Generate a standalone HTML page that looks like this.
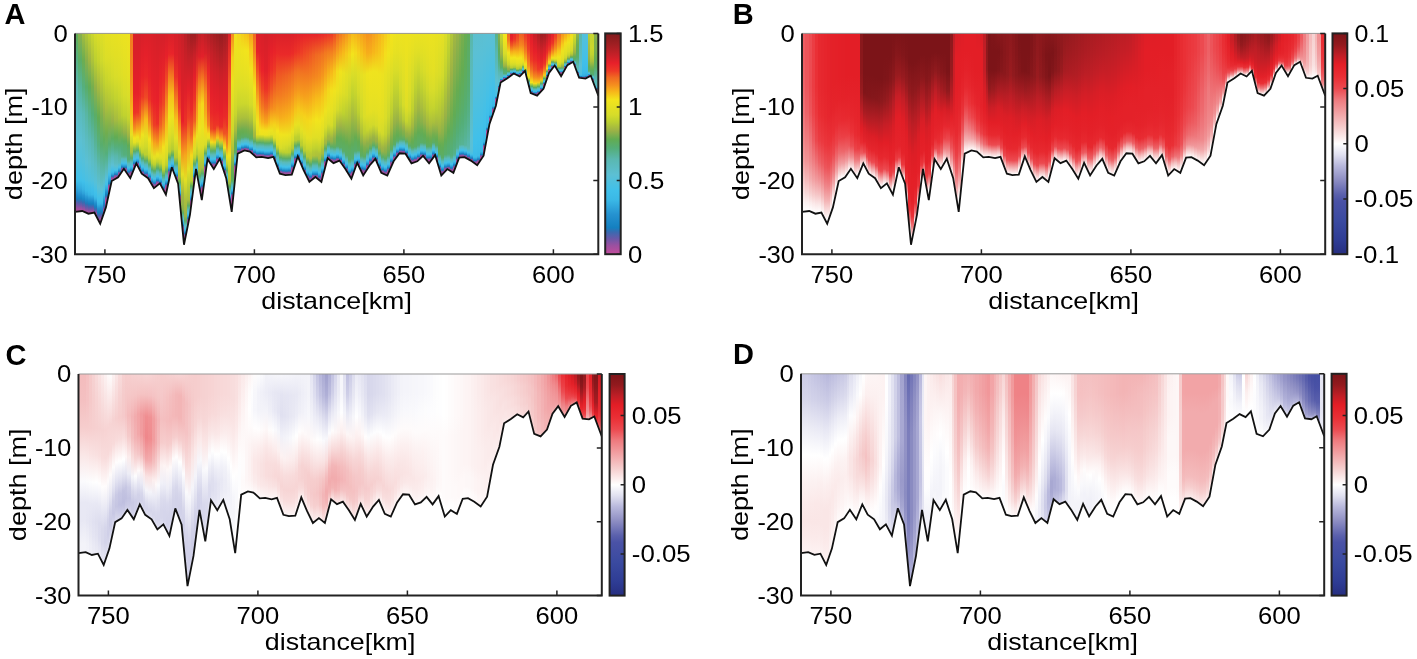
<!DOCTYPE html>
<html><head><meta charset="utf-8"><style>
html,body{margin:0;padding:0;background:#fff;width:1417px;height:659px;overflow:hidden;position:relative}
i{position:absolute;display:block;top:0}
svg{position:absolute;left:0;top:0;display:block;will-change:transform}
text{font-family:"Liberation Sans",sans-serif;fill:#000}
</style></head><body>
<div style="position:absolute;overflow:hidden;filter:blur(0.7px);left:75.0px;top:33.4px;width:523.3px;height:220.8px"><i style="left:0px;width:5px;height:180px;background:linear-gradient(#61ac56 0.0px,#55b084 26.7px,#5ab8b2 53.5px,#5bbdc6 80.2px,#5bc0d5 107.0px,#4fc0de 128.4px,#40c0ea 146.2px,#3ebde8 148.3px,#2ea2da 156.3px,#2491cf 160.4px,#1e8bca 162.3px,#1c7bbd 166.3px,#5361ac 169.4px,#5e5caa 170.3px,#7d55a5 172.8px,#9751a1 174.8px,#a44f9f 176.3px,#b64d9d 178.3px)"></i><i style="left:3px;width:6px;height:180px;background:linear-gradient(#8bb04a 0.0px,#5cad64 26.7px,#57b497 53.3px,#5bbbbd 80.0px,#5cc0d2 106.7px,#51c0dd 128.0px,#43c0e8 145.8px,#3fbfe9 147.8px,#33abde 155.8px,#2998d4 160.0px,#2390ce 161.8px,#1683c2 165.8px,#4267af 168.9px,#4f62ad 169.8px,#7157a7 172.3px,#8d52a2 174.3px,#9f50a0 175.8px,#b54d9d 177.8px)"></i><i style="left:7px;width:5px;height:182px;background:linear-gradient(#a6bc3f 0.0px,#6dad50 26.7px,#55af7e 53.5px,#5ab9b4 80.2px,#5cbecc 107.0px,#54c0da 128.4px,#46c0e5 146.2px,#40c0ea 148.3px,#37b2e3 156.3px,#2ea2d9 160.4px,#2795d2 162.3px,#1986c5 166.3px,#356db2 169.4px,#4367af 170.3px,#6759a8 172.8px,#8554a4 174.8px,#9b50a0 176.3px,#b64d9d 178.3px)"></i><i style="left:10px;width:5px;height:182px;background:linear-gradient(#b3c736 0.0px,#88b04a 26.9px,#59ad6a 53.9px,#59b6a3 80.8px,#5bbcc2 107.8px,#5ac0d6 129.3px,#4ac0e2 147.3px,#44c0e7 149.6px,#3ab9e6 157.6px,#32aade 161.7px,#2b9cd6 163.6px,#1c89c8 167.6px,#2477b9 170.6px,#376cb1 171.6px,#5e5daa 174.1px,#7d55a5 176.1px,#9451a1 177.6px,#b54d9d 179.6px)"></i><i style="left:13px;width:5px;height:182px;background:linear-gradient(#bfd12f 0.0px,#9fb544 27.0px,#60ac57 54.0px,#56b28d 81.0px,#5abab8 108.0px,#5cbfcf 129.6px,#4ec0df 147.6px,#48c0e3 150.0px,#3cbbe7 158.0px,#37b3e3 162.0px,#2fa4da 164.0px,#1f8bca 168.0px,#177ebf 171.0px,#2a73b7 172.0px,#5560ab 174.5px,#7656a6 176.5px,#8e52a2 178.0px,#b64d9d 180.0px)"></i><i style="left:16px;width:5px;height:182px;background:linear-gradient(#ccd72c 0.0px,#aec33a 26.9px,#76ae4e 53.8px,#54ae77 80.7px,#5ab7ac 107.6px,#5bbdc7 129.2px,#52c0db 147.1px,#4dc0e0 149.4px,#3ebde9 157.4px,#3bb9e7 161.5px,#33acdf 163.4px,#228fcd 167.4px,#1682c2 170.4px,#1d7bbc 171.4px,#4c63ad 173.9px,#6e57a7 175.9px,#8753a3 177.4px,#b64d9d 179.4px)"></i><i style="left:19px;width:5px;height:192px;background:linear-gradient(#d7dc29 0.0px,#bcd030 27.3px,#92b148 54.6px,#5bad66 81.9px,#57b396 109.1px,#5bbbc0 131.0px,#56c0d8 149.2px,#51c0dd 151.9px,#40c0ea 159.9px,#3dbce8 163.7px,#37b2e2 165.9px,#2491cf 169.9px,#1884c4 172.8px,#1480c0 173.9px,#4466ae 176.4px,#6759a8 178.4px,#8554a4 179.9px,#b64d9d 181.9px)"></i><i style="left:22px;width:5px;height:192px;background:linear-gradient(#dbdd28 0.0px,#c6d42e 28.1px,#a2b842 56.2px,#62ac53 84.4px,#55b081 112.5px,#5ab9b6 135.0px,#5cc0d3 153.7px,#54c0da 157.5px,#41c0e9 165.5px,#3ebde9 168.7px,#37b2e3 171.5px,#2592d0 175.5px,#1a86c6 178.1px,#1682c1 179.5px,#3f68af 182.0px,#645aa9 184.0px,#8554a4 185.5px,#b64d9d 187.5px)"></i><i style="left:25px;width:5px;height:192px;background:linear-gradient(#dede26 0.0px,#cfd92c 27.9px,#adc23a 55.9px,#7caf4d 83.8px,#58ad6d 111.7px,#59b6a7 134.1px,#5bbecb 152.7px,#5ac0d5 156.2px,#46c0e5 164.2px,#3fbfe9 167.6px,#3ab8e6 170.2px,#2897d3 174.2px,#1c89c8 176.9px,#1884c4 178.2px,#366cb2 180.7px,#5e5caa 182.7px,#8354a4 184.2px,#b54d9d 186.2px)"></i><i style="left:28px;width:4px;height:192px;background:linear-gradient(#e1df25 0.0px,#d7dc29 26.7px,#b9cd32 53.4px,#98b247 80.1px,#5fac5b 106.8px,#57b392 128.2px,#5bbcc2 146.0px,#5bbeca 148.1px,#4cc0e0 156.1px,#40c0ea 160.3px,#3cbbe8 162.1px,#2ca0d8 166.1px,#1e8bca 169.2px,#1b87c6 170.1px,#2874b8 172.6px,#575fab 174.6px,#8553a3 176.1px,#b64d9d 178.1px)"></i><i style="left:30px;width:5px;height:176px;background:linear-gradient(#e5e023 0.0px,#dcde27 25.1px,#c5d42e 50.2px,#a9be3d 75.3px,#70ad4f 100.4px,#54af7c 120.5px,#5bbaba 137.3px,#5bbabb 137.4px,#55c0da 145.4px,#43c0e8 150.7px,#40bfea 151.4px,#33abdf 155.4px,#218ecc 159.0px,#1f8cca 159.4px,#1480c0 161.9px,#4c63ad 163.9px,#8554a4 165.4px,#b64d9d 167.4px)"></i><i style="left:33px;width:5px;height:176px;background:linear-gradient(#e6e022 0.0px,#dede26 23.1px,#cdd82c 46.3px,#b2c737 69.4px,#85b04b 92.5px,#58ad6e 111.0px,#59b7ab 124.2px,#5ab9b3 126.4px,#5bbeca 132.2px,#50c0dd 138.2px,#4ec0df 138.8px,#3ebde9 142.2px,#30a7dc 146.2px,#2fa4da 146.5px,#2491cf 148.7px,#1480c0 150.7px,#8554a4 152.2px,#b64d9d 154.2px)"></i><i style="left:36px;width:5px;height:150px;background:linear-gradient(#e7e122 0.0px,#e0df25 22.0px,#d4db2a 44.0px,#bace32 66.0px,#98b247 88.0px,#5cad61 105.6px,#57b393 116.7px,#59b6a5 120.3px,#5bbaba 124.7px,#5cbfcf 130.7px,#5cc0d4 132.0px,#4fc0df 134.7px,#3ebee9 138.7px,#3dbce8 139.3px,#2fa5db 141.2px,#167fbf 143.2px,#8553a3 144.7px,#b64d9d 146.7px)"></i><i style="left:39px;width:6px;height:150px;background:linear-gradient(#e8e121 0.0px,#e2df24 21.7px,#d9dd29 43.4px,#c2d32f 65.2px,#a5bb40 86.9px,#61ac54 104.3px,#55af80 114.8px,#57b394 118.8px,#59b7ab 122.8px,#5bbbbd 128.8px,#5bbcc1 130.3px,#5cbfcd 132.8px,#47c0e5 136.8px,#3ebee9 137.6px,#30a6dc 139.3px,#1480c0 141.3px,#8354a4 142.8px,#b54d9d 144.8px)"></i><i style="left:43px;width:5px;height:146px;background:linear-gradient(#eae121 0.0px,#e3e024 21.3px,#dcde27 42.5px,#cad72d 63.8px,#b0c538 85.1px,#73ae4e 102.1px,#57ae6f 111.8px,#55b083 116.3px,#57b291 119.8px,#59b7a9 125.8px,#5ab8b0 127.6px,#5abab9 129.8px,#46c0e5 133.8px,#3ebde8 134.7px,#2fa5db 136.3px,#167fbf 138.3px,#8553a3 139.8px,#b64d9d 141.8px)"></i><i style="left:46px;width:4px;height:146px;background:linear-gradient(#ebe220 0.0px,#e5e023 20.6px,#dfdf26 41.3px,#d2da2b 61.9px,#bbcf31 82.5px,#86b04a 99.0px,#5dad60 108.1px,#56ae74 112.8px,#54ae7a 115.9px,#56b187 121.8px,#57b393 123.8px,#5abab8 125.7px,#46c0e5 129.7px,#3dbde8 130.6px,#30a6dc 132.1px,#157fc0 134.1px,#8653a3 135.6px,#b54d9d 137.5px)"></i><i style="left:48px;width:6px;height:147px;background:linear-gradient(#ece220 0.0px,#e7e122 20.7px,#e2df24 41.3px,#d7dc2a 62.0px,#c0d22f 82.6px,#93b148 99.2px,#60ac59 108.2px,#58ad6d 113.0px,#56ae73 116.1px,#55af7e 122.0px,#57b393 124.0px,#5abab8 125.9px,#46c0e5 129.9px,#3dbce8 130.9px,#30a6dc 132.3px,#1480c0 134.3px,#8553a3 135.8px,#b54d9d 137.7px)"></i><i style="left:52px;width:5px;height:147px;background:linear-gradient(#ede21f 0.0px,#eae121 21.4px,#e4e023 42.7px,#d9dd29 64.1px,#c5d42e 85.5px,#9eb445 102.6px,#61ac55 112.4px,#5aad68 116.8px,#58ad6e 120.4px,#54ae78 126.4px,#56b28c 128.2px,#5abab8 130.4px,#47c0e4 134.4px,#3ebde9 135.3px,#2fa4da 137.0px,#187ebe 139.0px,#8154a4 140.4px,#b54d9d 142.4px)"></i><i style="left:55px;width:5px;height:147px;background:linear-gradient(#f27c20 0.0px,#f38020 21.2px,#f48b1f 42.3px,#f6a01c 63.5px,#f6c31a 84.6px,#e5e023 101.6px,#c5d42e 111.1px,#aec339 115.7px,#aabf3d 119.1px,#5bad66 125.1px,#57b290 127.0px,#5abab9 129.1px,#46c0e5 133.1px,#3ebde8 134.0px,#2fa5db 135.6px,#167fbf 137.6px,#8553a3 139.1px,#b64d9d 141.1px)"></i><i style="left:58px;width:5px;height:147px;background:linear-gradient(#d92029 0.0px,#da2029 20.0px,#e0202a 40.1px,#e6202a 60.1px,#ed3427 80.2px,#f5941e 96.2px,#f2e41d 105.0px,#e4e023 109.6px,#bdd130 112.6px,#5bad66 118.4px,#57b393 120.3px,#5abab9 122.2px,#46c0e5 126.0px,#3dbde8 126.9px,#2fa5db 128.4px,#157fbf 130.3px,#8354a4 131.7px,#b54d9d 133.6px)"></i><i style="left:61px;width:5px;height:142px;background:linear-gradient(#d62029 0.0px,#da2029 19.9px,#e0202a 39.7px,#e6202a 59.6px,#ed3627 79.5px,#f6a11c 95.4px,#efe31e 104.1px,#e1df25 108.6px,#bcd030 111.7px,#5bad66 117.4px,#57b291 119.2px,#5abab8 121.1px,#47c0e5 124.9px,#3dbce8 125.9px,#30a5db 127.3px,#157fc0 129.2px,#8454a4 130.6px,#b64d9d 132.5px)"></i><i style="left:64px;width:4px;height:142px;background:linear-gradient(#d52029 0.0px,#dc2029 20.7px,#e3202a 41.3px,#e92629 62.0px,#ef5424 82.6px,#f7bd1a 99.1px,#e8e121 108.2px,#dcde27 112.9px,#bbd030 116.1px,#5bad66 122.0px,#57b391 123.9px,#5abab9 125.9px,#47c0e4 129.8px,#3dbce8 130.8px,#30a5db 132.3px,#187ebe 134.3px,#8254a4 135.7px,#b64d9d 137.7px)"></i><i style="left:66px;width:5px;height:147px;background:linear-gradient(#d82029 0.0px,#e2202a 21.2px,#e92329 42.4px,#ee3826 63.6px,#f5961d 84.9px,#eee31f 101.8px,#dbdd28 111.4px,#cdd82c 116.0px,#bdd030 119.4px,#5bad65 125.4px,#56b28f 127.3px,#5abab8 129.4px,#47c0e5 133.4px,#3dbce8 134.4px,#30a6dc 135.9px,#1480c0 137.9px,#8354a4 139.4px,#b54d9d 141.4px)"></i><i style="left:69px;width:6px;height:147px;background:linear-gradient(#da2029 0.0px,#e5202a 21.6px,#ea2729 43.1px,#ef4a25 64.7px,#f7ba1a 86.2px,#e4e023 103.4px,#cfd92c 113.7px,#c1d22f 117.8px,#bbcf31 121.7px,#5bad66 127.7px,#56b189 129.3px,#5abab9 131.7px,#46c0e5 135.7px,#3ebde9 136.5px,#2fa5db 138.2px,#167fbf 140.2px,#8553a3 141.7px,#b64d9d 143.7px)"></i><i style="left:73px;width:5px;height:157px;background:linear-gradient(#da2029 0.0px,#e2202a 22.1px,#e8222a 44.2px,#ec3227 66.3px,#f3841f 88.4px,#f3e41c 106.1px,#dbdd28 117.3px,#d0d92b 120.8px,#bcd030 125.3px,#5bad65 131.3px,#55b081 132.6px,#5abab9 135.3px,#47c0e5 139.3px,#3fbfe9 139.9px,#30a5db 141.8px,#1480c0 143.8px,#8554a4 145.3px,#b64d9d 147.3px)"></i><i style="left:76px;width:4px;height:157px;background:linear-gradient(#d92029 0.0px,#df2029 22.8px,#e5202a 45.7px,#ea2729 68.5px,#ef5d23 91.4px,#f6c11a 109.7px,#e0df25 122.3px,#dadd28 124.9px,#bcd030 130.3px,#5bad65 136.3px,#55ae75 137.1px,#5abab9 140.3px,#47c0e5 144.3px,#41c0e9 144.7px,#30a5db 146.8px,#1480c0 148.8px,#8554a4 150.3px,#b64d9d 152.3px)"></i><i style="left:78px;width:5px;height:157px;background:linear-gradient(#d72029 0.0px,#dd2029 23.0px,#e3202a 46.1px,#e9232a 69.1px,#ee3d26 92.1px,#f6a71c 110.6px,#e6e022 123.6px,#e0df25 125.9px,#bcd030 131.6px,#5bad66 137.6px,#56ae72 138.2px,#5abab9 141.6px,#46c0e5 145.6px,#42c0e9 145.9px,#2fa5db 148.1px,#167fbf 150.1px,#8553a3 151.6px,#b64d9d 153.6px)"></i><i style="left:81px;width:5px;height:157px;background:linear-gradient(#d42029 0.0px,#db2029 22.7px,#e1202a 45.3px,#e8202a 68.0px,#ec3027 90.7px,#f5921e 108.8px,#ece21f 121.1px,#e5e023 123.9px,#bdd130 129.1px,#5bad65 135.1px,#54ae77 136.0px,#5abab8 139.1px,#47c0e5 143.1px,#40c0ea 143.6px,#30a6dc 145.6px,#1480c0 147.6px,#8354a4 149.1px,#b54d9d 151.1px)"></i><i style="left:84px;width:5px;height:163px;background:linear-gradient(#d42029 0.0px,#dd2029 22.9px,#e8212a 45.8px,#ec3028 68.7px,#f05f23 91.6px,#f7ba1a 110.0px,#e4e023 122.7px,#dede26 125.2px,#bdd130 130.7px,#5bad65 136.7px,#55ae75 137.5px,#5abab8 140.7px,#47c0e5 144.7px,#41c0e9 145.1px,#30a6dc 147.2px,#1480c0 149.2px,#8354a4 150.7px,#b54d9d 152.7px)"></i><i style="left:87px;width:5px;height:163px;background:linear-gradient(#d42029 0.0px,#e0202a 23.8px,#ea2829 47.5px,#ef4725 71.3px,#f48a1f 95.0px,#f3e01c 114.0px,#dbdd28 128.4px,#d8dd29 129.9px,#bcd030 136.4px,#5bad66 142.4px,#5aad68 142.5px,#5abab9 146.4px,#46c0e5 150.4px,#45c0e6 150.5px,#2fa5db 152.9px,#167fbf 154.9px,#8553a3 156.4px,#b64d9d 158.4px)"></i><i style="left:90px;width:5px;height:163px;background:linear-gradient(#d62029 0.0px,#e7202a 23.2px,#ef4825 46.3px,#f4851f 69.5px,#f6bf1a 92.6px,#e9e121 111.1px,#d5db2a 124.4px,#ced82c 126.6px,#bcd030 132.4px,#5bad66 138.4px,#57ae70 138.9px,#5abab9 142.4px,#46c0e5 146.4px,#42c0e9 146.7px,#2fa5db 148.9px,#167fbf 150.9px,#8553a3 152.4px,#b64d9d 154.4px)"></i><i style="left:93px;width:5px;height:163px;background:linear-gradient(#d92029 0.0px,#e92529 21.1px,#f27a20 42.2px,#f6c31b 63.3px,#eee31e 84.4px,#ddde26 101.3px,#ced82c 110.7px,#c2d32f 115.4px,#bdd030 118.7px,#5bad65 124.7px,#57b392 126.7px,#5abab8 128.7px,#47c0e5 132.7px,#3dbce8 133.7px,#30a6dc 135.2px,#1480c0 137.2px,#8354a4 138.7px,#b54d9d 140.7px)"></i><i style="left:96px;width:5px;height:152px;background:linear-gradient(#d92029 0.0px,#e9232a 20.7px,#f17421 41.4px,#f6c11a 62.1px,#ede21f 82.8px,#dbdd27 99.4px,#c9d62d 108.4px,#bcd030 113.2px,#b7cc33 116.3px,#5bad65 122.2px,#57b392 124.2px,#5abab9 126.2px,#47c0e5 130.1px,#3dbce8 131.1px,#2fa5db 132.6px,#1581c1 134.5px,#8354a4 136.0px,#b64d9d 138.0px)"></i><i style="left:99px;width:6px;height:152px;background:linear-gradient(#d52029 0.0px,#de2029 21.9px,#ec3127 43.9px,#f27920 65.8px,#f6c51b 87.7px,#e3e024 105.3px,#cad62d 116.2px,#bcd030 119.9px,#b6ca34 124.2px,#5bad65 130.2px,#55b084 131.6px,#5abab9 134.2px,#47c0e5 138.2px,#3fbee9 138.9px,#30a5db 140.7px,#1480c0 142.7px,#8554a4 144.2px,#b64d9d 146.2px)"></i><i style="left:103px;width:5px;height:213px;background:linear-gradient(#cf2028 0.0px,#d82029 24.8px,#e8202a 49.7px,#ee3c26 74.5px,#f6a71c 99.3px,#e5e023 119.2px,#b1c637 135.5px,#b0c538 135.8px,#a7bc3e 143.5px,#5ead5c 149.0px,#5bad64 149.5px,#5abab8 153.5px,#49c0e3 157.3px,#47c0e4 157.5px,#30a7dc 160.0px,#1581c1 162.0px,#8154a4 163.5px,#b54d9d 165.5px)"></i><i style="left:106px;width:5px;height:213px;background:linear-gradient(#c82028 0.0px,#d42029 29.4px,#db2029 58.8px,#e8202a 88.2px,#f58f1e 117.6px,#e5e023 141.2px,#a2b742 160.8px,#9db246 166.0px,#8eb149 174.0px,#8ab04a 176.4px,#5bad64 180.0px,#5abab8 184.0px,#5ac0d5 186.2px,#47c0e4 188.0px,#30a7dc 190.5px,#1581c1 192.5px,#8154a4 194.0px,#b54d9d 196.0px)"></i><i style="left:109px;width:5px;height:213px;background:linear-gradient(#b92026 0.0px,#cd2028 30.6px,#e1202a 61.1px,#ec3227 91.7px,#f6a71c 122.3px,#e2df24 146.7px,#aabf3c 167.1px,#a4b941 173.8px,#9cb246 181.8px,#99b247 183.4px,#5bad66 187.8px,#5abab9 191.8px,#5cbfd2 193.6px,#46c0e5 195.8px,#2fa5db 198.3px,#167fbf 200.3px,#8553a3 201.8px,#b64d9d 203.8px)"></i><i style="left:112px;width:5px;height:213px;background:linear-gradient(#a91f23 0.0px,#c72028 28.3px,#e4202a 56.6px,#ee3f26 84.9px,#f6a71c 113.2px,#e4e023 135.9px,#b7cb34 154.8px,#b3c736 158.7px,#aabf3c 166.7px,#89b04a 169.9px,#5bad65 172.7px,#5abab8 176.7px,#56c0d9 179.3px,#47c0e5 180.7px,#30a6dc 183.2px,#1480c0 185.2px,#8354a4 186.7px,#b54d9d 188.7px)"></i><i style="left:115px;width:5px;height:183px;background:linear-gradient(#9c1e21 0.0px,#c42027 25.5px,#da2029 50.9px,#ea2929 76.4px,#f06423 101.8px,#f4d81b 122.2px,#cdd82c 139.2px,#ccd82c 139.7px,#bed130 147.7px,#61ac56 152.8px,#5bad64 153.7px,#5abab8 157.7px,#4bc0e1 161.3px,#47c0e4 161.7px,#30a7dc 164.2px,#1581c1 166.2px,#8154a4 167.7px,#b54d9d 169.7px)"></i><i style="left:118px;width:5px;height:183px;background:linear-gradient(#9c1e21 0.0px,#c82028 22.0px,#e5202a 44.1px,#ed3427 66.1px,#f06223 88.1px,#f5d01b 105.7px,#ddde27 116.8px,#d1da2b 120.4px,#bed130 124.8px,#5bad64 130.8px,#55b082 132.2px,#5abab8 134.8px,#47c0e4 138.8px,#3fbfe9 139.5px,#2fa4da 141.4px,#187ebe 143.4px,#8154a4 144.8px,#b54d9d 146.8px)"></i><i style="left:121px;width:4px;height:169px;background:linear-gradient(#ad1f24 0.0px,#d42029 21.5px,#ee3d26 43.0px,#f38120 64.5px,#f6a91b 85.9px,#eae220 103.1px,#d3da2b 113.2px,#c0d22f 117.4px,#bace31 121.2px,#5bad65 127.2px,#56b18a 128.9px,#5abab8 131.2px,#47c0e5 135.2px,#3ebde9 136.1px,#30a6dc 137.7px,#1480c0 139.7px,#8354a4 141.2px,#b54d9d 143.2px)"></i><i style="left:123px;width:5px;height:169px;background:linear-gradient(#be2026 0.0px,#df2029 23.8px,#f27521 47.7px,#f5ca1b 71.5px,#eee31e 95.3px,#dbdd28 114.4px,#b4c836 128.9px,#b0c538 130.3px,#a7bd3e 136.9px,#5bad66 142.9px,#5aad68 143.0px,#5abab9 146.9px,#46c0e5 150.9px,#2fa5db 153.4px,#167fbf 155.4px,#8553a3 156.9px,#b64d9d 158.9px)"></i><i style="left:126px;width:5px;height:169px;background:linear-gradient(#c52027 0.0px,#e3202a 23.5px,#f37e20 46.9px,#f4d71b 70.4px,#eae220 93.9px,#ddde27 112.6px,#b9cd32 126.4px,#b4c836 128.3px,#acc13b 134.4px,#5bad64 140.4px,#58ad6c 140.8px,#5abab8 144.4px,#47c0e4 148.4px,#44c0e7 148.6px,#30a7dc 150.9px,#1581c1 152.9px,#8154a4 154.4px,#b54d9d 156.4px)"></i><i style="left:129px;width:5px;height:169px;background:linear-gradient(#bc2026 0.0px,#d92029 20.4px,#ef4e24 40.8px,#f58e1e 61.2px,#f6ae1b 81.6px,#f4d81b 97.9px,#e1df25 106.8px,#d6dc2a 111.5px,#bcd030 114.6px,#5bad65 120.4px,#57b393 122.4px,#5abab9 124.3px,#46c0e5 128.2px,#3dbce8 129.2px,#30a6db 130.6px,#187ebe 132.6px,#8454a4 134.0px,#b54d9d 135.9px)"></i><i style="left:132px;width:5px;height:138px;background:linear-gradient(#b31f25 0.0px,#cf2028 19.2px,#ea2729 38.5px,#ee3e26 57.7px,#ef5a23 76.9px,#f3841f 92.3px,#f4da1c 100.7px,#e8e121 105.1px,#bbcf30 108.1px,#5bad64 113.5px,#57b393 115.4px,#5abab8 117.2px,#46c0e5 120.9px,#3dbce8 121.8px,#2fa4db 123.2px,#1480c0 125.0px,#8653a3 126.4px,#b64d9d 128.2px)"></i><i style="left:135px;width:5px;height:138px;background:linear-gradient(#aa1f24 0.0px,#c52028 20.0px,#d82029 40.0px,#e5202a 59.9px,#ea2829 79.9px,#ee4525 95.9px,#f6ac1b 104.7px,#f3df1c 109.2px,#bcd030 112.3px,#5bad65 118.0px,#57b393 119.9px,#5abab9 121.8px,#46c0e5 125.6px,#3dbde8 126.5px,#2fa5db 128.0px,#177ebf 129.9px,#8554a4 131.3px,#b64d9d 133.2px)"></i><i style="left:138px;width:5px;height:138px;background:linear-gradient(#a21f22 0.0px,#bd2026 20.0px,#d32029 39.9px,#e1202a 59.9px,#e92529 79.9px,#ee3926 95.8px,#f69f1d 104.6px,#f5d31b 109.2px,#bcd030 112.2px,#5bad65 117.9px,#57b392 119.8px,#5abab8 121.7px,#47c0e5 125.5px,#3dbce8 126.5px,#30a5db 127.9px,#1480c0 129.8px,#8354a4 131.2px,#b54d9d 133.1px)"></i><i style="left:141px;width:5px;height:138px;background:linear-gradient(#9c1e21 0.0px,#b52025 19.2px,#ce2028 38.4px,#de2029 57.6px,#e8222a 76.8px,#ed3427 92.1px,#f5941e 100.6px,#f6c61b 104.9px,#bbd030 107.9px,#5bad64 113.3px,#57b393 115.2px,#5abab9 117.0px,#46c0e5 120.7px,#3dbce8 121.6px,#30a7dc 122.9px,#167fbf 124.8px,#8154a4 126.1px,#b64d9d 128.0px)"></i><i style="left:144px;width:6px;height:147px;background:linear-gradient(#961d20 0.0px,#ae1f24 19.5px,#c82028 39.1px,#da2029 58.6px,#e7202a 78.1px,#eb2e28 93.8px,#f4881f 102.3px,#f7ba1a 106.8px,#bcd030 109.8px,#5bad66 115.4px,#57b391 117.2px,#5abab9 119.1px,#47c0e5 122.8px,#3dbde8 123.7px,#30a6dc 125.1px,#1580c0 127.0px,#8553a3 128.4px,#b54d9d 130.2px)"></i><i style="left:148px;width:5px;height:147px;background:linear-gradient(#9e1f22 0.0px,#b82026 21.0px,#d02028 42.0px,#df2029 63.0px,#ea2929 84.0px,#ef5524 100.8px,#f7ba1a 110.0px,#f0e31e 114.8px,#bbcf30 118.0px,#5bad66 124.0px,#57b393 126.0px,#5bbab9 128.0px,#46c0e5 132.0px,#3dbce8 133.0px,#2fa4db 134.5px,#187ebe 136.5px,#8653a3 138.0px,#b64d9d 140.0px)"></i><i style="left:151px;width:4px;height:180px;background:linear-gradient(#a81f23 0.0px,#c32027 23.0px,#d72029 46.0px,#e4202a 69.0px,#ec3327 91.9px,#f37e20 110.3px,#e8e121 123.2px,#dfdf26 125.6px,#bdd130 131.2px,#5bad65 137.2px,#56ae73 137.9px,#5abab8 141.2px,#47c0e5 145.2px,#41c0e9 145.6px,#30a6dc 147.7px,#1480c0 149.7px,#8354a4 151.2px,#b54d9d 153.2px)"></i><i style="left:153px;width:5px;height:180px;background:linear-gradient(#d82029 0.0px,#ed3527 25.5px,#f05f23 51.0px,#f27920 76.5px,#f6a01c 102.0px,#f1e41d 122.5px,#b8cd32 139.5px,#b8cc33 140.1px,#aec339 148.1px,#61ac56 153.1px,#5bad66 154.1px,#5abab9 158.1px,#4cc0e1 161.6px,#46c0e5 162.1px,#2fa5db 164.6px,#167fbf 166.6px,#8553a3 168.1px,#b64d9d 170.1px)"></i><i style="left:156px;width:5px;height:180px;background:linear-gradient(#f4871f 0.0px,#f5cc1b 24.6px,#ebe220 49.2px,#dede26 73.8px,#ccd72c 98.4px,#abc03c 118.0px,#72ae4f 134.0px,#70ad4f 134.4px,#61ac54 142.0px,#5dad5f 147.6px,#5bad66 148.0px,#5bbab9 152.0px,#48c0e4 155.8px,#46c0e5 156.0px,#30a7dc 158.4px,#1581c1 160.4px,#8653a3 162.0px,#b64d9d 164.0px)"></i><i style="left:159px;width:5px;height:180px;background:linear-gradient(#f3e01c 0.0px,#ebe220 20.2px,#e6e022 40.5px,#dbdd28 60.7px,#c8d62d 80.9px,#a7bc3e 97.1px,#7eaf4c 106.0px,#64ac52 110.6px,#60ac56 113.7px,#5bad64 119.4px,#57b393 121.4px,#5abab9 123.3px,#47c0e4 127.1px,#3dbce8 128.1px,#2fa4db 129.6px,#167fbf 131.5px,#8354a4 132.9px,#b54d9d 134.8px)"></i><i style="left:162px;width:6px;height:122px;background:linear-gradient(#f4d61b 0.0px,#ede21f 17.9px,#e7e122 35.8px,#dcde27 53.8px,#c9d62d 71.7px,#a8be3d 86.0px,#82af4b 93.9px,#68ad51 98.0px,#62ac53 100.7px,#5bad65 105.8px,#57b391 107.5px,#5abab8 109.2px,#47c0e4 112.6px,#3dbce8 113.5px,#2fa5db 114.8px,#157fc0 116.5px,#8653a3 117.8px,#b64d9d 119.5px)"></i><i style="left:166px;width:5px;height:122px;background:linear-gradient(#f5cc1b 0.0px,#efe31e 17.7px,#e8e121 35.3px,#ddde26 53.0px,#cbd72d 70.7px,#aabf3c 84.8px,#86b04b 92.6px,#6dad50 96.6px,#65ac51 99.3px,#5bad66 104.4px,#57b291 106.0px,#5abab8 107.7px,#47c0e5 111.1px,#3dbde8 111.9px,#30a5db 113.2px,#167fbf 114.9px,#8154a4 116.1px,#b54d9d 117.8px)"></i><i style="left:169px;width:5px;height:120px;background:linear-gradient(#f6c21a 0.0px,#f1e41d 17.6px,#eae121 35.2px,#dfde26 52.8px,#ccd72c 70.4px,#abc03c 84.4px,#8ab04a 92.1px,#71ae4f 96.2px,#69ad50 98.8px,#5bad66 103.9px,#57b291 105.5px,#5abab8 107.2px,#46c0e5 110.6px,#3dbce8 111.4px,#2fa4db 112.7px,#1581c1 114.3px,#8554a4 115.6px,#b64d9d 117.3px)"></i><i style="left:172px;width:4px;height:120px;background:linear-gradient(#f7b91a 0.0px,#f3e31c 17.7px,#ebe220 35.3px,#e0df25 53.0px,#ced82c 70.7px,#acc13b 84.8px,#8cb049 92.6px,#75ae4e 96.6px,#6dad50 99.3px,#5bad66 104.4px,#57b291 106.0px,#5abab8 107.7px,#47c0e5 111.1px,#3dbde8 111.9px,#30a5db 113.2px,#167fbf 114.9px,#8154a4 116.1px,#b54d9d 117.8px)"></i><i style="left:174px;width:6px;height:126px;background:linear-gradient(#f69f1c 0.0px,#f5ca1b 17.9px,#f0e31e 35.9px,#e3e024 53.8px,#d4db2a 71.7px,#afc439 86.1px,#8fb149 93.9px,#76ae4e 98.0px,#6dad50 100.8px,#5bad65 105.9px,#57b392 107.6px,#5abab9 109.3px,#47c0e5 112.7px,#3dbce8 113.6px,#2fa4da 114.9px,#187ebe 116.6px,#8154a4 117.8px,#b54d9d 119.5px)"></i><i style="left:178px;width:5px;height:126px;background:linear-gradient(#f06722 0.0px,#f4851f 18.4px,#f7b71a 36.7px,#f2e41c 55.1px,#e3df24 73.5px,#cbd72c 88.2px,#b2c637 96.2px,#a5ba40 100.4px,#a0b643 103.2px,#5bad66 108.5px,#57b392 110.2px,#5bbab9 112.0px,#46c0e5 115.5px,#3dbde8 116.3px,#30a6dc 117.6px,#157fc0 119.4px,#8554a4 120.7px,#b54d9d 122.4px)"></i><i style="left:181px;width:5px;height:126px;background:linear-gradient(#da2029 0.0px,#e6202a 18.6px,#ef5024 37.1px,#f48a1f 55.7px,#f6c61b 74.3px,#efe31e 89.1px,#e6e022 97.3px,#e1df25 101.5px,#bed12f 104.3px,#5bad66 109.7px,#57b392 111.4px,#5abab9 113.2px,#47c0e5 116.7px,#3dbce8 117.6px,#30a6dc 118.9px,#1480c0 120.7px,#8254a4 122.0px,#b64d9d 123.8px)"></i><i style="left:184px;width:4px;height:126px;background:linear-gradient(#da2029 0.0px,#e1202a 18.5px,#eb2e28 37.1px,#f06123 55.6px,#f5911e 74.2px,#f6c41b 89.0px,#f1e41d 97.1px,#ebe220 101.4px,#bcd030 104.2px,#5bad66 109.5px,#57b291 111.2px,#5abab8 113.0px,#47c0e4 116.5px,#3dbce8 117.4px,#30a7dc 118.7px,#1480c0 120.5px,#8254a4 121.8px,#b64d9d 123.6px)"></i><i style="left:186px;width:5px;height:127px;background:linear-gradient(#d82029 0.0px,#de2029 18.6px,#e9222a 37.1px,#ee4225 55.7px,#f27a20 74.3px,#f7b31b 89.2px,#f3e11c 97.3px,#ece21f 101.5px,#bbd030 104.4px,#5bad66 109.7px,#57b291 111.4px,#5abab8 113.2px,#47c0e4 116.7px,#3dbde8 117.6px,#2fa4db 119.0px,#1480c0 120.7px,#8653a3 122.1px,#b54d9d 123.8px)"></i><i style="left:189px;width:6px;height:127px;background:linear-gradient(#d42029 0.0px,#db2029 18.7px,#e1202a 37.3px,#ec3327 56.0px,#f06b22 74.7px,#f6a91b 89.6px,#f3e11c 97.8px,#eae220 102.1px,#bdd030 104.9px,#5bad64 110.2px,#57b391 112.0px,#5abab8 113.8px,#46c0e5 117.4px,#3dbce8 118.3px,#30a5db 119.6px,#187ebf 121.4px,#8554a4 122.7px,#b64d9d 124.5px)"></i><i style="left:193px;width:4px;height:127px;background:linear-gradient(#d62029 0.0px,#e1202a 18.7px,#e92529 37.3px,#ee4025 56.0px,#f27920 74.7px,#f7b81a 89.6px,#f0e31e 97.8px,#e6e122 102.1px,#bdd030 104.9px,#5bad64 110.2px,#57b391 112.0px,#5abab8 113.8px,#46c0e5 117.4px,#3dbce8 118.3px,#30a5db 119.6px,#187ebf 121.4px,#8554a4 122.7px,#b64d9d 124.5px)"></i><i style="left:195px;width:5px;height:127px;background:linear-gradient(#d72029 0.0px,#e6202a 18.6px,#ec2f28 37.1px,#ef5324 55.7px,#f4861f 74.3px,#f6c61b 89.2px,#ece220 97.3px,#e3e024 101.5px,#bbd030 104.4px,#5bad66 109.7px,#57b291 111.4px,#5abab8 113.2px,#47c0e4 116.7px,#3dbde8 117.6px,#2fa4db 119.0px,#1480c0 120.7px,#8653a3 122.1px,#b54d9d 123.8px)"></i><i style="left:198px;width:5px;height:142px;background:linear-gradient(#d92029 0.0px,#e92329 19.2px,#ee3b26 38.3px,#f06922 57.5px,#f5951d 76.6px,#f4d41b 91.9px,#e7e122 100.3px,#dfde26 104.7px,#bed130 107.6px,#5bad65 113.1px,#57b391 114.9px,#5bbab9 116.8px,#47c0e5 120.4px,#3dbce8 121.3px,#2fa5db 122.7px,#1480c0 124.5px,#8653a3 125.9px,#b64d9d 127.7px)"></i><i style="left:201px;width:5px;height:142px;background:linear-gradient(#da2029 0.0px,#ea2929 20.4px,#ef5524 40.8px,#f27820 61.2px,#f6a91c 81.7px,#f3e41c 98.0px,#e3e024 106.9px,#dadd28 111.6px,#bdd030 114.7px,#5bad64 120.5px,#57b392 122.5px,#5abab8 124.4px,#47c0e5 128.3px,#3dbce8 129.3px,#2fa4db 130.8px,#1480c0 132.7px,#8653a3 134.2px,#b64d9d 136.1px)"></i><i style="left:204px;width:5px;height:144px;background:linear-gradient(#da2029 0.0px,#ea2929 21.1px,#ef5923 42.2px,#f37d20 63.3px,#f6ac1b 84.4px,#f1e31d 101.3px,#e0df25 110.6px,#d7dc2a 115.3px,#bed130 118.6px,#5bad64 124.6px,#57b291 126.6px,#5abab8 128.6px,#47c0e4 132.6px,#3dbde8 133.6px,#30a7dc 135.1px,#1581c1 137.1px,#8154a4 138.6px,#b54d9d 140.6px)"></i><i style="left:207px;width:5px;height:144px;background:linear-gradient(#da2029 0.0px,#ea2929 21.2px,#ef5e23 42.4px,#f38220 63.6px,#f7b01b 84.8px,#efe31e 101.8px,#dcde27 111.4px,#d0d92b 115.9px,#bbcf30 119.4px,#5bad66 125.4px,#56b28e 127.2px,#5bbab9 129.4px,#46c0e5 133.4px,#3dbde8 134.3px,#30a7dc 135.8px,#1581c1 137.8px,#8653a3 139.4px,#b64d9d 141.4px)"></i><i style="left:210px;width:5px;height:144px;background:linear-gradient(#da2029 0.0px,#ea2929 21.2px,#f06223 42.5px,#f4861f 63.7px,#f7b41a 84.9px,#eee31f 101.9px,#d9dd28 111.6px,#c9d62d 116.1px,#bcd030 119.6px,#5bad66 125.6px,#56b28e 127.4px,#5abab9 129.6px,#46c0e5 133.6px,#3ebde8 134.5px,#2fa5db 136.1px,#167fbf 138.1px,#8553a3 139.6px,#b64d9d 141.6px)"></i><i style="left:213px;width:5px;height:144px;background:linear-gradient(#da2029 0.0px,#ea2929 21.2px,#f06722 42.4px,#f48b1e 63.6px,#f7b81a 84.8px,#ece220 101.8px,#d6dc2a 111.3px,#c1d22f 115.9px,#bbd030 119.3px,#5bad65 125.3px,#56b28f 127.2px,#5abab8 129.3px,#47c0e5 133.3px,#3dbce8 134.3px,#30a6dc 135.8px,#1480c0 137.8px,#8354a4 139.3px,#b54d9d 141.3px)"></i><i style="left:216px;width:5px;height:143px;background:linear-gradient(#db2029 0.0px,#eb2b28 20.5px,#f06b22 41.0px,#f5901e 61.5px,#f7bd1a 82.0px,#eae220 98.4px,#d3db2b 107.4px,#bcd030 112.1px,#b7cc33 115.2px,#5bad64 121.0px,#57b393 123.0px,#5abab8 124.9px,#47c0e4 128.8px,#3dbce8 129.8px,#2fa5db 131.3px,#1480c0 133.2px,#8554a4 134.7px,#b54d9d 136.6px)"></i><i style="left:219px;width:5px;height:143px;background:linear-gradient(#de2029 0.0px,#ec3127 19.1px,#f16f22 38.3px,#f5941e 57.4px,#f6c21a 76.5px,#e9e121 91.8px,#d3da2b 100.2px,#bcd030 104.6px,#b7cc33 107.5px,#5bad66 113.0px,#57b392 114.8px,#5abab8 116.6px,#46c0e5 120.3px,#3dbce8 121.2px,#30a6dc 122.5px,#187ebe 124.4px,#8254a4 125.7px,#b54d9d 127.5px)"></i><i style="left:222px;width:5px;height:139px;background:linear-gradient(#e1202a 0.0px,#ed3627 19.0px,#f17221 37.9px,#f5981d 56.9px,#f6c81b 75.9px,#e8e121 91.0px,#d2da2b 99.3px,#bcd030 103.7px,#b7cc33 106.6px,#5bad66 112.0px,#57b393 113.8px,#5abab9 115.6px,#47c0e5 119.2px,#3dbce8 120.1px,#2fa4db 121.5px,#177ebf 123.3px,#8354a4 124.6px,#b54d9d 126.4px)"></i><i style="left:225px;width:5px;height:139px;background:linear-gradient(#e4202a 0.0px,#ee3e26 20.0px,#f17521 40.0px,#f69b1d 60.0px,#f5ce1b 80.0px,#e6e122 96.0px,#d1da2b 104.7px,#bcd030 109.3px,#b7cc33 112.3px,#5bad64 118.0px,#57b291 119.9px,#5bbab9 121.9px,#46c0e5 125.7px,#3dbce8 126.6px,#30a6dc 128.0px,#1581c1 129.9px,#8653a3 131.4px,#b64d9d 133.3px)"></i><i style="left:228px;width:5px;height:150px;background:linear-gradient(#e6202a 0.0px,#ef4925 20.9px,#f27820 41.9px,#f69f1c 62.8px,#f5d31b 83.8px,#e5e023 100.5px,#d0d92b 109.7px,#bcd030 114.5px,#b7cc33 117.7px,#5bad65 123.7px,#57b392 125.7px,#5abab9 127.7px,#46c0e5 131.7px,#3dbce8 132.7px,#2fa4db 134.2px,#177ebf 136.2px,#8653a3 137.7px,#b54d9d 139.6px)"></i><i style="left:231px;width:5px;height:150px;background:linear-gradient(#e6202a 0.0px,#ef5124 21.8px,#f27c20 43.7px,#f6a61c 65.5px,#f4d71b 87.3px,#e4e023 104.8px,#c9d62d 115.5px,#b9ce32 119.4px,#b4c836 123.5px,#5bad64 129.5px,#55b085 131.0px,#5abab8 133.5px,#47c0e4 137.5px,#3ebee9 138.3px,#30a7dc 140.0px,#1581c1 142.0px,#8154a4 143.5px,#b54d9d 145.5px)"></i><i style="left:234px;width:5px;height:150px;background:linear-gradient(#e6202a 0.0px,#ef5923 22.1px,#f37f20 44.2px,#f6ac1b 66.3px,#f4db1c 88.4px,#e3df24 106.0px,#c4d42e 117.3px,#b7cb34 120.8px,#b1c538 125.3px,#5bad66 131.3px,#55af7f 132.5px,#5abab9 135.3px,#46c0e5 139.3px,#3fbfe9 139.9px,#2fa5db 141.8px,#167fbf 143.8px,#8553a3 145.3px,#b64d9d 147.3px)"></i><i style="left:237px;width:5px;height:150px;background:linear-gradient(#e6202a 0.0px,#f06123 21.7px,#f3831f 43.4px,#f7b31b 65.2px,#f3df1c 86.9px,#e1df25 104.3px,#c3d32e 114.8px,#b4c935 118.8px,#afc339 122.8px,#5bad65 128.8px,#55b085 130.3px,#5abab8 132.8px,#47c0e5 136.8px,#3ebee9 137.6px,#30a6dc 139.3px,#1480c0 141.3px,#8354a4 142.8px,#b54d9d 144.8px)"></i><i style="left:240px;width:5px;height:150px;background:linear-gradient(#e6202a 0.0px,#f06922 21.7px,#f4871f 43.4px,#f7ba1a 65.2px,#f3e41c 86.9px,#e0df25 104.3px,#c0d22f 114.8px,#b2c637 118.8px,#acc13b 122.8px,#5bad65 128.8px,#55b085 130.3px,#5abab8 132.8px,#47c0e5 136.8px,#3ebee9 137.6px,#30a6dc 139.3px,#1480c0 141.3px,#8354a4 142.8px,#b54d9d 144.8px)"></i><i style="left:243px;width:5px;height:150px;background:linear-gradient(#e8222a 0.0px,#f16e22 22.1px,#f58e1e 44.2px,#f6bf1a 66.3px,#f1e41d 88.4px,#dede26 106.0px,#bbcf31 117.3px,#aec33a 120.8px,#a8bd3e 125.3px,#5bad66 131.3px,#55af7f 132.5px,#5abab9 135.3px,#46c0e5 139.3px,#3fbfe9 139.9px,#2fa5db 141.8px,#167fbf 143.8px,#8553a3 145.3px,#b64d9d 147.3px)"></i><i style="left:246px;width:5px;height:150px;background:linear-gradient(#e92529 0.0px,#f17321 21.4px,#f5961d 42.8px,#f6c51b 64.2px,#efe31e 85.5px,#dcde27 102.7px,#bbcf31 112.6px,#aac03c 116.9px,#a5bb40 120.6px,#5bad66 126.6px,#56b18b 128.3px,#5abab9 130.6px,#46c0e5 134.6px,#3ebde9 135.4px,#2fa5db 137.1px,#167fbf 139.1px,#8553a3 140.6px,#b64d9d 142.6px)"></i><i style="left:249px;width:5px;height:150px;background:linear-gradient(#ea2929 0.0px,#f27820 19.6px,#f69f1c 39.2px,#f5cb1b 58.8px,#eee21f 78.4px,#dadd28 94.1px,#b9cd32 102.7px,#a7bc3f 107.2px,#a2b842 110.2px,#5bad65 115.8px,#57b393 117.7px,#5abab8 119.5px,#46c0e5 123.3px,#3dbce8 124.2px,#30a5db 125.6px,#187ebe 127.5px,#8653a3 128.9px,#b54d9d 130.7px)"></i><i style="left:252px;width:5px;height:132px;background:linear-gradient(#eb2f28 0.0px,#f27c20 18.9px,#f6ab1b 37.8px,#f4d61b 56.7px,#eae220 75.6px,#d8dd29 90.7px,#b4c935 99.0px,#a2b842 103.3px,#9eb345 106.2px,#5bad65 111.6px,#57b392 113.4px,#5abab8 115.2px,#47c0e5 118.8px,#3dbde8 119.7px,#2fa5db 121.1px,#167fbf 122.9px,#8354a4 124.2px,#b54d9d 126.0px)"></i><i style="left:255px;width:5px;height:132px;background:linear-gradient(#ed3527 0.0px,#f37f20 19.3px,#f7b61a 38.5px,#f3e01c 57.8px,#e6e122 77.1px,#d5db2a 92.5px,#b0c538 100.9px,#9eb445 105.3px,#96b147 108.3px,#5bad65 113.8px,#57b391 115.6px,#5bbab9 117.5px,#47c0e4 121.1px,#3dbce8 122.1px,#30a6dc 123.4px,#177ebf 125.3px,#8254a4 126.6px,#b64d9d 128.5px)"></i><i style="left:258px;width:5px;height:132px;background:linear-gradient(#ef4925 0.0px,#f48b1f 19.4px,#f6c71b 38.7px,#f0e31e 58.1px,#dfde26 77.4px,#bfd22f 92.9px,#a0b643 101.4px,#86b04b 105.8px,#7eaf4c 108.8px,#5bad65 114.3px,#57b393 116.2px,#5abab8 118.0px,#47c0e5 121.7px,#3dbce8 122.6px,#30a6db 124.0px,#1581c1 125.8px,#8254a4 127.2px,#b64d9d 129.1px)"></i><i style="left:261px;width:5px;height:132px;background:linear-gradient(#f06722 0.0px,#f69e1d 19.2px,#f4da1c 38.3px,#ebe220 57.5px,#d5db2a 76.7px,#a4b941 92.0px,#7daf4c 100.4px,#65ac51 104.8px,#61ac56 107.7px,#5bad65 113.2px,#57b291 115.0px,#5bbab9 116.9px,#47c0e5 120.5px,#3dbde8 121.4px,#30a6db 122.8px,#1480c0 124.6px,#8554a4 126.0px,#b54d9d 127.8px)"></i><i style="left:264px;width:5px;height:138px;background:linear-gradient(#f27721 0.0px,#f6ac1b 19.4px,#f0e31d 38.8px,#e5e023 58.2px,#cad62d 77.6px,#9db346 93.1px,#73ae4f 101.6px,#61ac55 106.0px,#5fac5b 109.0px,#5bad65 114.5px,#57b392 116.4px,#5abab8 118.2px,#47c0e4 121.9px,#3dbce8 122.9px,#30a7dc 124.2px,#1580c0 126.1px,#8553a3 127.5px,#b54d9d 129.3px)"></i><i style="left:267px;width:5px;height:138px;background:linear-gradient(#f4861f 0.0px,#f7ba1a 20.0px,#eae220 40.1px,#dede26 60.1px,#bfd22f 80.1px,#93b148 96.2px,#6bad50 105.0px,#5fac59 109.5px,#5dad5f 112.6px,#5aad69 118.3px,#57b392 120.2px,#5abab8 122.1px,#47c0e4 125.9px,#3dbce8 126.9px,#30a6dc 128.3px,#1481c0 130.2px,#8653a3 131.7px,#b64d9d 133.6px)"></i><i style="left:270px;width:5px;height:147px;background:linear-gradient(#f5951d 0.0px,#f6c81b 20.7px,#e4e023 41.4px,#d7dc29 62.2px,#b5ca35 82.9px,#8ab04a 99.4px,#65ac51 108.5px,#5ead5d 113.3px,#5cad62 116.4px,#58ad6d 122.3px,#57b392 124.3px,#5abab9 126.3px,#47c0e4 130.2px,#3dbce8 131.2px,#30a5db 132.7px,#167fbf 134.7px,#8653a3 136.2px,#b54d9d 138.1px)"></i><i style="left:273px;width:5px;height:147px;background:linear-gradient(#f6a71c 0.0px,#f4d51b 21.4px,#dede26 42.9px,#cbd72d 64.3px,#acc13b 85.8px,#80af4c 102.9px,#60ac57 113.0px,#5dad61 117.2px,#5aad67 121.0px,#57ae71 127.0px,#56b18b 128.7px,#5abab9 131.0px,#46c0e5 135.0px,#3ebde9 135.8px,#2fa5db 137.5px,#167fbf 139.5px,#8553a3 141.0px,#b64d9d 143.0px)"></i><i style="left:276px;width:5px;height:147px;background:linear-gradient(#f7b81a 0.0px,#f3e31c 21.2px,#d8dd29 42.4px,#bdd130 63.6px,#a2b842 84.8px,#76ae4e 101.8px,#5fac5a 111.4px,#5bad65 115.9px,#59ad6a 119.4px,#55ae75 125.4px,#57b290 127.3px,#5abab9 129.4px,#47c0e5 133.4px,#3ebde8 134.3px,#30a5db 135.9px,#1480c0 137.9px,#8554a4 139.4px,#b64d9d 141.4px)"></i><i style="left:279px;width:5px;height:147px;background:linear-gradient(#f7b31a 0.0px,#f4db1c 20.0px,#dbdd27 40.0px,#c7d52d 60.0px,#aec339 80.0px,#8ab04a 96.0px,#65ac51 104.8px,#5ead5d 109.4px,#5cad62 112.4px,#58ad6d 118.2px,#57b393 120.1px,#5bbab9 122.0px,#46c0e5 125.8px,#3dbde8 126.7px,#2fa4db 128.2px,#177ebf 130.1px,#8554a4 131.5px,#b64d9d 133.4px)"></i><i style="left:282px;width:5px;height:144px;background:linear-gradient(#f6ab1b 0.0px,#f5d01b 19.9px,#e0df25 39.8px,#d4db2b 59.7px,#bdd030 79.5px,#9eb444 95.5px,#76ae4e 104.2px,#61ac54 108.7px,#5fac59 111.7px,#5bad65 117.4px,#57b392 119.3px,#5abab8 121.2px,#47c0e5 125.0px,#3dbde8 125.9px,#2fa5db 127.4px,#187ebf 129.3px,#8553a3 130.7px,#b64d9d 132.6px)"></i><i style="left:285px;width:5px;height:144px;background:linear-gradient(#f6a31c 0.0px,#f6c51b 20.8px,#e5e023 41.7px,#dbdd28 62.5px,#cdd82c 83.4px,#abc03b 100.0px,#87b04a 109.2px,#6ead4f 113.9px,#66ac51 117.1px,#5bad64 123.0px,#57b391 125.0px,#5abab8 127.0px,#46c0e5 131.0px,#3dbce8 132.0px,#2fa5db 133.5px,#187ebe 135.5px,#8254a4 136.9px,#b54d9d 138.9px)"></i><i style="left:288px;width:5px;height:144px;background:linear-gradient(#f69a1d 0.0px,#f7ba1a 20.9px,#e9e121 41.9px,#e2df24 62.8px,#dadd28 83.8px,#b9cd32 100.5px,#99b247 109.7px,#7daf4c 114.5px,#74ae4e 117.7px,#5bad64 123.6px,#57b291 125.6px,#5abab8 127.6px,#47c0e5 131.6px,#3dbce8 132.6px,#30a6db 134.1px,#1480c0 136.1px,#8454a4 137.6px,#b64d9d 139.6px)"></i><i style="left:291px;width:5px;height:144px;background:linear-gradient(#f5911e 0.0px,#f6ad1b 20.2px,#eee31e 40.4px,#e8e121 60.6px,#e2df24 80.8px,#c7d52d 96.9px,#a5ba40 105.8px,#8cb049 110.4px,#84b04b 113.4px,#5bad65 119.2px,#57b291 121.1px,#5bbab9 123.1px,#47c0e5 126.9px,#3dbce8 127.9px,#30a6db 129.3px,#1481c0 131.2px,#8553a3 132.7px,#b64d9d 134.6px)"></i><i style="left:294px;width:5px;height:134px;background:linear-gradient(#f5941e 0.0px,#f6ae1b 19.6px,#f0e31e 39.1px,#ebe220 58.7px,#e5e023 78.3px,#cfd92c 93.9px,#aabf3c 102.5px,#95b147 106.9px,#8db049 109.9px,#5bad65 115.5px,#57b393 117.4px,#5abab8 119.2px,#46c0e5 123.0px,#3dbce8 123.9px,#30a6db 125.3px,#177ebf 127.2px,#8653a3 128.6px,#b54d9d 130.4px)"></i><i style="left:297px;width:5px;height:134px;background:linear-gradient(#f69f1d 0.0px,#f7b61a 19.1px,#efe31e 38.1px,#ebe220 57.2px,#e5e023 76.2px,#d2da2b 91.5px,#adc23a 99.8px,#9ab246 104.2px,#91b148 107.1px,#5bad66 112.6px,#57b393 114.4px,#5abab9 116.2px,#47c0e5 119.8px,#3dbce8 120.7px,#2fa5db 122.1px,#1480c0 123.9px,#8653a3 125.3px,#b64d9d 127.1px)"></i><i style="left:300px;width:5px;height:141px;background:linear-gradient(#f6a91b 0.0px,#f6be1a 19.3px,#efe31e 38.7px,#ebe220 58.0px,#e5e023 77.3px,#d5db2a 92.8px,#afc439 101.3px,#9db345 105.7px,#96b147 108.6px,#5bad66 114.2px,#57b392 116.0px,#5bbab9 117.9px,#47c0e4 121.5px,#3dbce8 122.5px,#30a6dc 123.8px,#167fbf 125.7px,#8653a3 127.1px,#b64d9d 128.9px)"></i><i style="left:303px;width:5px;height:141px;background:linear-gradient(#f7b41a 0.0px,#f6c61b 20.4px,#eee31e 40.8px,#ebe220 61.2px,#e5e023 81.5px,#d7dc2a 97.8px,#b2c737 106.8px,#a0b643 111.4px,#9bb246 114.5px,#5bad66 120.4px,#57b392 122.3px,#5bbab9 124.3px,#47c0e4 128.1px,#3dbce8 129.1px,#2fa4db 130.6px,#1480c0 132.5px,#8653a3 134.0px,#b64d9d 135.9px)"></i><i style="left:306px;width:5px;height:144px;background:linear-gradient(#f6bf1a 0.0px,#f5d01b 21.0px,#ece220 42.0px,#e8e121 63.0px,#e2df24 84.0px,#d2da2b 100.9px,#afc439 110.1px,#9eb445 114.9px,#98b247 118.1px,#5bad66 124.1px,#57b393 126.1px,#5abab9 128.1px,#46c0e5 132.1px,#3dbce8 133.1px,#2fa5db 134.6px,#167fbf 136.6px,#8553a3 138.1px,#b64d9d 140.1px)"></i><i style="left:309px;width:5px;height:144px;background:linear-gradient(#f5cb1b 0.0px,#f4de1c 21.2px,#e7e122 42.4px,#e1df25 63.6px,#dadd28 84.9px,#c4d32e 101.8px,#a5ba40 111.4px,#92b148 116.0px,#8ab04a 119.4px,#5bad65 125.4px,#56b28f 127.3px,#5abab8 129.4px,#47c0e5 133.4px,#3dbce8 134.4px,#30a6dc 135.9px,#1480c0 137.9px,#8354a4 139.4px,#b54d9d 141.4px)"></i><i style="left:312px;width:5px;height:144px;background:linear-gradient(#f4d71b 0.0px,#f0e31d 20.8px,#e3df24 41.6px,#dadd28 62.3px,#ced82c 83.1px,#b5c935 99.8px,#9cb246 108.9px,#85b04b 113.6px,#7caf4d 116.8px,#5bad65 122.7px,#57b392 124.7px,#5abab9 126.7px,#47c0e4 130.6px,#3dbce8 131.6px,#30a6db 133.1px,#157fc0 135.1px,#8653a3 136.6px,#b54d9d 138.5px)"></i><i style="left:315px;width:5px;height:144px;background:linear-gradient(#f3e31c 0.0px,#ece21f 19.7px,#dede26 39.4px,#d1da2b 59.2px,#bdd030 78.9px,#a6bb3f 94.6px,#89b04a 103.3px,#76ae4e 107.8px,#6ead50 110.8px,#5bad65 116.4px,#57b392 118.3px,#5abab9 120.2px,#47c0e4 123.9px,#3dbce8 124.9px,#30a5db 126.3px,#177ebf 128.2px,#8653a3 129.6px,#b54d9d 131.4px)"></i><i style="left:318px;width:5px;height:130px;background:linear-gradient(#efe31e 0.0px,#e7e122 18.9px,#d9dd28 37.8px,#c3d32e 56.7px,#aec33a 75.5px,#95b148 90.6px,#78ae4e 98.9px,#69ad51 103.2px,#62ac53 106.1px,#5bad65 111.5px,#57b392 113.3px,#5abab8 115.1px,#47c0e5 118.7px,#3dbce8 119.6px,#2fa4da 121.0px,#187dbe 122.8px,#8554a4 124.1px,#b64d9d 125.9px)"></i><i style="left:321px;width:5px;height:130px;background:linear-gradient(#ede21f 0.0px,#e6e022 18.3px,#dadd28 36.6px,#c4d42e 54.9px,#b0c538 73.1px,#96b147 87.8px,#78ae4d 95.8px,#69ad51 100.0px,#62ac53 102.7px,#5bad66 108.0px,#57b392 109.7px,#5bbab9 111.5px,#47c0e4 114.9px,#3dbce8 115.8px,#30a6db 117.1px,#197dbe 118.9px,#8653a3 120.2px,#b64d9d 121.9px)"></i><i style="left:324px;width:5px;height:122px;background:linear-gradient(#ede21f 0.0px,#e8e122 18.0px,#dede26 36.0px,#d4db2a 54.0px,#c2d32f 72.0px,#a8bd3e 86.4px,#8ab04a 94.3px,#76ae4e 98.4px,#6ead50 101.1px,#5bad65 106.3px,#57b392 108.0px,#5abab8 109.7px,#47c0e4 113.1px,#3dbce8 114.0px,#30a5db 115.3px,#1480c0 117.0px,#8553a3 118.3px,#b64d9d 120.0px)"></i><i style="left:327px;width:5px;height:122px;background:linear-gradient(#ede21f 0.0px,#e9e121 18.0px,#e3e024 36.1px,#ddde27 54.1px,#d5dc2a 72.1px,#b7cb34 86.5px,#9cb246 94.4px,#84af4b 98.6px,#7baf4d 101.3px,#5bad66 106.5px,#57b393 108.2px,#5abab9 109.9px,#47c0e4 113.3px,#3dbce8 114.2px,#2fa5db 115.5px,#1480c0 117.2px,#8553a3 118.5px,#b64d9d 120.2px)"></i><i style="left:330px;width:5px;height:132px;background:linear-gradient(#ede21f 0.0px,#ebe220 18.4px,#e8e122 36.8px,#e5e023 55.2px,#dfde26 73.6px,#c6d52e 88.3px,#a6bc3f 96.4px,#91b148 100.6px,#89b04a 103.4px,#5bad66 108.7px,#57b391 110.4px,#5abab9 112.2px,#46c0e5 115.7px,#3dbce8 116.6px,#2fa5db 117.9px,#1481c0 119.6px,#8154a4 120.9px,#b64d9d 122.7px)"></i><i style="left:333px;width:5px;height:132px;background:linear-gradient(#ede21f 0.0px,#e8e121 19.1px,#e1df25 38.2px,#dcde27 57.4px,#d4db2a 76.5px,#b5ca35 91.8px,#99b247 100.2px,#80af4c 104.5px,#78ae4e 107.5px,#5bad65 112.9px,#57b291 114.7px,#5bbab9 116.6px,#47c0e5 120.2px,#3dbde8 121.1px,#30a5db 122.5px,#1480c0 124.3px,#8553a3 125.7px,#b64d9d 127.5px)"></i><i style="left:336px;width:5px;height:132px;background:linear-gradient(#ece21f 0.0px,#e5e023 19.4px,#dadd28 38.8px,#cfd92c 58.2px,#bdd030 77.6px,#a3b841 93.2px,#81af4c 101.7px,#6cad50 106.1px,#64ac52 109.1px,#5bad65 114.6px,#57b393 116.5px,#5abab8 118.3px,#47c0e5 122.0px,#3dbde8 122.9px,#30a6dc 124.3px,#177ebf 126.2px,#8653a3 127.6px,#b64d9d 129.4px)"></i><i style="left:339px;width:5px;height:132px;background:linear-gradient(#ebe220 0.0px,#e1df25 19.3px,#d0d92b 38.5px,#bbcf31 57.8px,#a8bd3e 77.0px,#87b04a 92.4px,#69ad51 100.9px,#60ac58 105.3px,#5ead5d 108.2px,#5aad67 113.7px,#57b393 115.6px,#5abab9 117.4px,#46c0e5 121.1px,#3dbce8 122.0px,#2fa4db 123.4px,#157fc0 125.2px,#8653a3 126.6px,#b64d9d 128.4px)"></i><i style="left:342px;width:5px;height:130px;background:linear-gradient(#ebe220 0.0px,#e0df25 19.0px,#cbd72c 38.0px,#b5c935 56.9px,#a0b543 75.9px,#7baf4d 91.1px,#62ac53 99.4px,#5ead5d 103.8px,#5cad62 106.7px,#58ad6c 112.1px,#57b392 113.9px,#5abab9 115.7px,#47c0e5 119.3px,#3dbce8 120.2px,#2fa5db 121.6px,#157fbf 123.4px,#8154a4 124.7px,#b54d9d 126.5px)"></i><i style="left:345px;width:5px;height:130px;background:linear-gradient(#ebe220 0.0px,#e2df24 18.6px,#d4db2a 37.2px,#bdd030 55.7px,#a8bd3e 74.3px,#88b04a 89.2px,#69ad51 97.3px,#60ac58 101.6px,#5ead5d 104.4px,#5aad67 109.7px,#57b393 111.5px,#5abab8 113.2px,#46c0e5 116.8px,#3dbce8 117.7px,#30a5db 119.0px,#187dbe 120.8px,#8553a3 122.1px,#b54d9d 123.8px)"></i><i style="left:348px;width:5px;height:132px;background:linear-gradient(#ebe220 0.0px,#e3e023 18.7px,#d9dd28 37.3px,#c6d42e 56.0px,#b0c438 74.6px,#95b148 89.5px,#72ae4f 97.7px,#62ac53 102.0px,#60ac58 104.8px,#5bad64 110.1px,#57b392 111.9px,#5abab9 113.7px,#47c0e4 117.2px,#3dbde8 118.1px,#2fa4db 119.5px,#1581c1 121.2px,#8653a3 122.6px,#b54d9d 124.3px)"></i><i style="left:351px;width:5px;height:132px;background:linear-gradient(#ebe220 0.0px,#e5e023 19.2px,#dede26 38.4px,#cfd92c 57.6px,#b8cc33 76.8px,#9fb544 92.2px,#7caf4d 100.6px,#68ad51 105.0px,#61ac53 107.9px,#5bad65 113.4px,#57b291 115.2px,#5abab9 117.1px,#47c0e4 120.7px,#3ebde8 121.6px,#30a6dc 123.0px,#1581c1 124.8px,#8354a4 126.2px,#b54d9d 128.0px)"></i><i style="left:354px;width:5px;height:132px;background:linear-gradient(#ebe220 0.0px,#e7e122 19.2px,#e2df24 38.4px,#d7dc2a 57.5px,#c1d22f 76.7px,#a6bc3f 92.1px,#85b04b 100.5px,#70ad4f 104.8px,#67ad51 107.8px,#5bad64 113.2px,#57b393 115.1px,#5abab9 116.9px,#47c0e4 120.5px,#3dbce8 121.5px,#30a6dc 122.8px,#187ebe 124.7px,#8354a4 126.0px,#b54d9d 127.8px)"></i><i style="left:357px;width:5px;height:132px;background:linear-gradient(#eae220 0.0px,#e7e122 18.6px,#e4e023 37.1px,#d9dd29 55.7px,#c5d42e 74.2px,#aabf3c 89.1px,#8ab04a 97.2px,#73ae4e 101.5px,#6bad50 104.3px,#5bad65 109.6px,#57b393 111.4px,#5abab8 113.1px,#46c0e5 116.7px,#3dbce8 117.6px,#30a5db 118.9px,#187ebe 120.7px,#8553a3 122.0px,#b54d9d 123.7px)"></i><i style="left:360px;width:5px;height:144px;background:linear-gradient(#e9e121 0.0px,#e4e023 19.0px,#dfde26 38.0px,#d2da2b 57.1px,#bbcf31 76.1px,#a2b842 91.3px,#7faf4c 99.6px,#6aad50 104.0px,#62ac52 106.9px,#5bad65 112.3px,#57b392 114.1px,#5abab8 115.9px,#46c0e5 119.6px,#3dbce8 120.5px,#30a6dc 121.8px,#1480c0 123.6px,#8553a3 125.0px,#b64d9d 126.8px)"></i><i style="left:363px;width:5px;height:144px;background:linear-gradient(#e7e122 0.0px,#e0df25 20.5px,#dadd28 41.1px,#c7d52d 61.6px,#b1c538 82.2px,#98b247 98.6px,#74ae4e 107.6px,#62ac52 112.3px,#60ac58 115.5px,#5bad64 121.3px,#57b392 123.3px,#5bbab9 125.3px,#46c0e5 129.2px,#3dbde8 130.1px,#30a6dc 131.6px,#167fbf 133.6px,#8254a4 135.0px,#b64d9d 137.0px)"></i><i style="left:366px;width:5px;height:144px;background:linear-gradient(#e5e023 0.0px,#ddde27 21.1px,#d3db2b 42.1px,#bcd030 63.2px,#a7bc3f 84.3px,#89b04a 101.2px,#69ad51 110.5px,#60ac58 115.2px,#5ead5e 118.5px,#5aad68 124.5px,#57b290 126.4px,#5abab9 128.5px,#47c0e5 132.5px,#3dbce8 133.5px,#30a5db 135.0px,#1480c0 137.0px,#8554a4 138.5px,#b64d9d 140.5px)"></i><i style="left:369px;width:5px;height:144px;background:linear-gradient(#dbdd28 0.0px,#d0d92b 20.6px,#c0d22f 41.2px,#adc23a 61.8px,#9ab246 82.4px,#76ae4e 98.9px,#60ac57 107.9px,#5cad61 112.6px,#5bad66 115.7px,#57ae6f 121.6px,#57b393 123.6px,#5abab8 125.5px,#46c0e5 129.5px,#3dbde8 130.4px,#30a6db 131.9px,#177ebf 133.9px,#8254a4 135.3px,#b64d9d 137.3px)"></i><i style="left:372px;width:5px;height:141px;background:linear-gradient(#c9d62d 0.0px,#bbcf31 20.5px,#aec33a 41.0px,#9eb444 61.5px,#84b04b 82.0px,#63ac52 98.4px,#5cad61 107.3px,#59ad6a 112.0px,#58ad6e 115.2px,#54ae77 121.0px,#57b393 123.0px,#5abab8 124.9px,#47c0e5 128.8px,#3dbce8 129.8px,#2fa4db 131.3px,#1480c0 133.2px,#8653a3 134.7px,#b54d9d 136.6px)"></i><i style="left:375px;width:5px;height:141px;background:linear-gradient(#b3c736 0.0px,#a7bc3e 20.8px,#9bb246 41.5px,#85b04b 62.3px,#6ead4f 83.1px,#5ead5e 99.7px,#59ad6c 108.8px,#56ae73 113.5px,#54ae77 116.7px,#55af7f 122.6px,#57b391 124.6px,#5abab9 126.6px,#46c0e5 130.6px,#3dbce8 131.6px,#30a6dc 133.0px,#1480c0 135.0px,#8554a4 136.5px,#b64d9d 138.5px)"></i><i style="left:378px;width:5px;height:141px;background:linear-gradient(#a3b841 0.0px,#96b147 20.3px,#84b04b 40.7px,#71ae4f 61.0px,#61ac55 81.4px,#5aad67 97.6px,#56ae73 106.6px,#54ae7a 111.2px,#55af7e 114.3px,#56b186 120.1px,#57b393 122.1px,#5abab9 124.0px,#46c0e5 127.9px,#3dbde8 128.8px,#30a5db 130.3px,#1480c0 132.2px,#8553a3 133.7px,#b54d9d 135.6px)"></i><i style="left:381px;width:5px;height:141px;background:linear-gradient(#98b247 0.0px,#88b04a 19.2px,#79ae4d 38.4px,#66ac51 57.6px,#5ead5c 76.8px,#58ad6d 92.2px,#54ae78 100.6px,#55af7e 105.0px,#55b082 107.9px,#56b18a 113.4px,#57b393 115.3px,#5abab9 117.1px,#46c0e5 120.8px,#3dbce8 121.7px,#30a7dc 123.0px,#167fbf 124.9px,#8154a4 126.2px,#b64d9d 128.1px)"></i><i style="left:384px;width:4px;height:126px;background:linear-gradient(#88b04a 0.0px,#7baf4d 18.6px,#6ead4f 37.3px,#60ac57 55.9px,#5cad63 74.5px,#56ae72 89.4px,#54af7c 97.6px,#55b082 101.8px,#56b187 104.7px,#56b28e 110.0px,#57b393 111.8px,#5abab8 113.5px,#46c0e5 117.1px,#3dbce8 118.0px,#30a5db 119.3px,#177ebf 121.1px,#8554a4 122.4px,#b64d9d 124.2px)"></i><i style="left:386px;width:5px;height:126px;background:linear-gradient(#79ae4d 0.0px,#6ead4f 18.6px,#64ac52 37.2px,#5ead5d 55.8px,#59ad6a 74.4px,#54ae77 89.2px,#55b081 97.4px,#56b186 101.6px,#56b18a 104.5px,#57b392 109.8px,#57b395 111.5px,#5abab9 113.3px,#47c0e4 116.8px,#3dbde8 117.7px,#2fa4db 119.1px,#1480c0 120.8px,#8653a3 122.2px,#b54d9d 123.9px)"></i><i style="left:389px;width:5px;height:129px;background:linear-gradient(#68ad51 0.0px,#60ac57 18.7px,#5ead5d 37.4px,#5aad68 56.1px,#55ae74 74.8px,#55b082 89.7px,#56b28c 97.9px,#57b391 102.2px,#57b396 105.1px,#58b59e 110.4px,#58b5a0 112.2px,#5bbab9 114.0px,#47c0e5 117.5px,#3dbce8 118.4px,#2fa4da 119.8px,#1581c0 121.5px,#8653a3 122.9px,#b54d9d 124.6px)"></i><i style="left:392px;width:5px;height:129px;background:linear-gradient(#5fac5a 0.0px,#5bad66 19.0px,#58ad6c 37.9px,#56ae74 56.9px,#55b082 75.8px,#57b291 91.0px,#58b49b 99.3px,#58b5a0 103.6px,#59b6a4 106.5px,#5ab7ac 111.9px,#5ab8af 113.7px,#5abab8 115.5px,#47c0e4 119.1px,#3dbde8 120.0px,#30a5db 121.4px,#1580c0 123.2px,#8154a4 124.5px,#b54d9d 126.3px)"></i><i style="left:395px;width:5px;height:134px;background:linear-gradient(#59b7a9 0.0px,#5ab9b4 19.3px,#5bbab9 38.5px,#5bbbbe 57.8px,#5bbdc5 77.0px,#5cbecc 92.4px,#5cbfd0 100.9px,#5cc0d3 105.3px,#5bc0d4 108.2px,#59c0d7 113.7px,#58c0d7 115.5px,#56c0d9 117.4px,#47c0e4 121.0px,#3dbce8 122.0px,#30a6dc 123.3px,#177ebf 125.2px,#8154a4 126.5px,#b64d9d 128.4px)"></i><i style="left:398px;width:6px;height:134px;background:linear-gradient(#5cbfce 0.0px,#5bc0d4 19.6px,#56c0d9 39.2px,#51c0dd 58.8px,#4bc0e1 78.4px,#46c0e5 94.1px,#43c0e8 102.7px,#41c0e9 107.2px,#40c0ea 110.2px,#3fbee9 115.8px,#3ebee9 117.7px,#3ebde9 119.5px,#3dbce8 123.3px,#3dbbe8 124.2px,#30a5db 125.6px,#187ebe 127.5px,#8653a3 128.9px,#b54d9d 130.7px)"></i><i style="left:402px;width:5px;height:134px;background:linear-gradient(#5cbfcf 0.0px,#5ac0d5 19.4px,#55c0da 38.8px,#50c0de 58.3px,#4ac0e2 77.7px,#45c0e6 93.2px,#41c0e9 101.8px,#40c0ea 106.2px,#3fbfe9 109.2px,#3ebee9 114.7px,#3ebde8 116.6px,#3dbce8 118.4px,#3cbbe7 122.1px,#3cbae7 123.0px,#30a6db 124.4px,#177ebf 126.3px,#8154a4 127.6px,#b64d9d 129.5px)"></i><i style="left:405px;width:5px;height:134px;background:linear-gradient(#5cbfd1 0.0px,#59c0d6 18.7px,#54c0db 37.4px,#4ec0df 56.1px,#49c0e3 74.8px,#44c0e7 89.8px,#40c0ea 98.0px,#3fbfea 102.3px,#3fbee9 105.1px,#3ebde8 110.4px,#3dbce8 112.2px,#3cbbe8 114.0px,#3bbae7 117.6px,#3bb9e7 118.5px,#30a6db 119.8px,#167fbf 121.6px,#8354a4 122.9px,#b64d9d 124.7px)"></i><i style="left:408px;width:5px;height:124px;background:linear-gradient(#5cc0d3 0.0px,#58c0d7 17.2px,#52c0dc 34.3px,#4dc0e0 51.5px,#48c0e4 68.6px,#42c0e8 82.3px,#40c0ea 89.8px,#3fbfe9 93.8px,#3ebee9 96.4px,#3dbce8 101.3px,#3dbbe8 102.9px,#3cbae7 104.5px,#3ab9e6 107.8px,#3ab8e6 108.6px,#2fa4da 109.9px,#157fc0 111.5px,#8354a4 112.7px,#b64d9d 114.4px)"></i><i style="left:411px;width:5px;height:124px;background:linear-gradient(#5cc0d4 0.0px,#57c0d8 14.8px,#51c0dc 29.5px,#4cc0e1 44.3px,#47c0e5 59.1px,#41c0e9 70.9px,#3fbfea 77.4px,#3fbee9 80.7px,#3ebde9 83.0px,#3cbbe8 87.2px,#3cbbe7 88.6px,#3bbae7 90.0px,#39b7e5 92.8px,#38b5e4 93.5px,#2fa5db 94.6px,#157fbf 96.0px,#8054a4 97.0px,#b54d9d 98.4px)"></i><i style="left:414px;width:5px;height:92px;background:linear-gradient(#5cc0d4 0.0px,#57c0d8 12.9px,#51c0dc 25.8px,#4cc0e1 38.7px,#47c0e5 51.6px,#41c0e9 61.9px,#3fbfea 67.6px,#3fbee9 70.5px,#3ebde9 72.5px,#3cbbe8 76.1px,#3cbbe7 77.4px,#3bbae7 78.6px,#39b7e5 81.1px,#38b5e4 81.7px,#30a5db 82.6px,#1581c1 83.8px,#7f54a4 84.7px,#b64d9d 86.0px)"></i><i style="left:417px;width:5px;height:92px;background:linear-gradient(#5cc0d4 0.0px,#57c0d8 11.5px,#51c0dc 23.1px,#4cc0e1 34.6px,#47c0e5 46.2px,#41c0e9 55.4px,#3fbfea 60.4px,#3fbee9 63.1px,#3ebde9 64.8px,#3cbbe8 68.1px,#3cbbe7 69.2px,#3bbae7 70.3px,#39b7e5 72.5px,#38b5e4 73.1px,#30a6db 73.9px,#1480c0 75.0px,#8154a4 75.8px,#b54d9d 76.9px)"></i><i style="left:420px;width:5px;height:74px;background:linear-gradient(#56b18b 0.0px,#58b49a 10.0px,#5ab8ae 20.0px,#5abab8 30.0px,#5bbdc6 39.9px,#5cc0d3 47.9px,#56c0d9 52.3px,#52c0dc 54.6px,#50c0dd 56.1px,#4cc0e1 59.0px,#4ac0e2 59.9px,#48c0e4 60.9px,#43c0e7 62.8px,#3ebde8 63.2px,#2ea3da 64.0px,#1480c0 64.9px,#8154a4 65.6px,#b64d9d 66.6px)"></i><i style="left:423px;width:4px;height:74px;background:linear-gradient(#8bb049 0.0px,#78ae4d 8.2px,#60ac57 16.5px,#59ad6a 24.7px,#56b28d 33.0px,#5ab8b1 39.5px,#5bbbbf 43.2px,#5bbdc5 45.0px,#5bbdc9 46.3px,#5cbfce 48.6px,#5cbfd0 49.4px,#5cc0d3 50.2px,#46c0e5 51.8px,#3dbce8 52.2px,#2fa3da 52.8px,#1e7abc 53.6px,#7d55a5 54.1px,#b54d9d 54.9px)"></i><i style="left:425px;width:5px;height:51px;background:linear-gradient(#c7d52d 0.0px,#bbd030 7.2px,#abc13b 14.4px,#9bb246 21.6px,#6bad50 28.8px,#58ad6c 34.6px,#57b393 37.7px,#59b7a9 39.4px,#5ab8b0 40.5px,#5ab9b5 42.5px,#5abab7 43.2px,#5bbaba 43.9px,#46c0e5 45.3px,#3ebde8 45.6px,#31a8dd 46.1px,#1581c1 46.8px,#7d55a5 47.3px,#b44d9d 48.0px)"></i><i style="left:428px;width:6px;height:51px;background:linear-gradient(#f3e31c 0.0px,#eee31e 6.9px,#e3df24 13.8px,#d6dc2a 20.6px,#b8cc33 27.5px,#9ab246 33.0px,#61ac55 36.0px,#59ad6a 37.6px,#57ae70 38.7px,#54ae7a 40.6px,#57b393 41.3px,#5abab7 41.9px,#45c0e6 43.3px,#3dbce8 43.6px,#2fa3da 44.1px,#1581c1 44.7px,#8054a4 45.2px,#b64d9d 45.9px)"></i><i style="left:432px;width:5px;height:47px;background:linear-gradient(#f06922 0.0px,#f27821 6.5px,#f6aa1b 13.1px,#f1e31d 19.6px,#e0df25 26.2px,#c6d52e 31.4px,#a6bc3f 34.3px,#92b148 35.8px,#8ab04a 36.8px,#5cad63 38.6px,#57b395 39.3px,#5bbab9 39.9px,#48c0e4 41.1px,#3ebde9 41.4px,#30a6dc 41.9px,#1582c1 42.5px,#8454a4 43.0px,#b44d9d 43.6px)"></i><i style="left:435px;width:5px;height:47px;background:linear-gradient(#de2029 0.0px,#e8222a 6.2px,#ef5923 12.4px,#f6aa1b 18.6px,#f3e41c 24.8px,#e0df25 29.7px,#ced82c 32.3px,#bdd030 33.8px,#b8cc33 34.7px,#5aad67 36.5px,#57b394 37.1px,#5bbaba 37.7px,#45c0e6 38.9px,#3dbce8 39.2px,#31a7dc 39.6px,#1581c1 40.2px,#8753a3 40.7px,#b64d9d 41.3px)"></i><i style="left:438px;width:5px;height:45px;background:linear-gradient(#ea2929 0.0px,#ec3327 6.1px,#f06d22 12.3px,#f7af1b 18.4px,#f3e41c 24.5px,#e2df24 29.4px,#d1da2b 31.8px,#bcd030 33.5px,#b9cd32 34.2px,#5aad68 36.1px,#58b59e 36.8px,#5ab9b7 37.2px,#48c0e3 38.4px,#3cbbe8 38.8px,#30a5db 39.2px,#1480c0 39.8px,#7956a6 40.2px,#b24e9e 40.8px)"></i><i style="left:441px;width:5px;height:45px;background:linear-gradient(#ee3b26 0.0px,#ef5024 6.4px,#f27b20 12.7px,#f7b41a 19.1px,#f3e41c 25.4px,#e3e024 30.5px,#ced82c 33.3px,#bcd030 34.7px,#b7cc33 35.7px,#5bad64 37.5px,#57b291 38.1px,#5abab8 38.7px,#48c0e4 39.9px,#3ebde9 40.2px,#2fa4db 40.7px,#167fbf 41.3px,#7a55a5 41.7px,#b64d9d 42.4px)"></i><i style="left:444px;width:5px;height:45px;background:linear-gradient(#ef5d23 0.0px,#f17021 6.3px,#f4891f 12.5px,#f7b91a 18.8px,#f3e41c 25.0px,#e5e023 30.0px,#d0d92b 32.7px,#bcd030 34.2px,#b8cc33 35.1px,#5aad67 36.9px,#57b394 37.5px,#5bbaba 38.1px,#45c0e6 39.3px,#3dbce8 39.6px,#31a7dc 40.0px,#1581c1 40.6px,#8753a3 41.1px,#b64d9d 41.7px)"></i><i style="left:447px;width:4px;height:45px;background:linear-gradient(#ef5624 0.0px,#f06b22 5.8px,#f38020 11.6px,#f6a61c 17.5px,#f5d11b 23.3px,#eae220 28.0px,#dede26 29.8px,#cad62d 31.8px,#c0d22f 32.2px,#5bad64 34.0px,#59b7a8 34.9px,#5abab8 35.2px,#48c0e4 36.4px,#3ab8e6 36.9px,#2fa3da 37.2px,#1b7cbd 37.8px,#7f55a5 38.2px,#b44e9e 38.8px)"></i><i style="left:449px;width:5px;height:62px;background:linear-gradient(#ed3826 0.0px,#ef4a25 6.4px,#f06622 12.9px,#f4851f 19.3px,#f7af1b 25.8px,#f3e01c 30.9px,#e3e024 33.8px,#dbdd28 35.2px,#bfd12f 36.2px,#5aad67 38.1px,#57b394 38.7px,#5abab9 39.3px,#47c0e4 40.5px,#3ebde8 40.8px,#2fa4db 41.3px,#1480c0 41.9px,#8953a3 42.4px,#b64d9d 43.0px)"></i><i style="left:452px;width:5px;height:62px;background:linear-gradient(#ea2729 0.0px,#ec3127 8.1px,#ee4026 16.2px,#f06722 24.4px,#f48c1e 32.5px,#f6c31b 39.0px,#eee31e 42.5px,#e6e022 44.4px,#bed12f 45.6px,#5cad63 47.9px,#57b391 48.7px,#5bbab9 49.5px,#48c0e4 51.0px,#3dbde8 51.4px,#30a5db 52.0px,#1a7cbd 52.8px,#8953a3 53.4px,#b54d9d 54.1px)"></i><i style="left:455px;width:5px;height:64px;background:linear-gradient(#dc2029 0.0px,#e8202a 9.0px,#ea2a28 18.1px,#ee3926 27.1px,#f06c22 36.2px,#f6a21c 43.4px,#f5d01b 47.4px,#f2e41c 49.5px,#c1d22f 50.8px,#5bad64 53.4px,#57b393 54.3px,#5bbaba 55.2px,#46c0e5 56.9px,#3dbce8 57.3px,#2ea3da 58.0px,#1581c0 58.8px,#8753a3 59.5px,#b54d9d 60.3px)"></i><i style="left:458px;width:6px;height:64px;background:linear-gradient(#c42027 0.0px,#d52029 9.2px,#e7202a 18.5px,#eb2e28 27.7px,#ef5224 36.9px,#f58e1e 44.3px,#f6c01a 48.4px,#f4d81b 50.5px,#bcd030 51.9px,#5cad64 54.5px,#57b291 55.4px,#5abab9 56.3px,#45c0e6 58.1px,#3dbce8 58.5px,#2ea3da 59.2px,#1581c1 60.0px,#8553a3 60.7px,#b64d9d 61.6px)"></i><i style="left:462px;width:5px;height:64px;background:linear-gradient(#af1f24 0.0px,#c32027 9.1px,#da2029 18.2px,#e9232a 27.2px,#ee3926 36.3px,#f37f20 43.6px,#f7b01b 47.5px,#f5cb1b 49.6px,#bcd030 51.0px,#5bad66 53.6px,#56b28f 54.4px,#5abab8 55.3px,#48c0e4 57.0px,#3dbce8 57.5px,#30a7dc 58.1px,#167fbf 59.0px,#7f55a5 59.6px,#b64d9d 60.5px)"></i><i style="left:465px;width:5px;height:64px;background:linear-gradient(#9b1e21 0.0px,#b31f25 8.6px,#cc2028 17.1px,#df2029 25.7px,#eb2d28 34.3px,#f16f21 41.1px,#f6a21c 44.9px,#f6be1a 46.8px,#bfd12f 48.1px,#5bad66 50.6px,#57b393 51.4px,#5abab8 52.2px,#48c0e4 53.8px,#3ebde9 54.2px,#2ea3da 54.9px,#1a7dbe 55.7px,#8653a3 56.3px,#b64d9d 57.1px)"></i><i style="left:468px;width:5px;height:57px;background:linear-gradient(#a01f22 0.0px,#b72026 7.7px,#d12029 15.4px,#e6202a 23.1px,#ed3627 30.9px,#f27c20 37.0px,#f7b01b 40.4px,#f5cc1b 42.2px,#c1d22f 43.3px,#5cad63 45.5px,#57b393 46.3px,#5abab8 47.0px,#46c0e5 48.5px,#3dbbe8 48.9px,#30a6db 49.4px,#1582c1 50.1px,#8653a3 50.7px,#b54d9d 51.4px)"></i><i style="left:471px;width:4px;height:57px;background:linear-gradient(#b41f25 0.0px,#c62028 6.5px,#de2029 13.0px,#eb2c28 19.6px,#ef5d23 26.1px,#f5981d 31.3px,#f5cc1b 34.2px,#f3e41c 35.6px,#c2d32f 36.6px,#5bad65 38.5px,#57b290 39.1px,#5abab7 39.7px,#46c0e5 41.0px,#3dbce8 41.3px,#2ea3da 41.8px,#177ebf 42.4px,#8953a3 42.9px,#b64d9d 43.5px)"></i><i style="left:473px;width:5px;height:42px;background:linear-gradient(#c82028 0.0px,#d72029 5.6px,#e9232a 11.3px,#ee3a26 16.9px,#f37e20 22.6px,#f7ba1a 27.1px,#f4d71b 28.7px,#d2da2b 30.9px,#bace32 31.1px,#5aad68 32.9px,#5ab9b3 33.9px,#5bbabb 34.1px,#44c0e7 35.3px,#38b4e4 35.8px,#30a5db 36.0px,#1480c0 36.6px,#8a53a3 37.1px,#b64d9d 37.7px)"></i><i style="left:476px;width:5px;height:42px;background:linear-gradient(#e2202a 0.0px,#e92629 5.1px,#ed3527 10.2px,#f06522 15.3px,#f69f1d 20.4px,#f4d81b 24.4px,#f3e21c 24.9px,#c3d32e 27.3px,#a8bd3e 27.8px,#5cad62 29.1px,#5ab9b7 30.3px,#5bbcc4 30.6px,#44c0e7 31.6px,#30a5db 32.3px,#1480c0 32.9px,#7956a6 33.3px,#b34e9e 33.9px)"></i><i style="left:479px;width:5px;height:45px;background:linear-gradient(#ed3527 0.0px,#ef4925 5.2px,#f06c22 10.4px,#f5901e 15.6px,#f6c51b 20.9px,#ece21f 25.0px,#e7e122 25.8px,#bace32 28.2px,#acc13b 28.5px,#5aad68 30.0px,#5bbabb 31.2px,#5bbbbf 31.3px,#44c0e7 32.4px,#34addf 33.0px,#30a5db 33.1px,#1480c0 33.7px,#8a53a3 34.2px,#b64d9d 34.8px)"></i><i style="left:482px;width:6px;height:45px;background:linear-gradient(#f06a22 0.0px,#f37d20 6.0px,#f69a1d 12.0px,#f6c61b 18.0px,#f1e31d 24.0px,#e2df24 28.8px,#d0d92b 31.0px,#b8cc33 32.8px,#b5c935 33.4px,#5cad62 35.2px,#58b59e 36.0px,#5ab9b7 36.4px,#48c0e3 37.6px,#3cbbe8 38.0px,#30a5db 38.4px,#1480c0 39.0px,#7956a6 39.4px,#b34e9e 40.0px)"></i><i style="left:486px;width:5px;height:45px;background:linear-gradient(#f5901e 0.0px,#f6aa1b 6.0px,#f5cc1b 12.0px,#ede21f 18.0px,#e5e023 24.0px,#d7dc2a 28.8px,#bace32 30.9px,#a1b643 32.8px,#9eb445 33.3px,#5aad68 35.2px,#59b6a6 36.0px,#5ab9b7 36.3px,#44c0e7 37.6px,#3bb9e7 38.0px,#30a5db 38.3px,#1480c0 38.9px,#7956a6 39.3px,#b34e9e 39.9px)"></i><i style="left:489px;width:5px;height:45px;background:linear-gradient(#f6a51c 0.0px,#f6c01a 5.2px,#f4de1c 10.3px,#e8e121 15.5px,#e0df25 20.7px,#ced82c 24.8px,#c5d42e 25.4px,#a2b742 27.8px,#9cb246 28.2px,#5cad62 29.6px,#5ab9b7 30.8px,#5bbbbf 31.0px,#48c0e3 32.0px,#34addf 32.7px,#30a5db 32.8px,#1480c0 33.4px,#7956a6 33.8px,#b34e9e 34.4px)"></i><i style="left:492px;width:5px;height:34px;background:linear-gradient(#f7ba1a 0.0px,#f5d31b 4.6px,#efe31e 9.3px,#e4e023 13.9px,#dbdd27 18.5px,#c7d52d 21.8px,#c4d42e 22.2px,#a6bb3f 24.2px,#81af4b 25.3px,#5cad62 26.0px,#5ab9b7 27.2px,#5cbfd2 27.8px,#48c0e3 28.4px,#30a5db 29.2px,#2b9cd6 29.3px,#1480c0 29.8px,#7956a6 30.2px,#b24e9e 30.8px)"></i><i style="left:495px;width:5px;height:34px;background:linear-gradient(#f4d61b 0.0px,#efe31e 4.4px,#e7e122 8.7px,#dcde27 13.1px,#d2da2b 17.5px,#bcd030 20.2px,#b5ca35 21.0px,#a0b643 22.5px,#69ad51 23.9px,#5cad62 24.3px,#5ab9b7 25.5px,#5ac0d5 26.2px,#44c0e7 26.8px,#30a5db 27.5px,#2693d1 27.7px,#1480c0 28.1px,#8a53a3 28.6px,#b64d9d 29.2px)"></i><i style="left:498px;width:5px;height:46px;background:linear-gradient(#d8dd29 0.0px,#cad62d 4.8px,#bcd030 9.7px,#acc13b 14.5px,#9cb246 19.4px,#6bad50 23.3px,#59ad6a 25.7px,#56ae74 26.5px,#54af7c 27.5px,#5abab8 28.7px,#5bbeca 29.1px,#48c0e4 29.9px,#2fa3da 30.7px,#1b7cbd 31.3px,#7f55a5 31.7px,#b44e9e 32.3px)"></i><i style="left:501px;width:5px;height:46px;background:linear-gradient(#97b247 0.0px,#7baf4d 6.1px,#68ad51 12.1px,#5fac5b 18.2px,#58ad6d 24.2px,#57b290 29.1px,#59b6a5 31.4px,#5ab8b2 33.1px,#5ab9b4 33.8px,#5bbaba 35.6px,#5bbbbc 36.3px,#5bbbbf 36.8px,#45c0e6 38.0px,#3bbae7 38.4px,#31a7dc 38.7px,#1581c1 39.3px,#8753a3 39.8px,#b64d9d 40.4px)"></i><i style="left:504px;width:5px;height:47px;background:linear-gradient(#59b7a8 0.0px,#5ab8b1 6.7px,#5abab8 13.4px,#5bbbbf 20.1px,#5bbdc7 26.8px,#5cc0d3 32.1px,#57c0d8 35.0px,#54c0da 36.6px,#52c0dc 37.6px,#4ec0df 39.5px,#4cc0e0 40.1px,#4ac0e2 40.8px,#44c0e7 42.1px,#3dbce8 42.4px,#32a9dd 42.8px,#187ebe 43.5px,#8853a3 44.0px,#b64d9d 44.6px)"></i><i style="left:507px;width:5px;height:47px;background:linear-gradient(#51c0dc 0.0px,#51c0dc 6.7px,#4cc0e1 13.5px,#47c0e5 20.2px,#41c0e9 27.0px,#3fbee9 32.4px,#3dbde8 35.4px,#3dbce8 36.9px,#3cbbe7 37.9px,#3bb9e6 39.9px,#3ab8e6 40.5px,#39b6e5 41.1px,#35afe1 42.4px,#34aee0 42.7px,#31a8dd 43.2px,#1b7cbd 43.9px,#8953a3 44.4px,#b64d9d 45.0px)"></i><i style="left:510px;width:5px;height:47px;background:linear-gradient(#51c0dc 0.0px,#51c0dc 6.7px,#4cc0e1 13.3px,#47c0e5 20.0px,#41c0e9 26.7px,#3fbee9 32.0px,#3ebde8 34.9px,#3dbce8 36.5px,#3cbbe7 37.5px,#3bb9e6 39.4px,#3ab8e6 40.0px,#39b5e5 40.7px,#35afe1 41.9px,#34ade0 42.3px,#31a7dc 42.7px,#1e7abc 43.4px,#7c55a5 43.8px,#b64d9d 44.5px)"></i><i style="left:513px;width:4px;height:47px;background:linear-gradient(#bdd030 0.0px,#b2c737 6.5px,#a8bd3e 12.9px,#a3b841 19.4px,#94b148 25.8px,#75ae4e 31.0px,#5fac5a 33.8px,#5bad65 35.3px,#59ad6b 36.3px,#55ae75 38.1px,#57b290 38.7px,#5abab7 39.3px,#45c0e6 40.6px,#3dbce8 40.9px,#31a8dd 41.3px,#1682c2 41.9px,#8254a4 42.4px,#b44d9d 43.0px)"></i><i style="left:515px;width:6px;height:64px;background:linear-gradient(#c9d62d 0.0px,#c6d52e 7.1px,#ccd72c 14.2px,#c1d32f 21.3px,#aabf3c 28.4px,#76ae4e 34.0px,#5fac5a 37.1px,#5bad65 38.8px,#59ad6a 39.8px,#55ae75 41.9px,#56b28f 42.5px,#5abab8 43.2px,#45c0e6 44.6px,#3dbde8 44.9px,#30a7dc 45.4px,#167fbf 46.1px,#8554a4 46.6px,#b64d9d 47.3px)"></i><i style="left:519px;width:6px;height:64px;background:linear-gradient(#8eb149 0.0px,#7daf4c 8.6px,#7aae4d 17.2px,#66ac51 25.8px,#5aad67 34.3px,#57b393 41.2px,#5ab7ac 45.0px,#5ab9b4 46.9px,#5abab7 48.2px,#5bbbbc 50.7px,#5bbbbe 51.5px,#5bbcc1 52.3px,#45c0e6 54.0px,#3dbce8 54.4px,#2fa4da 55.0px,#157fc0 55.8px,#8354a4 56.4px,#b54d9d 57.2px)"></i></div>
<div style="position:absolute;overflow:hidden;filter:blur(0.7px);left:802.0px;top:33.4px;width:523.2px;height:220.8px"><i style="left:0px;width:5px;height:180px;background:linear-gradient(#ed5d62 0.0px,#ed5d62 26.7px,#ed656a 53.5px,#ee7277 80.2px,#ef8689 107.0px,#f19d9f 128.4px,#f5c3c4 146.2px,#f9e0e0 160.4px,#fdf3f3 169.4px,#ffffff 178.3px)"></i><i style="left:3px;width:6px;height:180px;background:linear-gradient(#ec5459 0.0px,#ec5459 26.7px,#ed575d 53.3px,#ed6368 80.0px,#ee7d80 106.7px,#f09496 128.0px,#f4b7b8 145.8px,#f8d8d8 160.0px,#fcefef 168.9px,#ffffff 177.8px)"></i><i style="left:7px;width:5px;height:182px;background:linear-gradient(#ec4b51 0.0px,#ec4b51 53.5px,#ec555a 80.2px,#ee7176 107.0px,#ef8b8e 128.4px,#f2acae 146.2px,#f6d0d0 160.4px,#fbebeb 169.4px,#ffffff 178.3px)"></i><i style="left:10px;width:5px;height:182px;background:linear-gradient(#eb3d43 0.0px,#eb3d43 53.9px,#ec444a 80.8px,#ed5c62 107.8px,#ef8084 129.3px,#f2a4a6 147.3px,#f6cccc 161.7px,#fbe9e9 170.6px,#ffffff 179.6px)"></i><i style="left:13px;width:5px;height:182px;background:linear-gradient(#ea3036 0.0px,#ea3036 54.0px,#eb373d 81.0px,#ec484e 108.0px,#ee7277 129.6px,#f19c9f 147.6px,#f5c7c8 162.0px,#fae6e6 171.0px,#ffffff 180.0px)"></i><i style="left:16px;width:5px;height:182px;background:linear-gradient(#e7292f 0.0px,#e7292f 53.8px,#e92d33 80.7px,#eb3d43 107.6px,#ed6267 129.2px,#f09497 147.1px,#f5c3c4 161.5px,#fae4e4 170.4px,#ffffff 179.4px)"></i><i style="left:19px;width:5px;height:192px;background:linear-gradient(#e6272e 0.0px,#e6272e 54.6px,#e82b31 81.9px,#eb3a40 109.1px,#ed5c61 131.0px,#f08e91 149.2px,#f4bdbe 163.7px,#f9e1e1 172.8px,#ffffff 181.9px)"></i><i style="left:22px;width:5px;height:192px;background:linear-gradient(#e6252c 0.0px,#e6252c 56.2px,#e7292f 84.4px,#eb373d 112.5px,#ed565c 135.0px,#ef878b 153.7px,#f4b7b8 168.7px,#f9dede 178.1px,#ffffff 187.5px)"></i><i style="left:25px;width:5px;height:192px;background:linear-gradient(#e5232a 0.0px,#e5232a 55.9px,#e6262e 83.8px,#ea343a 111.7px,#ec5156 134.1px,#ef8185 152.7px,#f3b2b3 167.6px,#f8dada 176.9px,#ffffff 186.2px)"></i><i style="left:28px;width:4px;height:192px;background:linear-gradient(#e42129 0.0px,#e42129 53.4px,#e5242c 80.1px,#ea3036 106.8px,#ec4b51 128.2px,#ee7b7f 146.0px,#f2acae 160.3px,#f7d7d7 169.2px,#ffffff 178.1px)"></i><i style="left:30px;width:5px;height:176px;background:linear-gradient(#e42128 0.0px,#e42128 50.2px,#e5242b 75.3px,#ea2f35 100.4px,#ec484e 120.5px,#ee767a 137.3px,#f2a9ab 150.7px,#f7d5d5 159.0px,#ffffff 167.4px)"></i><i style="left:33px;width:5px;height:176px;background:linear-gradient(#e42028 0.0px,#e42028 46.3px,#e5232a 69.4px,#e92d34 92.5px,#ec454b 111.0px,#ee7176 126.4px,#f2a6a8 138.8px,#f7d3d3 146.5px,#ffffff 154.2px)"></i><i style="left:36px;width:5px;height:150px;background:linear-gradient(#e41f27 0.0px,#e41f27 44.0px,#e5222a 66.0px,#e82c32 88.0px,#eb4349 105.6px,#ed6d71 120.3px,#f1a2a4 132.0px,#f6d1d1 139.3px,#ffffff 146.7px)"></i><i style="left:39px;width:6px;height:150px;background:linear-gradient(#e31f27 0.0px,#e31f27 43.4px,#e42229 65.2px,#e82a31 86.9px,#eb4046 104.3px,#ed686c 118.8px,#f19ea1 130.3px,#f6cfcf 137.6px,#ffffff 144.8px)"></i><i style="left:43px;width:4px;height:146px;background:linear-gradient(#e31e26 0.0px,#e31e26 42.5px,#e42129 63.8px,#e7292f 85.1px,#eb3d43 102.1px,#ed6368 116.3px,#f19b9e 127.6px,#f6cdcd 134.7px,#ffffff 141.8px)"></i><i style="left:46px;width:4px;height:146px;background:linear-gradient(#e31e26 0.0px,#e31e26 41.3px,#e42129 61.9px,#e7282e 82.5px,#eb373d 99.0px,#ed585d 112.8px,#f09497 123.8px,#f5c9c9 130.6px,#ffffff 137.5px)"></i><i style="left:48px;width:6px;height:147px;background:linear-gradient(#e31e26 0.0px,#e31e26 41.3px,#e42129 62.0px,#e6262d 82.6px,#ea3137 99.2px,#ec4c52 113.0px,#f08c8f 124.0px,#f5c5c6 130.9px,#ffffff 137.7px)"></i><i style="left:52px;width:5px;height:147px;background:linear-gradient(#e31e26 0.0px,#e31e26 42.7px,#e42129 64.1px,#e6252c 85.5px,#e92c33 102.6px,#ec444a 116.8px,#ef8386 128.2px,#f4c0c1 135.3px,#ffffff 142.4px)"></i><i style="left:55px;width:5px;height:147px;background:linear-gradient(#e31e26 0.0px,#e31e26 42.3px,#e42129 63.5px,#e5242b 84.6px,#e7292f 101.6px,#eb3d43 115.7px,#ee7a7e 127.0px,#f4bcbd 134.0px,#ffffff 141.1px)"></i><i style="left:58px;width:5px;height:147px;background:linear-gradient(#89181c 0.0px,#89181c 20.0px,#8c181c 40.1px,#981b1f 60.1px,#c31e26 80.2px,#e31e26 96.2px,#e82b31 109.6px,#ed5b60 120.3px,#f3b0b2 126.9px,#ffffff 133.6px)"></i><i style="left:61px;width:4px;height:142px;background:linear-gradient(#7c1418 0.0px,#7c1418 39.7px,#811519 59.6px,#aa1c22 79.5px,#d71e26 95.4px,#e5242c 108.6px,#ec4a50 119.2px,#f2acad 125.9px,#ffffff 132.5px)"></i><i style="left:64px;width:4px;height:142px;background:linear-gradient(#7c1418 0.0px,#7c1418 41.3px,#82161a 62.0px,#ad1c23 82.6px,#d81e26 99.1px,#e6252c 112.9px,#ec4a50 123.9px,#f2abad 130.8px,#ffffff 137.7px)"></i><i style="left:66px;width:5px;height:147px;background:linear-gradient(#7c1418 0.0px,#7c1418 42.4px,#84161a 63.6px,#b01d23 84.9px,#da1e26 101.8px,#e6262d 116.0px,#ec4a50 127.3px,#f2acae 134.4px,#ffffff 141.4px)"></i><i style="left:69px;width:6px;height:147px;background:linear-gradient(#7c1418 0.0px,#7c1418 43.1px,#85171b 64.7px,#b31d24 86.2px,#dc1e26 103.4px,#e6262d 117.8px,#ec4a50 129.3px,#f2abad 136.5px,#ffffff 143.7px)"></i><i style="left:73px;width:4px;height:157px;background:linear-gradient(#7c1418 0.0px,#7c1418 44.2px,#87171b 66.3px,#b71d24 88.4px,#df1e26 106.1px,#e6272e 120.8px,#ec4a50 132.6px,#f2abad 139.9px,#ffffff 147.3px)"></i><i style="left:76px;width:4px;height:157px;background:linear-gradient(#7c1418 0.0px,#7c1418 45.7px,#8a181c 68.5px,#bb1e25 91.4px,#e01e26 109.7px,#e7272e 124.9px,#ec4a50 137.1px,#f2abad 144.7px,#ffffff 152.3px)"></i><i style="left:78px;width:5px;height:157px;background:linear-gradient(#7c1418 0.0px,#7c1418 46.1px,#8e191d 69.1px,#bf1e26 92.1px,#e11e26 110.6px,#e7282f 125.9px,#ec4a50 138.2px,#f2abad 145.9px,#ffffff 153.6px)"></i><i style="left:81px;width:5px;height:157px;background:linear-gradient(#7c1418 0.0px,#7c1418 22.7px,#7e1519 45.3px,#921a1e 68.0px,#c41e26 90.7px,#e21e26 108.8px,#e7282f 123.9px,#ec4a50 136.0px,#f2acad 143.6px,#ffffff 151.1px)"></i><i style="left:84px;width:5px;height:163px;background:linear-gradient(#7c1418 0.0px,#7c1418 22.9px,#801519 45.8px,#9a1b1f 68.7px,#c81e26 91.6px,#e31e26 110.0px,#e7282f 125.2px,#ec4b51 137.5px,#f2abad 145.1px,#ffffff 152.7px)"></i><i style="left:87px;width:5px;height:163px;background:linear-gradient(#7c1418 0.0px,#7c1418 23.8px,#87171b 47.5px,#a91c22 71.3px,#d11e26 95.0px,#e31f27 114.0px,#e7272e 129.9px,#ec464c 142.5px,#f2a7a9 150.5px,#ffffff 158.4px)"></i><i style="left:90px;width:5px;height:163px;background:linear-gradient(#7c1418 0.0px,#811519 23.2px,#8e191d 46.3px,#b81d25 69.5px,#d91e26 92.6px,#e42028 111.1px,#e6262d 126.6px,#eb4248 138.9px,#f1a1a4 146.7px,#ffffff 154.4px)"></i><i style="left:93px;width:5px;height:163px;background:linear-gradient(#7c1418 0.0px,#86171b 21.1px,#991b1f 42.2px,#c71e26 63.3px,#e21e26 84.4px,#e42129 101.3px,#e5242b 115.4px,#eb3e44 126.7px,#f19c9e 133.7px,#ffffff 140.7px)"></i><i style="left:96px;width:5px;height:152px;background:linear-gradient(#7c1418 0.0px,#85161a 20.7px,#991b1f 41.4px,#c71e26 62.1px,#e21e26 82.8px,#e42129 99.4px,#e5232b 113.2px,#eb3a40 124.2px,#f09396 131.1px,#ffffff 138.0px)"></i><i style="left:99px;width:6px;height:152px;background:linear-gradient(#7c1418 0.0px,#82161a 21.9px,#971a1f 43.9px,#c41e26 65.8px,#e11e26 87.7px,#e42129 105.3px,#e5232a 119.9px,#eb373d 131.6px,#ef8b8e 138.9px,#ffffff 146.2px)"></i><i style="left:103px;width:5px;height:213px;background:linear-gradient(#7c1418 0.0px,#7f1519 24.8px,#941a1e 49.7px,#c21e26 74.5px,#e01e26 99.3px,#e42129 119.2px,#e42229 135.8px,#ea3339 149.0px,#ef8386 157.3px,#fffefe 165.5px)"></i><i style="left:106px;width:4px;height:213px;background:linear-gradient(#7c1418 0.0px,#7c1418 29.4px,#921a1e 58.8px,#c01e26 88.2px,#df1e26 117.6px,#e42129 141.2px,#e42129 160.8px,#ea3036 176.4px,#ee7a7e 186.2px,#fffefe 196.0px)"></i><i style="left:109px;width:4px;height:213px;background:linear-gradient(#7c1418 0.0px,#7c1418 30.6px,#90191d 61.1px,#bc1e25 91.7px,#dd1e26 122.3px,#e42027 146.7px,#e42129 167.1px,#ea3036 183.4px,#ee7a7e 193.6px,#ffffff 203.8px)"></i><i style="left:112px;width:4px;height:213px;background:linear-gradient(#7c1418 0.0px,#7c1418 28.3px,#8e191d 56.6px,#b71d24 84.9px,#da1e26 113.2px,#e31e26 135.9px,#e42129 154.8px,#ea3036 169.9px,#ee7a7e 179.3px,#ffffff 188.7px)"></i><i style="left:115px;width:4px;height:183px;background:linear-gradient(#7c1418 0.0px,#7c1418 25.5px,#8c181c 50.9px,#b31d24 76.4px,#d91e26 101.8px,#e31e26 122.2px,#e42129 139.2px,#ea3339 152.8px,#ee7f82 161.3px,#fffefe 169.7px)"></i><i style="left:118px;width:4px;height:183px;background:linear-gradient(#7c1418 0.0px,#7c1418 22.0px,#8a181c 44.1px,#b01d23 66.1px,#d81e26 88.1px,#e31e26 105.7px,#e42129 120.4px,#eb373d 132.2px,#ef8286 139.5px,#fffefe 146.8px)"></i><i style="left:121px;width:4px;height:169px;background:linear-gradient(#7c1418 0.0px,#7c1418 21.5px,#89171b 43.0px,#ad1c23 64.5px,#d71e26 85.9px,#e31e26 103.1px,#e42129 117.4px,#eb3a40 128.9px,#ef878a 136.1px,#ffffff 143.2px)"></i><i style="left:123px;width:5px;height:169px;background:linear-gradient(#7c1418 0.0px,#7c1418 23.8px,#87171b 47.7px,#a91c22 71.5px,#d61e26 95.3px,#e31e26 114.4px,#e42129 130.3px,#eb3d43 143.0px,#ef8a8d 150.9px,#ffffff 158.9px)"></i><i style="left:126px;width:5px;height:169px;background:linear-gradient(#7c1418 0.0px,#7c1418 23.5px,#8a181c 46.9px,#b01d23 70.4px,#da1e26 93.9px,#e31f27 112.6px,#e5232b 128.3px,#eb4147 140.8px,#f09497 148.6px,#fffefe 156.4px)"></i><i style="left:129px;width:5px;height:169px;background:linear-gradient(#7c1418 0.0px,#7c1418 20.4px,#8e191d 40.8px,#b71d24 61.2px,#de1e26 81.6px,#e42028 97.9px,#e6262d 111.5px,#ec454b 122.4px,#f19fa2 129.2px,#fffefe 135.9px)"></i><i style="left:132px;width:5px;height:138px;background:linear-gradient(#7c1418 0.0px,#7c1418 19.2px,#911a1e 38.5px,#bf1e26 57.7px,#e21e26 76.9px,#e42129 92.3px,#e7282f 105.1px,#ec4a50 115.4px,#f2aaac 121.8px,#ffffff 128.2px)"></i><i style="left:135px;width:5px;height:138px;background:linear-gradient(#7c1418 0.0px,#7c1418 20.0px,#8d191d 40.0px,#b61d24 59.9px,#e01e26 79.9px,#e5232a 95.9px,#e92e34 109.2px,#ed5b60 119.9px,#f3afb0 126.5px,#ffffff 133.2px)"></i><i style="left:138px;width:5px;height:138px;background:linear-gradient(#7c1418 0.0px,#7c1418 20.0px,#87171b 39.9px,#aa1c22 59.9px,#dd1e26 79.9px,#e6252c 95.8px,#ea363c 109.2px,#ed6d71 119.8px,#f3b4b5 126.5px,#ffffff 133.1px)"></i><i style="left:141px;width:5px;height:138px;background:linear-gradient(#7c1418 0.0px,#7c1418 19.2px,#82161a 38.4px,#9e1b20 57.6px,#d91e26 76.8px,#e6262e 92.1px,#eb3f45 104.9px,#ee7d81 115.2px,#f4b8b9 121.6px,#ffffff 128.0px)"></i><i style="left:144px;width:5px;height:147px;background:linear-gradient(#7c1418 0.0px,#7c1418 39.1px,#921a1e 58.6px,#d61e26 78.1px,#e7282f 93.8px,#ec4a50 106.8px,#ef8a8d 117.2px,#f4bcbd 123.7px,#fffefe 130.2px)"></i><i style="left:148px;width:5px;height:147px;background:linear-gradient(#8c181c 0.0px,#921a1e 21.0px,#9a1b1f 42.0px,#b81d25 63.0px,#e42028 84.0px,#ea2f35 100.8px,#ec545a 114.8px,#f09295 126.0px,#f5c3c4 133.0px,#ffffff 140.0px)"></i><i style="left:151px;width:4px;height:180px;background:linear-gradient(#bd1e26 0.0px,#ca1e26 23.0px,#cc1e26 46.0px,#db1e26 69.0px,#e6262d 91.9px,#eb383e 110.3px,#ed5d63 125.6px,#f1989a 137.9px,#f5caca 145.6px,#ffffff 153.2px)"></i><i style="left:153px;width:5px;height:180px;background:linear-gradient(#d81e26 0.0px,#e31e26 25.5px,#e31e26 51.0px,#e5222a 76.5px,#e82a31 102.0px,#eb4046 122.5px,#ed686d 139.5px,#f19ea1 153.1px,#f6cfcf 161.6px,#ffffff 170.1px)"></i><i style="left:156px;width:5px;height:180px;background:linear-gradient(#db1e26 0.0px,#e31e26 24.6px,#e31f27 49.2px,#e5242b 73.8px,#e92f35 98.4px,#ec474d 118.0px,#ee7579 134.4px,#f2a6a8 147.6px,#f7d4d4 155.8px,#ffffff 164.0px)"></i><i style="left:159px;width:5px;height:180px;background:linear-gradient(#df1e26 0.0px,#e31e26 20.2px,#e42028 40.5px,#e6262d 60.7px,#ea353b 80.9px,#ec5359 97.1px,#ef8084 110.6px,#f3adaf 121.4px,#f8d8d8 128.1px,#ffffff 134.8px)"></i><i style="left:162px;width:6px;height:122px;background:linear-gradient(#e31e26 0.0px,#e31e26 17.9px,#e42129 35.8px,#e7282f 53.8px,#eb3d43 71.7px,#ed6267 86.0px,#ef8a8e 98.0px,#f3b5b6 107.5px,#f9dddd 113.5px,#ffffff 119.5px)"></i><i style="left:166px;width:5px;height:122px;background:linear-gradient(#e31e26 0.0px,#e31e26 17.7px,#e42028 35.3px,#e6262d 53.0px,#ea3339 70.7px,#ec5056 84.8px,#ee7e82 96.6px,#f2abad 106.0px,#f7d7d7 111.9px,#ffffff 117.8px)"></i><i style="left:169px;width:5px;height:120px;background:linear-gradient(#e31e26 0.0px,#e31e26 17.6px,#e31f27 35.2px,#e5232b 52.8px,#e92d33 70.4px,#ec454b 84.4px,#ee7075 96.2px,#f2a2a5 105.5px,#f6d1d1 111.4px,#ffffff 117.3px)"></i><i style="left:172px;width:4px;height:120px;background:linear-gradient(#e31e26 0.0px,#e31e26 35.3px,#e42129 53.0px,#e7282f 70.7px,#eb3d43 84.8px,#ed6166 96.6px,#f19a9d 106.0px,#f6cccc 111.9px,#ffffff 117.8px)"></i><i style="left:174px;width:6px;height:126px;background:linear-gradient(#de1e26 0.0px,#e31e26 17.9px,#e31e26 35.9px,#e42129 53.8px,#e6252d 71.7px,#ea3238 86.1px,#ec4e54 98.0px,#f08d90 107.6px,#f5c6c7 113.6px,#ffffff 119.5px)"></i><i style="left:178px;width:5px;height:126px;background:linear-gradient(#d81e26 0.0px,#e31e26 18.4px,#e31e26 36.7px,#e42129 55.1px,#e5222a 73.5px,#e82b31 88.2px,#eb4147 100.4px,#ee7f83 110.2px,#f4bebf 116.3px,#fffefe 122.4px)"></i><i style="left:181px;width:4px;height:126px;background:linear-gradient(#bc1e25 0.0px,#c11e26 18.6px,#c31e26 37.1px,#d71e26 55.7px,#e31e26 74.3px,#e6262d 89.1px,#eb373d 101.5px,#ee6e73 111.4px,#f4b8b9 117.6px,#ffffff 123.8px)"></i><i style="left:184px;width:4px;height:126px;background:linear-gradient(#921a1e 0.0px,#8e191d 18.5px,#911a1e 37.1px,#b71d24 55.6px,#d71e26 74.2px,#e5222a 89.0px,#e92f35 101.4px,#ed5d62 111.2px,#f3b2b3 117.4px,#ffffff 123.6px)"></i><i style="left:186px;width:5px;height:127px;background:linear-gradient(#7c1418 0.0px,#7c1418 37.1px,#931a1e 55.7px,#c91e26 74.3px,#e31e26 89.2px,#e7292f 101.5px,#ec4a50 111.4px,#f2abad 117.6px,#ffffff 123.8px)"></i><i style="left:189px;width:6px;height:127px;background:linear-gradient(#801519 0.0px,#7c1418 18.7px,#7c1418 37.3px,#9a1b1f 56.0px,#cd1e26 74.7px,#e31e26 89.6px,#e7292f 102.1px,#ec4a50 112.0px,#f2acae 118.3px,#ffffff 124.5px)"></i><i style="left:193px;width:4px;height:127px;background:linear-gradient(#83161a 0.0px,#7c1418 18.7px,#7d1418 37.3px,#a21b21 56.0px,#d21e26 74.7px,#e31e26 89.6px,#e7292f 102.1px,#ec4a50 112.0px,#f2acae 118.3px,#ffffff 124.5px)"></i><i style="left:195px;width:5px;height:127px;background:linear-gradient(#87171b 0.0px,#7c1418 18.6px,#801519 37.1px,#a81c22 55.7px,#d61e26 74.3px,#e31e26 89.2px,#e7282f 101.5px,#ec4a50 111.4px,#f2abad 117.6px,#ffffff 123.8px)"></i><i style="left:198px;width:5px;height:142px;background:linear-gradient(#89171b 0.0px,#811519 19.2px,#86171b 38.3px,#ae1c23 57.5px,#d81e26 76.6px,#e31f27 91.9px,#e7282f 104.7px,#ec4a50 114.9px,#f2abad 121.3px,#ffffff 127.7px)"></i><i style="left:201px;width:5px;height:142px;background:linear-gradient(#8a181c 0.0px,#87171b 20.4px,#8b181c 40.8px,#b41d24 61.2px,#da1e26 81.7px,#e42027 98.0px,#e7282f 111.6px,#ec4a50 122.5px,#f2abad 129.3px,#ffffff 136.1px)"></i><i style="left:204px;width:5px;height:144px;background:linear-gradient(#8c181c 0.0px,#8c181c 21.1px,#911a1e 42.2px,#ba1d25 63.3px,#dc1e26 84.4px,#e42028 101.3px,#e7282f 115.3px,#ec4a50 126.6px,#f2abad 133.6px,#fffefe 140.6px)"></i><i style="left:207px;width:5px;height:144px;background:linear-gradient(#8d191d 0.0px,#921a1e 21.2px,#9a1b1f 42.4px,#bf1e26 63.6px,#de1e26 84.8px,#e42129 101.8px,#e7282f 115.9px,#ec4a50 127.2px,#f2acad 134.3px,#ffffff 141.4px)"></i><i style="left:210px;width:5px;height:144px;background:linear-gradient(#88171b 0.0px,#8c181c 21.2px,#911a1e 42.5px,#b91d25 63.7px,#db1e26 84.9px,#e42028 101.9px,#e7292f 116.1px,#ec4a50 127.4px,#f2abad 134.5px,#ffffff 141.6px)"></i><i style="left:213px;width:5px;height:144px;background:linear-gradient(#82161a 0.0px,#85161a 21.2px,#8a181c 42.4px,#b11d23 63.6px,#d61e26 84.8px,#e42028 101.8px,#e7292f 115.9px,#ec4a50 127.2px,#f2acae 134.3px,#ffffff 141.3px)"></i><i style="left:216px;width:5px;height:143px;background:linear-gradient(#7c1418 0.0px,#7e1519 20.5px,#84161a 41.0px,#aa1c22 61.5px,#d11e26 82.0px,#e31f27 98.4px,#e7292f 112.1px,#ec4a50 123.0px,#f2abad 129.8px,#fffefe 136.6px)"></i><i style="left:219px;width:5px;height:143px;background:linear-gradient(#7c1418 0.0px,#7c1418 19.1px,#7e1418 38.3px,#a21b21 57.4px,#cd1e26 76.5px,#e31f27 91.8px,#e7292f 104.6px,#ec4a50 114.8px,#f2acae 121.2px,#fffefe 127.5px)"></i><i style="left:222px;width:5px;height:139px;background:linear-gradient(#7c1418 0.0px,#7c1418 37.9px,#9b1b20 56.9px,#c91e26 75.9px,#e31e26 91.0px,#e7292f 103.7px,#ec4a50 113.8px,#f2abad 120.1px,#ffffff 126.4px)"></i><i style="left:225px;width:5px;height:139px;background:linear-gradient(#7c1418 0.0px,#7c1418 20.0px,#7f1519 40.0px,#a41c21 60.0px,#ce1e26 80.0px,#e31f27 96.0px,#e7292f 109.3px,#ec4a50 119.9px,#f2abad 126.6px,#ffffff 133.3px)"></i><i style="left:228px;width:5px;height:150px;background:linear-gradient(#7f1519 0.0px,#811519 20.9px,#87171b 41.9px,#ad1c23 62.8px,#d31e26 83.8px,#e41f27 100.5px,#e7282f 114.5px,#ec4a50 125.7px,#f2acae 132.7px,#fffefe 139.6px)"></i><i style="left:231px;width:5px;height:150px;background:linear-gradient(#86171b 0.0px,#89181c 21.8px,#8e191d 43.7px,#b61d24 65.5px,#d91e26 87.3px,#e42028 104.8px,#e7292f 119.4px,#ec4a50 131.0px,#f2acad 138.3px,#fffefe 145.5px)"></i><i style="left:234px;width:5px;height:150px;background:linear-gradient(#8d191d 0.0px,#911a1e 22.1px,#9a1b1f 44.2px,#bf1e26 66.3px,#de1e26 88.4px,#e42129 106.0px,#e7292f 120.8px,#ec4a50 132.5px,#f2abad 139.9px,#ffffff 147.3px)"></i><i style="left:237px;width:5px;height:150px;background:linear-gradient(#8c181c 0.0px,#8c181c 21.7px,#901a1e 43.4px,#bb1e25 65.2px,#dd1e26 86.9px,#e42028 104.3px,#e7292f 118.8px,#ec4a50 130.3px,#f2acad 137.6px,#ffffff 144.8px)"></i><i style="left:240px;width:5px;height:150px;background:linear-gradient(#8a181c 0.0px,#84161a 21.7px,#8a181c 43.4px,#b51d24 65.2px,#da1e26 86.9px,#e42027 104.3px,#e7292f 118.8px,#ec4a50 130.3px,#f2acad 137.6px,#ffffff 144.8px)"></i><i style="left:243px;width:5px;height:150px;background:linear-gradient(#89171b 0.0px,#7d1418 22.1px,#83161a 44.2px,#af1d23 66.3px,#d81e26 88.4px,#e31f27 106.0px,#e7292f 120.8px,#ec4a50 132.5px,#f2abad 139.9px,#ffffff 147.3px)"></i><i style="left:246px;width:5px;height:150px;background:linear-gradient(#87171b 0.0px,#7c1418 21.4px,#7c1418 42.8px,#a91c22 64.2px,#d61e26 85.5px,#e31e26 102.7px,#e7282f 116.9px,#ec4a50 128.3px,#f2abad 135.4px,#ffffff 142.6px)"></i><i style="left:249px;width:5px;height:150px;background:linear-gradient(#89181c 0.0px,#7c1418 19.6px,#82161a 39.2px,#af1d23 58.8px,#d81e26 78.4px,#e31f27 94.1px,#e7292f 107.2px,#ec4b51 117.7px,#f2abad 124.2px,#ffffff 130.7px)"></i><i style="left:252px;width:5px;height:132px;background:linear-gradient(#8b181c 0.0px,#82161a 18.9px,#89181c 37.8px,#b61d24 56.7px,#db1e26 75.6px,#e31f27 90.7px,#e7282f 103.3px,#ec4a50 113.4px,#f2abad 119.7px,#ffffff 126.0px)"></i><i style="left:255px;width:5px;height:132px;background:linear-gradient(#8e191d 0.0px,#89181c 19.3px,#90191d 38.5px,#bc1e25 57.8px,#de1e26 77.1px,#e42028 92.5px,#e7282f 105.3px,#ec4a50 115.6px,#f2acae 122.1px,#ffffff 128.5px)"></i><i style="left:258px;width:5px;height:132px;background:linear-gradient(#90191d 0.0px,#8f191d 19.4px,#9a1b1f 38.7px,#c21e26 58.1px,#e01e26 77.4px,#e42028 92.9px,#e7282f 105.8px,#ec4b51 116.2px,#f2abad 122.6px,#ffffff 129.1px)"></i><i style="left:261px;width:5px;height:132px;background:linear-gradient(#921a1e 0.0px,#9a1b1f 19.2px,#a81c22 38.3px,#c81e26 57.5px,#e31e26 76.7px,#e42129 92.0px,#e7282f 104.8px,#ec4a50 115.0px,#f2abad 121.4px,#ffffff 127.8px)"></i><i style="left:264px;width:5px;height:138px;background:linear-gradient(#941a1e 0.0px,#9e1b20 19.4px,#ab1c22 38.8px,#ca1e26 58.2px,#e31e26 77.6px,#e42129 93.1px,#e7282f 106.0px,#ec4d52 116.4px,#f3aeaf 122.9px,#ffffff 129.3px)"></i><i style="left:267px;width:5px;height:138px;background:linear-gradient(#971a1f 0.0px,#a01b20 20.0px,#ae1c23 40.1px,#cc1e26 60.1px,#e31e26 80.1px,#e42129 96.2px,#e7282f 109.5px,#ec4f55 120.2px,#f3afb1 126.9px,#ffffff 133.6px)"></i><i style="left:270px;width:5px;height:147px;background:linear-gradient(#991b1f 0.0px,#a31b21 20.7px,#b01d23 41.4px,#cd1e26 62.2px,#e31e26 82.9px,#e42129 99.4px,#e7292f 113.3px,#ec5257 124.3px,#f3b0b2 131.2px,#ffffff 138.1px)"></i><i style="left:273px;width:5px;height:147px;background:linear-gradient(#9c1b20 0.0px,#a51c21 21.4px,#b31d24 42.9px,#ce1e26 64.3px,#e31e26 85.8px,#e42129 102.9px,#e7282f 117.2px,#ec555a 128.7px,#f3b2b4 135.8px,#ffffff 143.0px)"></i><i style="left:276px;width:5px;height:147px;background:linear-gradient(#9f1b20 0.0px,#a81c22 21.2px,#b61d24 42.4px,#d01e26 63.6px,#e31e26 84.8px,#e42129 101.8px,#e7282f 115.9px,#ed585d 127.3px,#f3b4b5 134.3px,#ffffff 141.4px)"></i><i style="left:279px;width:5px;height:147px;background:linear-gradient(#a11b21 0.0px,#aa1c22 20.0px,#b81d25 40.0px,#d11e26 60.0px,#e31e26 80.0px,#e42129 96.0px,#e7292f 109.4px,#ed5a60 120.1px,#f3b6b7 126.7px,#ffffff 133.4px)"></i><i style="left:282px;width:5px;height:144px;background:linear-gradient(#a41c21 0.0px,#ad1c23 19.9px,#bb1e25 39.8px,#d31e26 59.7px,#e31e26 79.5px,#e42129 95.5px,#e7282f 108.7px,#ed5c61 119.3px,#f4b7b9 125.9px,#ffffff 132.6px)"></i><i style="left:285px;width:5px;height:144px;background:linear-gradient(#a61c21 0.0px,#af1d23 20.8px,#bd1e25 41.7px,#d41e26 62.5px,#e31e26 83.4px,#e42129 100.0px,#e7282f 113.9px,#ed5f64 125.0px,#f4babb 132.0px,#ffffff 138.9px)"></i><i style="left:288px;width:5px;height:144px;background:linear-gradient(#a91c22 0.0px,#b21d24 20.9px,#c01e26 41.9px,#d61e26 62.8px,#e31e26 83.8px,#e42129 100.5px,#e7292f 114.5px,#ed6166 125.6px,#f4bcbd 132.6px,#ffffff 139.6px)"></i><i style="left:291px;width:5px;height:144px;background:linear-gradient(#ab1c22 0.0px,#b41d24 20.2px,#c21e26 40.4px,#d71e26 60.6px,#e31e26 80.8px,#e42129 96.9px,#e7292f 110.4px,#ed6267 121.1px,#f4bcbd 127.9px,#ffffff 134.6px)"></i><i style="left:294px;width:5px;height:134px;background:linear-gradient(#ad1c23 0.0px,#b61d24 19.6px,#c31e26 39.1px,#d81e26 58.7px,#e31e26 78.3px,#e42129 93.9px,#e7282f 106.9px,#ed6267 117.4px,#f4bcbd 123.9px,#ffffff 130.4px)"></i><i style="left:297px;width:5px;height:134px;background:linear-gradient(#ae1c23 0.0px,#b71d25 19.1px,#c51e26 38.1px,#d91e26 57.2px,#e31f27 76.2px,#e42129 91.5px,#e7282f 104.2px,#ed6368 114.4px,#f4bcbd 120.7px,#ffffff 127.1px)"></i><i style="left:300px;width:5px;height:141px;background:linear-gradient(#b01d23 0.0px,#b91d25 19.3px,#c71e26 38.7px,#da1e26 58.0px,#e31f27 77.3px,#e42129 92.8px,#e7292f 105.7px,#ed6267 116.0px,#f4bcbd 122.5px,#ffffff 128.9px)"></i><i style="left:303px;width:5px;height:141px;background:linear-gradient(#b21d24 0.0px,#bb1e25 20.4px,#c81e26 40.8px,#db1e26 61.2px,#e31f27 81.5px,#e42129 97.8px,#e7282f 111.4px,#ed6267 122.3px,#f4bcbd 129.1px,#ffffff 135.9px)"></i><i style="left:306px;width:5px;height:144px;background:linear-gradient(#b31d24 0.0px,#bd1e25 21.0px,#ca1e26 42.0px,#dc1e26 63.0px,#e41f27 84.0px,#e42129 100.9px,#e7292f 114.9px,#ed6368 126.1px,#f4bcbd 133.1px,#ffffff 140.1px)"></i><i style="left:309px;width:5px;height:144px;background:linear-gradient(#b51d24 0.0px,#be1e26 21.2px,#cc1e26 42.4px,#dd1e26 63.6px,#e42027 84.9px,#e42129 101.8px,#e7292f 116.0px,#ed6267 127.3px,#f4bcbd 134.4px,#ffffff 141.4px)"></i><i style="left:312px;width:5px;height:144px;background:linear-gradient(#b71d24 0.0px,#c01e26 20.8px,#cd1e26 41.6px,#de1e26 62.3px,#e42028 83.1px,#e42129 99.8px,#e7282f 113.6px,#ed6267 124.7px,#f4bcbd 131.6px,#ffffff 138.5px)"></i><i style="left:315px;width:5px;height:144px;background:linear-gradient(#b91d25 0.0px,#c21e26 19.7px,#cf1e26 39.4px,#df1e26 59.2px,#e42028 78.9px,#e42129 94.6px,#e7292f 107.8px,#ed6267 118.3px,#f4bcbd 124.9px,#fffefe 131.4px)"></i><i style="left:318px;width:5px;height:130px;background:linear-gradient(#bb1e25 0.0px,#c41e26 18.9px,#d11e26 37.8px,#e01e26 56.7px,#e42028 75.5px,#e42129 90.6px,#e7282f 103.2px,#ed6267 113.3px,#f4bcbd 119.6px,#ffffff 125.9px)"></i><i style="left:321px;width:5px;height:130px;background:linear-gradient(#bc1e25 0.0px,#c51e26 18.3px,#d31e26 36.6px,#e11e26 54.9px,#e42128 73.1px,#e42129 87.8px,#e7292f 100.0px,#ed6267 109.7px,#f4bcbd 115.8px,#ffffff 121.9px)"></i><i style="left:324px;width:5px;height:122px;background:linear-gradient(#be1e26 0.0px,#c71e26 18.0px,#d41e26 36.0px,#e21e26 54.0px,#e42128 72.0px,#e42129 86.4px,#e7292f 98.4px,#ed6267 108.0px,#f4bcbd 114.0px,#ffffff 120.0px)"></i><i style="left:327px;width:5px;height:122px;background:linear-gradient(#c01e26 0.0px,#c91e26 18.0px,#d61e26 36.1px,#e31e26 54.1px,#e42129 72.1px,#e42129 86.5px,#e7292f 98.6px,#ed6267 108.2px,#f4bcbd 114.2px,#ffffff 120.2px)"></i><i style="left:330px;width:5px;height:132px;background:linear-gradient(#c61e26 0.0px,#ce1e26 18.4px,#d91e26 36.8px,#e31f27 55.2px,#e42129 73.6px,#e42229 88.3px,#e72930 100.6px,#ed6267 110.4px,#f4bcbd 116.6px,#ffffff 122.7px)"></i><i style="left:333px;width:5px;height:132px;background:linear-gradient(#cc1e26 0.0px,#d31e26 19.1px,#db1e26 38.2px,#e31f27 57.4px,#e42129 76.5px,#e5222a 91.8px,#e82a31 104.5px,#ed6267 114.7px,#f4bcbd 121.1px,#ffffff 127.5px)"></i><i style="left:336px;width:5px;height:132px;background:linear-gradient(#d21e26 0.0px,#d91e26 19.4px,#de1e26 38.8px,#e42028 58.2px,#e42129 77.6px,#e5232a 93.2px,#e82b32 106.1px,#ed6368 116.5px,#f4bcbd 122.9px,#ffffff 129.4px)"></i><i style="left:339px;width:5px;height:132px;background:linear-gradient(#d81e26 0.0px,#de1e26 19.3px,#e01e26 38.5px,#e42028 57.8px,#e42129 77.0px,#e5232b 92.4px,#e82c33 105.3px,#ed6368 115.6px,#f4bcbd 122.0px,#ffffff 128.4px)"></i><i style="left:342px;width:5px;height:130px;background:linear-gradient(#de1e26 0.0px,#e31e26 19.0px,#e31e26 38.0px,#e42129 56.9px,#e42129 75.9px,#e5242b 91.1px,#e92d33 103.8px,#ed6267 113.9px,#f4bcbd 120.2px,#fffefe 126.5px)"></i><i style="left:345px;width:4px;height:130px;background:linear-gradient(#df1e26 0.0px,#e31e26 18.6px,#e31e26 37.2px,#e42129 55.7px,#e42129 74.3px,#e6242c 89.2px,#e92d34 101.6px,#ed6368 111.5px,#f4bcbd 117.7px,#fffefe 123.8px)"></i><i style="left:348px;width:4px;height:132px;background:linear-gradient(#e01e26 0.0px,#e31e26 18.7px,#e31f27 37.3px,#e42129 56.0px,#e42229 74.6px,#e6252c 89.5px,#e92e34 102.0px,#ed6267 111.9px,#f4bcbd 118.1px,#fffefe 124.3px)"></i><i style="left:351px;width:4px;height:132px;background:linear-gradient(#e01e26 0.0px,#e31e26 19.2px,#e31f27 38.4px,#e42129 57.6px,#e5222a 76.8px,#e6252d 92.2px,#e92e34 105.0px,#ed6267 115.2px,#f4bbbc 121.6px,#fffefe 128.0px)"></i><i style="left:354px;width:4px;height:132px;background:linear-gradient(#e11e26 0.0px,#e31e26 19.2px,#e41f27 38.4px,#e42129 57.5px,#e5222a 76.7px,#e6262d 92.1px,#e92e34 104.8px,#ed6368 115.1px,#f4bcbd 121.5px,#fffefe 127.8px)"></i><i style="left:357px;width:4px;height:132px;background:linear-gradient(#e11e26 0.0px,#e31e26 18.6px,#e42027 37.1px,#e42129 55.7px,#e5232a 74.2px,#e6262e 89.1px,#e92f35 101.5px,#ed6267 111.4px,#f4bcbd 117.6px,#fffefe 123.7px)"></i><i style="left:360px;width:5px;height:144px;background:linear-gradient(#e21e26 0.0px,#e31e26 19.0px,#e42028 38.0px,#e42129 57.1px,#e5232a 76.1px,#e6272e 91.3px,#ea2f35 104.0px,#ed6267 114.1px,#f4bcbd 120.5px,#ffffff 126.8px)"></i><i style="left:363px;width:5px;height:144px;background:linear-gradient(#e21e26 0.0px,#e31e26 20.5px,#e42028 41.1px,#e42129 61.6px,#e5232b 82.2px,#e7272e 98.6px,#ea2f35 112.3px,#ed6267 123.3px,#f4bbbc 130.1px,#ffffff 137.0px)"></i><i style="left:366px;width:5px;height:144px;background:linear-gradient(#e31e26 0.0px,#e31e26 21.1px,#e42128 42.1px,#e42129 63.2px,#e5242b 84.3px,#e7282f 101.2px,#ea3036 115.2px,#ed6267 126.4px,#f4bcbd 133.5px,#ffffff 140.5px)"></i><i style="left:369px;width:5px;height:144px;background:linear-gradient(#e31e26 0.0px,#e31e26 20.6px,#e42129 41.2px,#e42129 61.8px,#e5242b 82.4px,#e7292f 98.9px,#ea3036 112.6px,#ed6368 123.6px,#f4bcbd 130.4px,#ffffff 137.3px)"></i><i style="left:372px;width:5px;height:141px;background:linear-gradient(#e5232a 0.0px,#e5232a 20.5px,#e6252c 41.0px,#e6262d 61.5px,#e72930 82.0px,#e92e34 98.4px,#eb3a40 112.0px,#ee6f73 123.0px,#f4c0c1 129.8px,#ffffff 136.6px)"></i><i style="left:375px;width:5px;height:141px;background:linear-gradient(#e7272e 0.0px,#e7272e 20.8px,#e7292f 41.5px,#e82a31 62.3px,#e92e34 83.1px,#eb373d 99.7px,#ec444a 113.5px,#ee7a7e 124.6px,#f5c5c5 131.6px,#ffffff 138.5px)"></i><i style="left:378px;width:5px;height:141px;background:linear-gradient(#e82c32 0.0px,#e82c32 20.3px,#e92c33 40.7px,#e92f35 61.0px,#ea353b 81.4px,#eb4046 97.6px,#ec5056 111.2px,#ef8386 122.1px,#f5c8c9 128.8px,#ffffff 135.6px)"></i><i style="left:381px;width:5px;height:141px;background:linear-gradient(#ea3036 0.0px,#ea3036 38.4px,#ea353b 57.6px,#eb3d43 76.8px,#ec4a50 92.2px,#ed6267 105.0px,#ef8b8e 115.3px,#f6cdcd 121.7px,#ffffff 128.1px)"></i><i style="left:384px;width:4px;height:126px;background:linear-gradient(#ea3339 0.0px,#ea3339 18.6px,#ea353b 37.3px,#eb3a40 55.9px,#eb4147 74.5px,#ec4f55 89.4px,#ed676c 101.8px,#f08f92 111.8px,#f6cdcd 118.0px,#ffffff 124.2px)"></i><i style="left:386px;width:5px;height:126px;background:linear-gradient(#ea363c 0.0px,#ea363c 18.6px,#eb393f 37.2px,#eb3f45 55.8px,#ec454b 74.4px,#ec555a 89.2px,#ed6d71 101.6px,#f09295 111.5px,#f6cccd 117.7px,#ffffff 123.9px)"></i><i style="left:389px;width:5px;height:129px;background:linear-gradient(#eb393f 0.0px,#eb393f 18.7px,#eb3e44 37.4px,#ec444a 56.1px,#ec4a50 74.8px,#ed5b60 89.7px,#ee7377 102.2px,#f09699 112.2px,#f6cdcd 118.4px,#ffffff 124.6px)"></i><i style="left:392px;width:5px;height:129px;background:linear-gradient(#eb3c42 0.0px,#eb3c42 19.0px,#ec444a 37.9px,#ec494f 56.9px,#ec5258 75.8px,#ed6166 91.0px,#ee797d 103.6px,#f19a9d 113.7px,#f6cccd 120.0px,#ffffff 126.3px)"></i><i style="left:395px;width:5px;height:134px;background:linear-gradient(#eb4349 0.0px,#eb4349 19.3px,#ec4a50 38.5px,#ec555a 57.8px,#ed5e63 77.0px,#ed6d71 92.4px,#ef8185 105.3px,#f1a2a4 115.5px,#f6d1d1 122.0px,#ffffff 128.4px)"></i><i style="left:398px;width:6px;height:134px;background:linear-gradient(#ec4a50 0.0px,#ec4a50 19.6px,#ec565b 39.2px,#ed6167 58.8px,#ed6b70 78.4px,#ee797e 94.1px,#ef8a8d 107.2px,#f2abad 117.7px,#f7d5d5 124.2px,#ffffff 130.7px)"></i><i style="left:402px;width:5px;height:134px;background:linear-gradient(#ed565c 0.0px,#ed565c 19.4px,#ed6166 38.8px,#ee6e73 58.3px,#ee787c 77.7px,#ef8286 93.2px,#f09396 106.2px,#f3b4b6 116.6px,#f8d9d9 123.0px,#ffffff 129.5px)"></i><i style="left:405px;width:5px;height:134px;background:linear-gradient(#ed6166 0.0px,#ed6166 18.7px,#ed6a6f 37.4px,#ee797d 56.1px,#ef8084 74.8px,#ef8a8d 89.8px,#f19b9d 102.3px,#f4bbbd 112.2px,#f9dddd 118.5px,#ffffff 124.7px)"></i><i style="left:408px;width:5px;height:124px;background:linear-gradient(#ec545a 0.0px,#ec545a 17.2px,#ed5e63 34.3px,#ed6c71 51.5px,#ee7a7e 68.6px,#ef8689 82.3px,#f09699 93.8px,#f4b7b8 102.9px,#f8dbdb 108.6px,#ffffff 114.4px)"></i><i style="left:411px;width:5px;height:124px;background:linear-gradient(#ec494f 0.0px,#ec494f 14.8px,#ec5258 29.5px,#ed6166 44.3px,#ee7276 59.1px,#ef8285 70.9px,#f09295 80.7px,#f3b3b5 88.6px,#f8dada 93.5px,#ffffff 98.4px)"></i><i style="left:414px;width:5px;height:92px;background:linear-gradient(#eb4349 0.0px,#eb4349 12.9px,#ec484e 25.8px,#ec545a 38.7px,#ed696e 51.6px,#ee7e81 61.9px,#f08e91 70.5px,#f3afb1 77.4px,#f8d8d8 81.7px,#ffffff 86.0px)"></i><i style="left:417px;width:5px;height:92px;background:linear-gradient(#eb3a40 0.0px,#eb3a40 11.5px,#eb3f45 23.1px,#ec474d 34.6px,#ed5b61 46.2px,#ee7377 55.4px,#ef878a 63.1px,#f2a9ab 69.2px,#f7d6d6 73.1px,#ffffff 76.9px)"></i><i style="left:420px;width:5px;height:74px;background:linear-gradient(#e92e34 0.0px,#e92e34 10.0px,#ea3137 20.0px,#eb383e 30.0px,#eb4349 39.9px,#ec555b 47.9px,#ee777b 54.6px,#f19fa1 59.9px,#f6d2d2 63.2px,#ffffff 66.6px)"></i><i style="left:423px;width:4px;height:74px;background:linear-gradient(#e7272e 0.0px,#e7272e 8.2px,#e82a31 16.5px,#e92e34 24.7px,#ea363c 33.0px,#eb4248 39.5px,#ed6368 45.0px,#f09699 49.4px,#f6d1d1 52.2px,#ffffff 54.9px)"></i><i style="left:425px;width:5px;height:51px;background:linear-gradient(#e31f27 0.0px,#e31f27 7.2px,#e52229 14.4px,#e6252c 21.6px,#e82a30 28.8px,#ea3238 34.6px,#ec4d53 39.4px,#f08b8f 43.2px,#f6cccd 45.6px,#fffefe 48.0px)"></i><i style="left:428px;width:6px;height:51px;background:linear-gradient(#c91e26 0.0px,#cb1e26 6.9px,#d51e26 13.8px,#e11e26 20.6px,#e5232a 27.5px,#e82b32 33.0px,#eb4349 37.6px,#ef878a 41.3px,#f5c9c9 43.6px,#ffffff 45.9px)"></i><i style="left:432px;width:5px;height:47px;background:linear-gradient(#ad1c23 0.0px,#b21d23 6.5px,#bd1e26 13.1px,#cd1e26 19.6px,#df1e26 26.2px,#e6262d 31.4px,#eb3d43 35.8px,#ef8386 39.3px,#f5c2c3 41.4px,#fffefe 43.6px)"></i><i style="left:435px;width:5px;height:47px;background:linear-gradient(#911a1e 0.0px,#981b1f 6.2px,#a51c21 12.4px,#b91d25 18.6px,#ce1e26 24.8px,#e42229 29.7px,#ea353b 33.8px,#ee7c80 37.1px,#f4bfc0 39.2px,#ffffff 41.3px)"></i><i style="left:438px;width:5px;height:45px;background:linear-gradient(#88171b 0.0px,#8c181c 6.1px,#941a1e 12.3px,#aa1c22 18.4px,#c11e26 24.5px,#e31e26 29.4px,#ea3036 33.5px,#ee7b7f 36.8px,#f4bcbd 38.8px,#fffdfd 40.8px)"></i><i style="left:441px;width:5px;height:45px;background:linear-gradient(#8c181c 0.0px,#911a1e 6.4px,#9d1b20 12.7px,#b11d23 19.1px,#c51e26 25.4px,#e31f27 30.5px,#ea3036 34.7px,#ee7a7e 38.1px,#f4bbbc 40.2px,#ffffff 42.4px)"></i><i style="left:444px;width:5px;height:45px;background:linear-gradient(#901a1e 0.0px,#981b1f 6.3px,#a61c21 12.5px,#b71d24 18.8px,#c91e26 25.0px,#e31f27 30.0px,#ea3036 34.2px,#ee7a7e 37.5px,#f4bcbd 39.6px,#ffffff 41.7px)"></i><i style="left:447px;width:4px;height:45px;background:linear-gradient(#971a1f 0.0px,#a01b20 5.8px,#ae1c23 11.6px,#bd1e25 17.5px,#cd1e26 23.3px,#e42028 28.0px,#ea3036 31.8px,#ee797d 34.9px,#f4bdbe 36.9px,#fffefe 38.8px)"></i><i style="left:449px;width:5px;height:62px;background:linear-gradient(#9f1b20 0.0px,#a91c22 6.4px,#b61d24 12.9px,#c21e26 19.3px,#d11e26 25.8px,#e42028 30.9px,#ea3036 35.2px,#ee7b7f 38.7px,#f4bbbc 40.8px,#ffffff 43.0px)"></i><i style="left:452px;width:5px;height:62px;background:linear-gradient(#a81c22 0.0px,#b11d23 8.1px,#bf1e26 16.2px,#c81e26 24.4px,#d61e26 32.5px,#e42129 39.0px,#ea3036 44.4px,#ee7a7e 48.7px,#f4bcbd 51.4px,#fffefe 54.1px)"></i><i style="left:455px;width:5px;height:64px;background:linear-gradient(#a01b21 0.0px,#ab1c22 9.0px,#bb1e25 18.1px,#c71e26 27.1px,#d61e26 36.2px,#e42129 43.4px,#ea3036 49.5px,#ee7a7e 54.3px,#f4bcbd 57.3px,#fffefe 60.3px)"></i><i style="left:458px;width:5px;height:64px;background:linear-gradient(#971a1f 0.0px,#a21b21 9.2px,#b51d24 18.5px,#c41e26 27.7px,#d61e26 36.9px,#e42129 44.3px,#ea3036 50.5px,#ee7a7e 55.4px,#f4bcbd 58.5px,#ffffff 61.6px)"></i><i style="left:462px;width:5px;height:64px;background:linear-gradient(#90191d 0.0px,#9a1b1f 9.1px,#ae1c23 18.2px,#c21e26 27.2px,#d61e26 36.3px,#e42129 43.6px,#ea3036 49.6px,#ee797d 54.4px,#f4bdbe 57.5px,#ffffff 60.5px)"></i><i style="left:465px;width:5px;height:64px;background:linear-gradient(#8d191d 0.0px,#941a1e 8.6px,#ab1c22 17.1px,#c11e26 25.7px,#d71e26 34.3px,#e42129 41.1px,#ea3036 46.8px,#ee7a7e 51.4px,#f4bbbc 54.2px,#ffffff 57.1px)"></i><i style="left:468px;width:5px;height:57px;background:linear-gradient(#9a1b1f 0.0px,#a51c21 7.7px,#b91d25 15.4px,#ca1e26 23.1px,#dd1e26 30.9px,#e5242b 37.0px,#ea3339 42.2px,#ee7a7e 46.3px,#f4bdbe 48.9px,#fffefe 51.4px)"></i><i style="left:471px;width:4px;height:57px;background:linear-gradient(#ac1c22 0.0px,#b41d24 6.5px,#c51e26 13.0px,#d21e26 19.6px,#e31e26 26.1px,#e6262d 31.3px,#ea353b 35.6px,#ee797d 39.1px,#f4bcbd 41.3px,#ffffff 43.5px)"></i><i style="left:473px;width:5px;height:42px;background:linear-gradient(#be1e26 0.0px,#c31e26 5.6px,#d11e26 11.3px,#da1e26 16.9px,#e42028 22.6px,#e7282f 27.1px,#eb383e 30.9px,#ee7b7f 33.9px,#f4bdbe 35.8px,#ffffff 37.7px)"></i><i style="left:476px;width:5px;height:42px;background:linear-gradient(#d01e26 0.0px,#d21e26 5.1px,#de1e26 10.2px,#e31e26 15.3px,#e42229 20.4px,#e82a31 24.4px,#eb3a40 27.8px,#ee7c80 30.6px,#f4bebf 32.3px,#fffdfd 33.9px)"></i><i style="left:479px;width:5px;height:45px;background:linear-gradient(#e21e26 0.0px,#e21e26 5.2px,#e42128 10.4px,#e42129 15.6px,#e5242b 20.9px,#e92d33 25.0px,#eb3d43 28.5px,#ee7b7f 31.3px,#f4bcbd 33.0px,#ffffff 34.8px)"></i><i style="left:482px;width:5px;height:45px;background:linear-gradient(#e42129 0.0px,#e42129 6.0px,#e5242b 12.0px,#e6252d 18.0px,#e82a30 24.0px,#ea343a 28.8px,#ec444a 32.8px,#ef8185 36.0px,#f4bfc0 38.0px,#fffdfd 40.0px)"></i><i style="left:486px;width:5px;height:45px;background:linear-gradient(#e5242c 0.0px,#e5242c 6.0px,#e7272e 12.0px,#e82a31 18.0px,#ea3036 24.0px,#eb3e44 28.8px,#ec4f55 32.8px,#ef8b8e 36.0px,#f5c7c8 38.0px,#fffefe 39.9px)"></i><i style="left:489px;width:5px;height:45px;background:linear-gradient(#e7272e 0.0px,#e7272e 5.2px,#e82a31 10.3px,#e92e35 15.5px,#eb3a40 20.7px,#ec474d 24.8px,#ed5d62 28.2px,#f09194 31.0px,#f5caca 32.7px,#fffdfd 34.4px)"></i><i style="left:492px;width:5px;height:34px;background:linear-gradient(#ea2f36 0.0px,#ea2f36 4.6px,#ea343a 9.3px,#eb3c42 13.9px,#ec484e 18.5px,#ed5c61 22.2px,#ee7478 25.3px,#f19ea0 27.8px,#f6d0d0 29.3px,#fffdfd 30.8px)"></i><i style="left:495px;width:5px;height:34px;background:linear-gradient(#eb4147 0.0px,#eb4147 4.4px,#ec464c 8.7px,#ec4f55 13.1px,#ed6368 17.5px,#ee777b 21.0px,#ef888b 23.9px,#f2a9ab 26.2px,#f7d5d5 27.7px,#ffffff 29.2px)"></i><i style="left:498px;width:5px;height:46px;background:linear-gradient(#ed5b60 0.0px,#ed5b60 4.8px,#ed656a 9.7px,#ee6f74 14.5px,#ee7e82 19.4px,#ef8a8d 23.3px,#f19a9d 26.5px,#f3b7b8 29.1px,#f8d9d9 30.7px,#fffefe 32.3px)"></i><i style="left:501px;width:4px;height:46px;background:linear-gradient(#ee7d80 0.0px,#ee7d81 6.1px,#ef8387 12.1px,#ef8a8d 18.2px,#f09396 24.2px,#f19d9f 29.1px,#f3adaf 33.1px,#f5c4c4 36.3px,#f9dfdf 38.4px,#ffffff 40.4px)"></i><i style="left:504px;width:5px;height:47px;background:linear-gradient(#f19c9f 0.0px,#f19c9f 6.7px,#f1a2a4 13.4px,#f2a7a9 20.1px,#f3aeb0 26.8px,#f3b6b7 32.1px,#f5c3c4 36.6px,#f7d4d4 40.1px,#fbe8e8 42.4px,#ffffff 44.6px)"></i><i style="left:507px;width:5px;height:47px;background:linear-gradient(#f4bdbe 0.0px,#f4bdbe 6.7px,#f5c2c2 13.5px,#f5c6c6 20.2px,#f5cbcb 27.0px,#f6d0d0 32.4px,#f8d9d9 36.9px,#fae5e5 40.5px,#fcf1f1 42.7px,#ffffff 45.0px)"></i><i style="left:510px;width:5px;height:47px;background:linear-gradient(#f6d2d2 0.0px,#f6d2d2 6.7px,#f7d5d5 13.3px,#f8d9d9 20.0px,#f8dddd 26.7px,#f9e1e1 32.0px,#fbe8e8 36.5px,#fcefef 40.0px,#fef8f8 42.3px,#ffffff 44.5px)"></i><i style="left:513px;width:4px;height:47px;background:linear-gradient(#f4b7b8 0.0px,#f4b7b8 6.5px,#f4bcbd 12.9px,#f5c1c2 19.4px,#f5c8c9 25.8px,#f6cfcf 31.0px,#f8d9d9 35.3px,#fae3e3 38.7px,#fdf3f3 40.9px,#ffffff 43.0px)"></i><i style="left:515px;width:6px;height:64px;background:linear-gradient(#f09295 0.0px,#f09295 7.1px,#f1999b 14.2px,#f19fa2 21.3px,#f2aaac 28.4px,#f3b4b5 34.0px,#f5c2c3 38.8px,#f6d0d0 42.5px,#fbebeb 44.9px,#ffffff 47.3px)"></i><i style="left:519px;width:6px;height:64px;background:linear-gradient(#e92d33 0.0px,#e92d33 8.6px,#ea3238 17.2px,#eb383e 25.8px,#ec444a 34.3px,#ed565c 41.2px,#ed6e72 46.9px,#f09194 51.5px,#f6d0d0 54.4px,#ffffff 57.2px)"></i></div>
<div style="position:absolute;overflow:hidden;filter:blur(0.7px);left:78.5px;top:374.0px;width:523.3px;height:221.6px"><i style="left:0px;width:5px;height:181px;background:linear-gradient(#f4bcbd 0.0px,#f4c0c1 26.8px,#f6cdcd 53.7px,#fae6e6 80.5px,#fbfbfd 107.4px,#e8e8f4 128.8px,#e8e8f4 146.7px,#efeff7 161.0px,#f3f3f9 170.0px,#f3f3f9 178.9px)"></i><i style="left:3px;width:6px;height:181px;background:linear-gradient(#f4bcbd 0.0px,#f4c0c1 26.8px,#f6cdcd 53.5px,#fae6e6 80.3px,#fbfbfd 107.1px,#e8e8f4 128.5px,#e8e8f4 146.3px,#efeff7 160.6px,#f3f3f9 169.5px,#f3f3f9 178.5px)"></i><i style="left:7px;width:5px;height:183px;background:linear-gradient(#f5c1c2 0.0px,#f5c3c4 26.8px,#f6cdcd 53.7px,#fae5e5 80.5px,#fcfcfd 107.4px,#e8e8f4 128.8px,#e6e6f3 146.7px,#ededf6 161.0px,#f1f1f8 170.0px,#f2f2f9 178.9px)"></i><i style="left:10px;width:5px;height:183px;background:linear-gradient(#f5caca 0.0px,#f5c9c9 27.0px,#f6cece 54.1px,#fae3e3 81.1px,#fdfdfe 108.2px,#e8e8f4 129.8px,#e4e4f2 147.8px,#e9e9f4 162.2px,#eeeef7 171.3px,#efeff7 180.3px)"></i><i style="left:13px;width:5px;height:183px;background:linear-gradient(#f6d2d2 0.0px,#f6cece 27.1px,#f6cfcf 54.2px,#f9e2e2 81.3px,#fefefe 108.4px,#e8e8f4 130.1px,#e1e1f1 148.1px,#e5e5f3 162.6px,#eaeaf5 171.6px,#ededf6 180.7px)"></i><i style="left:16px;width:5px;height:183px;background:linear-gradient(#f8dada 0.0px,#f7d3d3 27.0px,#f6d0d0 54.0px,#f9e0e0 81.0px,#ffffff 108.0px,#e8e8f4 129.6px,#dfdfef 147.6px,#e2e2f1 162.0px,#e7e7f3 171.0px,#ebebf5 180.0px)"></i><i style="left:19px;width:5px;height:193px;background:linear-gradient(#f9e2e2 0.0px,#f8d8d8 27.4px,#f6d1d1 54.8px,#f9dfdf 82.2px,#fffefe 109.5px,#e8e8f4 131.4px,#dcdcee 149.7px,#ddddef 164.3px,#e4e4f2 173.4px,#e8e8f4 182.6px)"></i><i style="left:22px;width:5px;height:193px;background:linear-gradient(#fbeaea 0.0px,#f8dddd 28.2px,#f6d2d2 56.5px,#f9dddd 84.7px,#fffdfd 112.9px,#e8e8f4 135.5px,#d9d9ec 154.3px,#d9d9ec 169.4px,#e1e1f0 178.8px,#e6e6f3 188.2px)"></i><i style="left:25px;width:5px;height:193px;background:linear-gradient(#fcf2f2 0.0px,#f9e2e2 28.0px,#f7d3d3 56.1px,#f8dcdc 84.1px,#fffcfc 112.1px,#e8e8f4 134.6px,#d6d6eb 153.3px,#d4d4ea 168.2px,#ddddee 177.6px,#e4e4f2 186.9px)"></i><i style="left:28px;width:4px;height:193px;background:linear-gradient(#fefafa 0.0px,#fae7e7 26.8px,#f7d4d4 53.6px,#f8dada 80.4px,#fefbfb 107.2px,#e8e8f4 128.7px,#d3d3e9 146.6px,#cfcfe8 160.8px,#d9d9ec 169.8px,#e1e1f1 178.7px)"></i><i style="left:30px;width:5px;height:177px;background:linear-gradient(#fefcfc 0.0px,#fbe8e8 25.2px,#f7d4d4 50.4px,#f8dada 75.6px,#fefbfb 100.8px,#e7e7f3 121.0px,#d0d0e8 137.8px,#cbcbe5 151.2px,#d5d5ea 159.6px,#dfdff0 168.0px)"></i><i style="left:33px;width:5px;height:177px;background:linear-gradient(#fcf1f1 0.0px,#f9e1e1 23.2px,#f6d2d2 46.4px,#f8dada 69.6px,#fefcfc 92.9px,#e6e6f3 111.4px,#cdcde6 126.9px,#c8c8e4 139.3px,#d2d2e9 147.0px,#ddddef 154.8px)"></i><i style="left:36px;width:5px;height:150px;background:linear-gradient(#fae6e6 0.0px,#f8dada 22.1px,#f6cfcf 44.2px,#f8dbdb 66.2px,#fffdfd 88.3px,#e4e4f2 106.0px,#cacae5 120.7px,#c5c5e2 132.5px,#cfcfe7 139.8px,#dbdbee 147.2px)"></i><i style="left:39px;width:6px;height:150px;background:linear-gradient(#f8dbdb 0.0px,#f6d2d2 21.8px,#f6cccc 43.6px,#f8dcdc 65.4px,#fffefe 87.2px,#e2e2f1 104.7px,#c6c6e3 119.2px,#c1c1e1 130.8px,#cbcbe6 138.1px,#d9d9ec 145.3px)"></i><i style="left:43px;width:5px;height:146px;background:linear-gradient(#f6d0d0 0.0px,#f5cbcb 21.3px,#f5c9ca 42.7px,#f9dddd 64.0px,#ffffff 85.4px,#e1e1f0 102.4px,#c3c3e1 116.7px,#bebedf 128.1px,#c8c8e4 135.2px,#d7d7eb 142.3px)"></i><i style="left:46px;width:4px;height:146px;background:linear-gradient(#f6cdcd 0.0px,#f5c8c8 20.7px,#f5c3c4 41.4px,#f7d6d6 62.1px,#fef7f7 82.8px,#e5e5f2 99.4px,#c7c7e3 113.2px,#c0c0e0 124.2px,#c8c8e4 131.1px,#d7d7eb 138.0px)"></i><i style="left:48px;width:6px;height:147px;background:linear-gradient(#f6cece 0.0px,#f5c7c7 20.7px,#f4bbbc 41.5px,#f5caca 62.2px,#fbecec 82.9px,#ededf6 99.5px,#cecee7 113.4px,#c4c4e2 124.4px,#cacae5 131.3px,#d8d8ec 138.2px)"></i><i style="left:52px;width:5px;height:147px;background:linear-gradient(#f6d0d0 0.0px,#f5c6c6 21.4px,#f3b3b5 42.9px,#f4bebf 64.3px,#f9e0e0 85.8px,#f5f5fa 102.9px,#d7d7eb 117.2px,#c9c9e4 128.7px,#cccce6 135.8px,#d9d9ed 143.0px)"></i><i style="left:55px;width:5px;height:147px;background:linear-gradient(#f6d1d1 0.0px,#f5c5c5 21.2px,#f2abad 42.5px,#f3b2b4 63.7px,#f7d4d4 85.0px,#fdfdfe 101.9px,#dedeef 116.1px,#cdcde7 127.4px,#cecee7 134.5px,#dbdbed 141.6px)"></i><i style="left:58px;width:5px;height:147px;background:linear-gradient(#f6d2d2 0.0px,#f5c4c4 20.1px,#f2a4a6 40.2px,#f2a7a9 60.3px,#f5c8c9 80.5px,#fef9f9 96.6px,#e4e4f2 110.0px,#d2d2e9 120.7px,#d0d0e8 127.4px,#dcdcee 134.1px)"></i><i style="left:61px;width:5px;height:143px;background:linear-gradient(#f6d3d3 0.0px,#f5c3c3 19.9px,#f19c9f 39.9px,#f19c9f 59.8px,#f4bebe 79.8px,#fcf1f1 95.7px,#eaeaf5 109.0px,#d6d6eb 119.7px,#d2d2e9 126.3px,#ddddef 133.0px)"></i><i style="left:64px;width:4px;height:143px;background:linear-gradient(#f7d4d4 0.0px,#f5c2c2 20.7px,#f09598 41.5px,#f09295 62.2px,#f3b3b5 82.9px,#fbe9e9 99.5px,#efeff7 113.3px,#dadaed 124.4px,#d3d3ea 131.3px,#dedeef 138.2px)"></i><i style="left:66px;width:5px;height:147px;background:linear-gradient(#f7d5d5 0.0px,#f4c1c1 21.3px,#f08e91 42.6px,#ef878b 63.9px,#f2a8aa 85.2px,#f9e1e1 102.2px,#f5f5fa 116.4px,#dedeef 127.7px,#d5d5eb 134.8px,#dfdff0 141.9px)"></i><i style="left:69px;width:6px;height:147px;background:linear-gradient(#f7d4d4 0.0px,#f5c1c2 21.6px,#f09194 43.3px,#f08c8f 64.9px,#f3adaf 86.5px,#fae4e4 103.8px,#f4f4fa 118.2px,#dfdfef 129.8px,#d6d6eb 137.0px,#e0e0f0 144.2px)"></i><i style="left:73px;width:5px;height:157px;background:linear-gradient(#f6d2d2 0.0px,#f5c3c4 22.2px,#f19d9f 44.4px,#f19c9e 66.5px,#f4bfbf 88.7px,#fcefef 106.4px,#eeeef7 121.2px,#dcdcee 133.1px,#d6d6eb 140.4px,#e0e0f0 147.8px)"></i><i style="left:76px;width:4px;height:157px;background:linear-gradient(#f6d0d0 0.0px,#f5c5c5 22.9px,#f2a8aa 45.9px,#f2abad 68.8px,#f6cfcf 91.7px,#fef9f9 110.1px,#e8e8f4 125.3px,#dadaed 137.6px,#d6d6eb 145.2px,#e0e0f0 152.9px)"></i><i style="left:78px;width:5px;height:157px;background:linear-gradient(#f6cfcf 0.0px,#f5c7c7 23.1px,#f3b3b5 46.2px,#f4bbbc 69.4px,#f9e0e0 92.5px,#fafafd 111.0px,#e3e3f1 126.4px,#d8d8ec 138.7px,#d6d6eb 146.4px,#e0e0f0 154.1px)"></i><i style="left:81px;width:5px;height:157px;background:linear-gradient(#f6cdcd 0.0px,#f5c8c9 22.8px,#f4bfc0 45.5px,#f6cbcb 68.3px,#fcf1f1 91.0px,#f1f1f8 109.2px,#dcdcee 124.4px,#d6d6eb 136.5px,#d6d6eb 144.1px,#e0e0f0 151.7px)"></i><i style="left:84px;width:5px;height:164px;background:linear-gradient(#f6cece 0.0px,#f5c5c6 23.0px,#f4bebf 46.0px,#f6cdcd 69.0px,#fdf4f4 92.0px,#eeeef7 110.4px,#dadaed 125.7px,#d5d5eb 138.0px,#d5d5eb 145.6px,#dedeef 153.3px)"></i><i style="left:87px;width:5px;height:164px;background:linear-gradient(#f6cfcf 0.0px,#f5c2c2 23.8px,#f4bcbd 47.7px,#f6cdcd 71.5px,#fdf7f7 95.4px,#ededf6 114.4px,#d9d9ed 130.3px,#d4d4ea 143.1px,#d4d4ea 151.0px,#ddddee 158.9px)"></i><i style="left:90px;width:5px;height:164px;background:linear-gradient(#f6d1d1 0.0px,#f4bebf 23.2px,#f4babb 46.5px,#f6cdcd 69.7px,#fef9f9 93.0px,#ececf6 111.6px,#d9d9ec 127.0px,#d4d4ea 139.4px,#d4d4ea 147.2px,#dbdbed 154.9px)"></i><i style="left:93px;width:5px;height:164px;background:linear-gradient(#f6d2d2 0.0px,#f4bbbc 21.2px,#f4b8b9 42.4px,#f6cdcd 63.6px,#fefbfb 84.7px,#eaeaf5 101.7px,#d8d8ec 115.8px,#d3d3e9 127.1px,#d3d3e9 134.2px,#d9d9ed 141.2px)"></i><i style="left:96px;width:5px;height:153px;background:linear-gradient(#f7d4d4 0.0px,#f3b7b8 20.8px,#f3b6b7 41.6px,#f6cdcd 62.3px,#fffdfd 83.1px,#e9e9f4 99.7px,#d7d7eb 113.6px,#d2d2e9 124.6px,#d2d2e9 131.6px,#d8d8ec 138.5px)"></i><i style="left:99px;width:6px;height:153px;background:linear-gradient(#f7d5d5 0.0px,#f3b5b6 22.0px,#f3b5b6 44.0px,#f6cece 66.0px,#ffffff 88.0px,#e8e8f4 105.6px,#d6d6eb 120.3px,#d1d1e8 132.1px,#d1d1e9 139.4px,#d6d6eb 146.7px)"></i><i style="left:103px;width:5px;height:214px;background:linear-gradient(#f7d3d3 0.0px,#f4babb 24.9px,#f4bcbd 49.8px,#f7d4d4 74.8px,#fcfcfe 99.7px,#e6e6f3 119.6px,#d5d5ea 136.2px,#d0d0e8 149.5px,#d1d1e8 157.8px,#d6d6eb 166.1px)"></i><i style="left:106px;width:5px;height:214px;background:linear-gradient(#f6d1d1 0.0px,#f4bfc0 29.5px,#f5c3c4 59.0px,#f8dada 88.5px,#fafafc 118.1px,#e4e4f2 141.7px,#d4d4ea 161.3px,#cfcfe7 177.1px,#d1d1e8 186.9px,#d6d6eb 196.8px)"></i><i style="left:109px;width:5px;height:214px;background:linear-gradient(#f6cfcf 0.0px,#f5c4c5 30.7px,#f5caca 61.4px,#f9e0e0 92.0px,#f7f7fb 122.7px,#e3e3f1 147.2px,#d3d3e9 167.7px,#cecee7 184.1px,#d1d1e9 194.3px,#d6d6eb 204.5px)"></i><i style="left:112px;width:5px;height:214px;background:linear-gradient(#f6cece 0.0px,#f5caca 28.4px,#f6d1d1 56.8px,#fae7e7 85.2px,#f5f5fa 113.6px,#e1e1f0 136.4px,#d2d2e9 155.3px,#cdcde6 170.5px,#d1d1e8 179.9px,#d6d6eb 189.4px)"></i><i style="left:115px;width:5px;height:184px;background:linear-gradient(#f6cdcd 0.0px,#f6cdcd 25.6px,#f7d5d5 51.1px,#fbeaea 76.7px,#f4f4fa 102.2px,#e1e1f0 122.7px,#d2d2e9 139.7px,#cdcde7 153.3px,#d2d2e9 161.8px,#d7d7ec 170.4px)"></i><i style="left:118px;width:5px;height:184px;background:linear-gradient(#f6cece 0.0px,#f6cece 22.1px,#f7d6d6 44.2px,#fbe9e9 66.3px,#f6f6fb 88.4px,#e2e2f1 106.1px,#d4d4ea 120.9px,#d0d0e8 132.6px,#d5d5eb 140.0px,#dadaed 147.4px)"></i><i style="left:121px;width:4px;height:169px;background:linear-gradient(#f6d0d0 0.0px,#f6d0d0 21.6px,#f7d7d7 43.1px,#fbe9e9 64.7px,#f8f8fb 86.2px,#e4e4f2 103.5px,#d6d6eb 117.9px,#d3d3ea 129.4px,#d8d8ec 136.6px,#ddddee 143.7px)"></i><i style="left:123px;width:5px;height:169px;background:linear-gradient(#f6d1d1 0.0px,#f6d1d1 23.9px,#f7d7d7 47.8px,#fbe8e8 71.8px,#f9f9fc 95.7px,#e6e6f3 114.8px,#d8d8ec 130.7px,#d6d6eb 143.5px,#dbdbed 151.5px,#e0e0f0 159.5px)"></i><i style="left:126px;width:5px;height:169px;background:linear-gradient(#f6d2d2 0.0px,#f6d2d2 23.6px,#f7d8d8 47.1px,#fae7e7 70.7px,#fbfbfd 94.2px,#e7e7f4 113.1px,#dadaed 128.8px,#d9d9ec 141.3px,#dedeef 149.2px,#e2e2f1 157.0px)"></i><i style="left:129px;width:5px;height:169px;background:linear-gradient(#f7d3d3 0.0px,#f7d3d3 20.5px,#f8d8d8 40.9px,#fae7e7 61.4px,#fcfcfe 81.9px,#e9e9f4 98.2px,#dcdcee 111.9px,#dbdbee 122.8px,#e0e0f0 129.6px,#e4e4f2 136.4px)"></i><i style="left:132px;width:5px;height:138px;background:linear-gradient(#f7d4d4 0.0px,#f7d4d4 19.3px,#f8d9d9 38.6px,#fae6e6 57.9px,#fefefe 77.2px,#ebebf5 92.6px,#dfdfef 105.5px,#dedeef 115.8px,#e2e2f1 122.2px,#e6e6f3 128.7px)"></i><i style="left:135px;width:5px;height:138px;background:linear-gradient(#f7d6d6 0.0px,#f7d6d6 20.1px,#f8dada 40.1px,#fae7e7 60.2px,#ffffff 80.2px,#ececf6 96.3px,#e1e1f1 109.6px,#e2e2f1 120.3px,#e5e5f3 127.0px,#e9e9f4 133.7px)"></i><i style="left:138px;width:5px;height:138px;background:linear-gradient(#f7d7d7 0.0px,#f7d7d7 20.0px,#f8dcdc 40.1px,#fbe8e8 60.1px,#ffffff 80.2px,#eeeef7 96.2px,#e5e5f2 109.6px,#e6e6f3 120.2px,#e9e9f5 126.9px,#ececf6 133.6px)"></i><i style="left:141px;width:5px;height:138px;background:linear-gradient(#f8d8d8 0.0px,#f8d8d8 19.3px,#f9dede 38.5px,#fbeaea 57.8px,#ffffff 77.1px,#f0f0f8 92.5px,#e8e8f4 105.3px,#e9e9f5 115.6px,#ededf6 122.0px,#f0f0f8 128.4px)"></i><i style="left:144px;width:6px;height:147px;background:linear-gradient(#f8d9d9 0.0px,#f8d9d9 19.6px,#f9dfdf 39.2px,#fbecec 58.8px,#ffffff 78.4px,#f1f1f8 94.1px,#ececf6 107.2px,#ededf6 117.6px,#f1f1f8 124.2px,#f3f3f9 130.7px)"></i><i style="left:148px;width:5px;height:147px;background:linear-gradient(#f8dada 0.0px,#f8dada 21.1px,#f9e1e1 42.1px,#fceeee 63.2px,#ffffff 84.3px,#f3f3f9 101.1px,#efeff7 115.2px,#f2f2f9 126.4px,#f5f5fa 133.4px,#f7f7fb 140.5px)"></i><i style="left:151px;width:4px;height:181px;background:linear-gradient(#f8dcdc 0.0px,#f8dcdc 23.1px,#fae3e3 46.1px,#fcf0f0 69.2px,#ffffff 92.3px,#f5f5fa 110.7px,#f2f2f9 126.1px,#f5f5fa 138.4px,#f9f9fc 146.1px,#fafafd 153.8px)"></i><i style="left:153px;width:5px;height:181px;background:linear-gradient(#f8dddd 0.0px,#f8dddd 25.6px,#fae5e5 51.2px,#fcf1f1 76.8px,#ffffff 102.4px,#f6f6fb 122.9px,#f5f5fa 140.0px,#f9f9fc 153.6px,#fdfdfe 162.2px,#fdfdfe 170.7px)"></i><i style="left:156px;width:5px;height:181px;background:linear-gradient(#f9dfdf 0.0px,#f9e0e0 24.7px,#fbe8e8 49.4px,#fdf3f3 74.0px,#fffefe 98.7px,#f9f9fc 118.5px,#f9f9fc 134.9px,#fcfcfe 148.1px,#fffefe 156.3px,#ffffff 164.5px)"></i><i style="left:159px;width:5px;height:181px;background:linear-gradient(#fae4e4 0.0px,#fae7e7 20.3px,#fceded 40.6px,#fdf5f5 60.9px,#fefcfc 81.2px,#fdfdfe 97.4px,#fdfdfe 111.0px,#fffefe 121.8px,#fffcfc 128.6px,#fffefe 135.3px)"></i><i style="left:162px;width:6px;height:123px;background:linear-gradient(#fbe9e9 0.0px,#fceeee 18.0px,#fdf3f3 36.0px,#fdf7f7 54.0px,#fef9f9 71.9px,#fefcfc 86.3px,#fefcfc 98.3px,#fefafa 107.9px,#fefbfb 113.9px,#fffefe 119.9px)"></i><i style="left:166px;width:5px;height:123px;background:linear-gradient(#fceeee 0.0px,#fdf5f5 17.7px,#fef9f9 35.5px,#fef9f9 53.2px,#fdf6f6 71.0px,#fdf6f6 106.4px,#fef9f9 112.3px,#fffdfd 118.3px)"></i><i style="left:169px;width:5px;height:121px;background:linear-gradient(#fdf3f3 0.0px,#fefbfb 17.7px,#fffefe 35.3px,#fefbfb 53.0px,#fdf4f4 70.6px,#fcf2f2 84.7px,#fcf2f2 96.5px,#fdf3f3 105.9px,#fdf7f7 111.8px,#fefcfc 117.7px)"></i><i style="left:172px;width:4px;height:121px;background:linear-gradient(#fef8f8 0.0px,#fdfdfe 17.7px,#fbfbfd 35.5px,#fefcfc 53.2px,#fcf2f2 71.0px,#fceded 85.1px,#fceded 97.0px,#fcf0f0 106.4px,#fdf5f5 112.3px,#fefcfc 118.3px)"></i><i style="left:174px;width:6px;height:126px;background:linear-gradient(#fefcfc 0.0px,#f7f7fb 18.0px,#f6f6fb 36.0px,#fffefe 54.0px,#fcf0f0 72.0px,#fbe8e8 86.4px,#fbe8e8 98.4px,#fbecec 108.0px,#fdf3f3 114.0px,#fefbfb 120.0px)"></i><i style="left:178px;width:5px;height:126px;background:linear-gradient(#fdfdfe 0.0px,#f2f2f9 18.4px,#f3f3f9 36.9px,#fffefe 55.3px,#fceded 73.7px,#fae5e5 88.5px,#fae5e5 100.8px,#fbe9e9 110.6px,#fcf2f2 116.7px,#fefafa 122.9px)"></i><i style="left:181px;width:5px;height:126px;background:linear-gradient(#fafafd 0.0px,#f0f0f8 18.6px,#f3f3f9 37.3px,#fefbfb 55.9px,#fbebeb 74.5px,#f9e2e2 89.5px,#f9e2e2 101.9px,#fbe8e8 111.8px,#fcf1f1 118.0px,#fef9f9 124.2px)"></i><i style="left:184px;width:4px;height:126px;background:linear-gradient(#f7f7fb 0.0px,#eeeef7 18.6px,#f3f3f9 37.2px,#fef9f9 55.8px,#fbe8e8 74.4px,#f9e0e0 89.3px,#f9e0e0 101.7px,#fae7e7 111.6px,#fcefef 117.8px,#fef8f8 124.0px)"></i><i style="left:186px;width:5px;height:127px;background:linear-gradient(#f3f3f9 0.0px,#ececf6 18.6px,#f3f3f9 37.3px,#fdf7f7 55.9px,#fae6e6 74.6px,#f9dddd 89.5px,#f9dddd 101.9px,#fae6e6 111.8px,#fceeee 118.1px,#fdf7f7 124.3px)"></i><i style="left:189px;width:6px;height:127px;background:linear-gradient(#f4f4fa 0.0px,#eaeaf5 18.7px,#efeff7 37.5px,#fefcfc 56.2px,#fbe8e8 75.0px,#f9dddd 89.9px,#f8dcdc 102.4px,#fae4e4 112.4px,#fceded 118.7px,#fdf7f7 124.9px)"></i><i style="left:193px;width:4px;height:127px;background:linear-gradient(#f5f5fa 0.0px,#e8e8f4 18.7px,#ebebf6 37.5px,#fdfdfe 56.2px,#fbebeb 75.0px,#f9dddd 89.9px,#f8dada 102.4px,#fae2e2 112.4px,#fbeded 118.7px,#fdf7f7 124.9px)"></i><i style="left:195px;width:5px;height:127px;background:linear-gradient(#f6f6fa 0.0px,#e7e7f3 18.6px,#e8e8f4 37.3px,#f9f9fc 55.9px,#fceded 74.6px,#f9dddd 89.5px,#f8d8d8 101.9px,#f9e1e1 111.8px,#fbecec 118.1px,#fdf7f7 124.3px)"></i><i style="left:198px;width:5px;height:143px;background:linear-gradient(#f6f6fb 0.0px,#e6e6f3 19.2px,#e4e4f2 38.4px,#f5f5fa 57.7px,#fcf0f0 76.9px,#f9dddd 92.3px,#f7d7d7 105.1px,#f9dfdf 115.3px,#fbebeb 121.8px,#fdf7f7 128.2px)"></i><i style="left:201px;width:5px;height:143px;background:linear-gradient(#f7f7fb 0.0px,#e4e4f2 20.5px,#e0e0f0 41.0px,#f0f0f8 61.5px,#fdf2f2 82.0px,#f9dddd 98.3px,#f7d5d5 112.0px,#f9dddd 122.9px,#fbeaea 129.8px,#fdf7f7 136.6px)"></i><i style="left:204px;width:5px;height:144px;background:linear-gradient(#f6f6fb 0.0px,#e5e5f2 21.2px,#e2e2f1 42.3px,#f3f3f9 63.5px,#fcf1f1 84.7px,#f8dddd 101.6px,#f7d5d5 115.8px,#f9dddd 127.0px,#fbeaea 134.1px,#fdf7f7 141.2px)"></i><i style="left:207px;width:5px;height:144px;background:linear-gradient(#f6f6fb 0.0px,#e5e5f3 21.3px,#e4e4f2 42.6px,#f5f5fa 63.8px,#fcefef 85.1px,#f8dcdc 102.1px,#f7d5d5 116.3px,#f9dddd 127.7px,#fbeaea 134.8px,#fdf7f7 141.9px)"></i><i style="left:210px;width:5px;height:144px;background:linear-gradient(#f5f5fa 0.0px,#e6e6f3 21.3px,#e7e7f3 42.6px,#f8f8fc 63.9px,#fceded 85.3px,#f8dbdb 102.3px,#f7d5d5 116.5px,#f9dddd 127.9px,#fbeaea 135.0px,#fdf7f7 142.1px)"></i><i style="left:213px;width:5px;height:144px;background:linear-gradient(#f4f4fa 0.0px,#e7e7f3 21.3px,#e9e9f4 42.6px,#fcfcfd 63.8px,#fbecec 85.1px,#f8dada 102.1px,#f7d5d5 116.3px,#f9dede 127.7px,#fbeaea 134.7px,#fdf7f7 141.8px)"></i><i style="left:216px;width:5px;height:144px;background:linear-gradient(#f3f3f9 0.0px,#e8e8f4 20.6px,#ececf6 41.1px,#ffffff 61.7px,#fbeaea 82.3px,#f8d9d9 98.7px,#f7d5d5 112.5px,#f9dddd 123.4px,#fbeaea 130.3px,#fdf7f7 137.1px)"></i><i style="left:219px;width:5px;height:144px;background:linear-gradient(#f3f3f9 0.0px,#ebebf5 19.2px,#efeff7 38.4px,#fffdfd 57.6px,#fae7e7 76.8px,#f7d6d6 92.2px,#f7d3d3 105.0px,#f8dbdb 115.2px,#fbe9e9 121.6px,#fdf6f6 128.0px)"></i><i style="left:222px;width:5px;height:139px;background:linear-gradient(#f3f3f9 0.0px,#eeeef7 19.0px,#f1f1f8 38.1px,#fefbfb 57.1px,#fae4e4 76.1px,#f7d3d3 91.4px,#f6d1d1 104.0px,#f8d9d9 114.2px,#fbe8e8 120.5px,#fdf5f5 126.9px)"></i><i style="left:225px;width:5px;height:139px;background:linear-gradient(#f3f3f9 0.0px,#f0f0f8 20.1px,#f4f4fa 40.1px,#fef9f9 60.2px,#f9e1e1 80.3px,#f6d0d0 96.3px,#f6cfcf 109.7px,#f7d7d7 120.4px,#fae7e7 127.1px,#fdf3f3 133.8px)"></i><i style="left:228px;width:5px;height:151px;background:linear-gradient(#f3f3f9 0.0px,#f3f3f9 21.0px,#f7f7fb 42.0px,#fdf7f7 63.1px,#f9dede 84.1px,#f6cdcd 100.9px,#f6cdcd 114.9px,#f7d5d5 126.1px,#fae6e6 133.1px,#fdf2f2 140.2px)"></i><i style="left:231px;width:5px;height:151px;background:linear-gradient(#e6e6f3 0.0px,#eaeaf5 21.9px,#f3f3f9 43.8px,#fef9f9 65.7px,#f9e0e0 87.6px,#f6cdcd 105.2px,#f5cacb 119.8px,#f7d3d3 131.5px,#fae4e4 138.8px,#fcf1f1 146.1px)"></i><i style="left:234px;width:5px;height:151px;background:linear-gradient(#d6d6eb 0.0px,#dfdff0 22.2px,#eeeef7 44.3px,#fefbfb 66.5px,#f9e2e2 88.7px,#f6cdcd 106.4px,#f5c8c8 121.2px,#f6d0d0 133.0px,#f9e1e1 140.4px,#fcf0f0 147.8px)"></i><i style="left:237px;width:5px;height:151px;background:linear-gradient(#c4c4e2 0.0px,#d1d1e9 21.8px,#eaeaf5 43.6px,#fffefe 65.4px,#fae5e5 87.2px,#f6cdcd 104.7px,#f5c5c6 119.2px,#f6cece 130.8px,#f9dede 138.1px,#fcefef 145.3px)"></i><i style="left:240px;width:5px;height:151px;background:linear-gradient(#b6b6db 0.0px,#c5c5e3 21.8px,#e4e4f2 43.6px,#fdfdfe 65.4px,#fae4e4 87.2px,#f5c9c9 104.7px,#f4bfc0 119.2px,#f5c7c7 130.8px,#f8dada 138.1px,#fceded 145.3px)"></i><i style="left:243px;width:5px;height:151px;background:linear-gradient(#ababd4 0.0px,#babadd 22.2px,#dedeef 44.3px,#fafafd 66.5px,#f9e1e1 88.7px,#f5c3c3 106.4px,#f3b5b7 121.2px,#f4bebf 133.0px,#f7d3d3 140.4px,#fbecec 147.8px)"></i><i style="left:246px;width:5px;height:151px;background:linear-gradient(#a0a0cd 0.0px,#b0b0d7 21.5px,#d6d6eb 42.9px,#f7f7fb 64.4px,#f9dede 85.9px,#f4bcbd 103.0px,#f2acae 117.3px,#f3b4b6 128.8px,#f6cdcd 135.9px,#fbeaea 143.1px)"></i><i style="left:249px;width:5px;height:151px;background:linear-gradient(#afafd7 0.0px,#bebedf 19.7px,#e0e0f0 39.4px,#fcfcfe 59.0px,#f8dbdb 78.7px,#f4b9ba 94.5px,#f2abad 107.6px,#f3b4b5 118.1px,#f6cdcd 124.6px,#fbeaea 131.2px)"></i><i style="left:252px;width:5px;height:132px;background:linear-gradient(#c2c2e1 0.0px,#cfcfe8 19.0px,#e8e8f4 37.9px,#fefcfc 56.9px,#f8d8d8 75.9px,#f3b6b8 91.1px,#f2abad 103.7px,#f3b4b5 113.8px,#f6cdcd 120.2px,#fbeaea 126.5px)"></i><i style="left:255px;width:5px;height:132px;background:linear-gradient(#d5d5eb 0.0px,#dfdff0 19.3px,#efeff7 38.7px,#fdf7f7 58.0px,#f7d5d5 77.4px,#f3b4b5 92.8px,#f2abad 105.7px,#f3b4b5 116.0px,#f6cdcd 122.5px,#fbeaea 128.9px)"></i><i style="left:258px;width:5px;height:132px;background:linear-gradient(#e7e7f3 0.0px,#ebebf5 19.4px,#f7f7fb 38.9px,#fdf3f3 58.3px,#f7d3d3 77.7px,#f4b8b9 93.3px,#f3afb1 106.2px,#f4babb 116.6px,#f6d1d1 123.1px,#fbeaea 129.5px)"></i><i style="left:261px;width:5px;height:132px;background:linear-gradient(#f6f6fb 0.0px,#f6f6fb 19.2px,#fefeff 38.5px,#fcefef 57.7px,#f6d1d1 77.0px,#f4bcbd 92.4px,#f3b3b5 105.2px,#f4c0c1 115.5px,#f7d5d5 121.9px,#fbeaea 128.3px)"></i><i style="left:264px;width:5px;height:138px;background:linear-gradient(#e0e0f0 0.0px,#e6e6f3 19.5px,#f4f4fa 38.9px,#fdf2f2 58.4px,#f7d3d3 77.9px,#f4bebf 93.5px,#f4b7b9 106.4px,#f5c2c3 116.8px,#f7d5d5 123.3px,#fbeaea 129.8px)"></i><i style="left:267px;width:5px;height:138px;background:linear-gradient(#c0c0e0 0.0px,#cecee7 20.1px,#e9e9f4 40.2px,#fdf6f6 60.3px,#f7d5d5 80.4px,#f4c0c1 96.5px,#f4bcbd 109.9px,#f5c4c5 120.7px,#f7d5d5 127.4px,#fbeaea 134.1px)"></i><i style="left:270px;width:5px;height:148px;background:linear-gradient(#cccce6 0.0px,#dadaed 20.8px,#efeff7 41.6px,#fdf4f4 62.4px,#f7d5d5 83.2px,#f5c3c3 99.8px,#f4bfbf 113.7px,#f5c7c7 124.8px,#f7d8d8 131.7px,#fbebeb 138.6px)"></i><i style="left:273px;width:5px;height:148px;background:linear-gradient(#ddddee 0.0px,#e7e7f3 21.5px,#f7f7fb 43.0px,#fcf1f1 64.6px,#f7d5d5 86.1px,#f5c5c6 103.3px,#f5c1c2 117.7px,#f5caca 129.1px,#f8dada 136.3px,#fbeded 143.5px)"></i><i style="left:276px;width:5px;height:148px;background:linear-gradient(#eaeaf5 0.0px,#f2f2f9 21.3px,#fefeff 42.6px,#fceeee 63.9px,#f7d5d5 85.1px,#f5c8c9 102.2px,#f5c4c5 116.4px,#f6cccd 127.7px,#f9dddd 134.8px,#fceeee 141.9px)"></i><i style="left:279px;width:5px;height:148px;background:linear-gradient(#e7e7f4 0.0px,#ededf7 20.1px,#f8f8fc 40.2px,#fdf3f3 60.2px,#f8d9d9 80.3px,#f6cbcb 96.4px,#f5c6c7 109.8px,#f6cecf 120.5px,#f9dede 127.2px,#fcefef 133.9px)"></i><i style="left:282px;width:5px;height:145px;background:linear-gradient(#e3e3f1 0.0px,#e7e7f3 20.0px,#f1f1f8 39.9px,#fef8f8 59.9px,#f8dddd 79.8px,#f6cece 95.8px,#f5c8c9 109.1px,#f6d1d1 119.7px,#f9dfdf 126.4px,#fcf0f0 133.1px)"></i><i style="left:285px;width:5px;height:145px;background:linear-gradient(#ddddef 0.0px,#e0e0f0 20.9px,#e9e9f4 41.8px,#fffdfd 62.7px,#f9e1e1 83.7px,#f6d1d1 100.4px,#f5cacb 114.3px,#f7d3d3 125.5px,#f9e1e1 132.5px,#fcf1f1 139.4px)"></i><i style="left:288px;width:5px;height:145px;background:linear-gradient(#d7d7eb 0.0px,#d7d7eb 21.0px,#e1e1f0 42.0px,#fcfcfd 63.0px,#fae5e5 84.1px,#f7d5d5 100.9px,#f6cccd 114.9px,#f7d5d5 126.1px,#f9e2e2 133.1px,#fdf2f2 140.1px)"></i><i style="left:291px;width:5px;height:145px;background:linear-gradient(#d8d8ec 0.0px,#d8d8ec 20.3px,#e2e2f1 40.5px,#fcfcfd 60.8px,#fae7e7 81.1px,#f7d7d7 97.3px,#f6cece 110.8px,#f7d7d7 121.6px,#fae3e3 128.3px,#fdf3f3 135.1px)"></i><i style="left:294px;width:5px;height:135px;background:linear-gradient(#dadaed 0.0px,#dadaed 19.6px,#e5e5f2 39.3px,#fdfdfe 58.9px,#fbe8e8 78.5px,#f8d8d8 94.2px,#f6d0d0 107.3px,#f8d8d8 117.8px,#fae5e5 124.4px,#fdf4f4 130.9px)"></i><i style="left:297px;width:5px;height:135px;background:linear-gradient(#dcdcee 0.0px,#dcdcee 19.1px,#e7e7f3 38.3px,#fdfdfe 57.4px,#fbe8e8 76.5px,#f8dada 91.8px,#f6d2d2 104.6px,#f8dada 114.8px,#fae7e7 121.2px,#fdf5f5 127.5px)"></i><i style="left:300px;width:5px;height:142px;background:linear-gradient(#dedeef 0.0px,#dedeef 19.4px,#e9e9f4 38.8px,#fefeff 58.2px,#fbe9e9 77.6px,#f8dcdc 93.1px,#f7d3d3 106.1px,#f8dcdc 116.4px,#fbe8e8 122.9px,#fdf6f6 129.4px)"></i><i style="left:303px;width:5px;height:142px;background:linear-gradient(#e0e0f0 0.0px,#e0e0f0 20.5px,#ebebf6 40.9px,#ffffff 61.4px,#fbeaea 81.8px,#f9dddd 98.2px,#f7d5d5 111.8px,#f9dddd 122.8px,#fbeaea 129.6px,#fdf7f7 136.4px)"></i><i style="left:306px;width:5px;height:145px;background:linear-gradient(#e3e3f1 0.0px,#e3e3f1 21.1px,#ededf6 42.2px,#fffefe 63.3px,#fbebeb 84.3px,#f9dfdf 101.2px,#f7d7d7 115.3px,#f9dfdf 126.5px,#fbebeb 133.6px,#fdf7f7 140.6px)"></i><i style="left:309px;width:5px;height:145px;background:linear-gradient(#e6e6f3 0.0px,#e6e6f3 21.3px,#efeff7 42.6px,#fffefe 63.9px,#fbebeb 85.2px,#f9e0e0 102.2px,#f8d9d9 116.4px,#f9e0e0 127.7px,#fbebeb 134.8px,#fdf7f7 141.9px)"></i><i style="left:312px;width:5px;height:145px;background:linear-gradient(#eaeaf5 0.0px,#eaeaf5 20.9px,#f1f1f8 41.7px,#fffdfd 62.6px,#fbecec 83.4px,#f9e2e2 100.1px,#f8dbdb 114.0px,#f9e2e2 125.1px,#fbecec 132.1px,#fdf7f7 139.1px)"></i><i style="left:315px;width:5px;height:145px;background:linear-gradient(#ededf6 0.0px,#ededf6 19.8px,#f3f3f9 39.6px,#fefcfc 59.4px,#fceded 79.2px,#fae3e3 95.0px,#f9dddd 108.2px,#fae3e3 118.7px,#fceded 125.3px,#fdf7f7 131.9px)"></i><i style="left:318px;width:5px;height:130px;background:linear-gradient(#f0f0f8 0.0px,#f0f0f8 19.0px,#f5f5fa 37.9px,#fefbfb 56.9px,#fceeee 75.8px,#fae4e4 91.0px,#f9e0e0 103.6px,#fae4e4 113.7px,#fceded 120.0px,#fdf7f7 126.4px)"></i><i style="left:321px;width:5px;height:130px;background:linear-gradient(#f3f3f9 0.0px,#f3f3f9 18.4px,#f7f7fb 36.7px,#fefbfb 55.1px,#fceeee 73.4px,#fae6e6 88.1px,#f9e2e2 100.3px,#fae6e6 110.1px,#fceeee 116.2px,#fdf7f7 122.3px)"></i><i style="left:324px;width:5px;height:123px;background:linear-gradient(#f4f4fa 0.0px,#f4f4fa 18.1px,#f8f8fc 36.1px,#fefbfb 54.2px,#fcefef 72.3px,#fae7e7 86.7px,#fae3e3 98.8px,#fae7e7 108.4px,#fcefef 114.4px,#fdf7f7 120.4px)"></i><i style="left:327px;width:5px;height:123px;background:linear-gradient(#f4f4fa 0.0px,#f4f4fa 18.1px,#f8f8fc 36.2px,#fefbfb 54.3px,#fcefef 72.4px,#fbe8e8 86.9px,#fae4e4 98.9px,#fbe8e8 108.6px,#fcefef 114.6px,#fef8f8 120.6px)"></i><i style="left:330px;width:5px;height:132px;background:linear-gradient(#f5f5fa 0.0px,#f5f5fa 18.5px,#f9f9fc 36.9px,#fefbfb 55.4px,#fcf0f0 73.9px,#fbe9e9 88.7px,#fae5e5 101.0px,#fbe9e9 110.8px,#fcf0f0 117.0px,#fef8f8 123.1px)"></i><i style="left:333px;width:5px;height:132px;background:linear-gradient(#f6f6fa 0.0px,#f6f6fa 19.2px,#f9f9fc 38.4px,#fefbfb 57.6px,#fcf1f1 76.8px,#fbebeb 92.1px,#fae6e6 104.9px,#fbebeb 115.2px,#fcf1f1 121.6px,#fef9f9 128.0px)"></i><i style="left:336px;width:5px;height:132px;background:linear-gradient(#f6f6fb 0.0px,#f6f6fb 19.5px,#fafafd 39.0px,#fefbfb 58.4px,#fcf1f1 77.9px,#fbecec 93.5px,#fbe8e8 106.5px,#fbecec 116.9px,#fcf1f1 123.4px,#fefafa 129.9px)"></i><i style="left:339px;width:5px;height:132px;background:linear-gradient(#f7f7fb 0.0px,#f7f7fb 19.3px,#fbfbfd 38.7px,#fefbfb 58.0px,#fcf2f2 77.3px,#fceded 92.8px,#fbe9e9 105.7px,#fceded 116.0px,#fcf2f2 122.4px,#fefafa 128.9px)"></i><i style="left:342px;width:5px;height:130px;background:linear-gradient(#f7f7fb 0.0px,#f7f7fb 19.1px,#fbfbfd 38.1px,#fefbfb 57.2px,#fdf2f2 76.2px,#fceeee 91.4px,#fbeaea 104.1px,#fceeee 114.3px,#fdf2f2 120.7px,#fefbfb 127.0px)"></i><i style="left:345px;width:5px;height:130px;background:linear-gradient(#f8f8fc 0.0px,#f8f8fc 18.6px,#fcfcfd 37.3px,#fefbfb 55.9px,#fdf4f4 74.6px,#fcf0f0 89.5px,#fbecec 101.9px,#fcf0f0 111.9px,#fdf4f4 118.1px,#fefbfb 124.3px)"></i><i style="left:348px;width:5px;height:132px;background:linear-gradient(#f9f9fc 0.0px,#f9f9fc 18.7px,#fcfcfe 37.4px,#fefbfb 56.2px,#fdf5f5 74.9px,#fcf2f2 89.9px,#fcefef 102.3px,#fcf2f2 112.3px,#fdf6f6 118.6px,#fefcfc 124.8px)"></i><i style="left:351px;width:5px;height:132px;background:linear-gradient(#fafafd 0.0px,#fafafd 19.3px,#fdfdfe 38.6px,#fefbfb 57.8px,#fdf6f6 77.1px,#fdf3f3 92.5px,#fcf1f1 105.4px,#fdf3f3 115.7px,#fef8f8 122.1px,#fffdfd 128.5px)"></i><i style="left:354px;width:5px;height:132px;background:linear-gradient(#fcfcfd 0.0px,#fcfcfd 19.2px,#fdfdfe 38.5px,#fefbfb 57.7px,#fdf7f7 77.0px,#fdf5f5 92.4px,#fdf3f3 105.2px,#fdf5f5 115.5px,#fef9f9 121.9px,#fffdfd 128.3px)"></i><i style="left:357px;width:5px;height:132px;background:linear-gradient(#fdfdfe 0.0px,#fdfdfe 18.6px,#fefefe 37.3px,#fefbfb 55.9px,#fef8f8 74.5px,#fdf7f7 89.4px,#fdf6f6 101.8px,#fdf7f7 111.8px,#fefbfb 118.0px,#fffefe 124.2px)"></i><i style="left:360px;width:5px;height:145px;background:linear-gradient(#fefefe 0.0px,#fefefe 19.1px,#fefeff 38.2px,#fefbfb 57.3px,#fefafa 76.4px,#fef9f9 91.6px,#fef8f8 104.4px,#fef9f9 114.5px,#fffdfd 120.9px,#fffefe 127.3px)"></i><i style="left:363px;width:5px;height:145px;background:linear-gradient(#ffffff 0.0px,#ffffff 41.2px,#fefbfb 61.9px,#fefbfb 123.7px,#ffffff 130.6px,#ffffff 137.5px)"></i><i style="left:366px;width:5px;height:145px;background:linear-gradient(#fffefe 0.0px,#fffefe 42.3px,#fefafa 63.5px,#fefafa 126.9px,#ffffff 134.0px,#ffffff 141.0px)"></i><i style="left:369px;width:5px;height:145px;background:linear-gradient(#fefcfc 0.0px,#fefcfc 41.3px,#fef9f9 62.0px,#fef9f9 99.2px,#fefafa 113.0px,#fefafa 124.0px,#fffefe 130.9px,#fffefe 137.8px)"></i><i style="left:372px;width:5px;height:142px;background:linear-gradient(#fefbfb 0.0px,#fefbfb 41.1px,#fef8f8 61.7px,#fef8f8 98.7px,#fef9f9 112.4px,#fef9f9 123.4px,#fffefe 130.3px,#fffefe 137.1px)"></i><i style="left:375px;width:5px;height:142px;background:linear-gradient(#fef9f9 0.0px,#fef9f9 41.7px,#fdf7f7 62.5px,#fdf7f7 100.1px,#fef9f9 114.0px,#fef9f9 125.1px,#fffdfd 132.0px,#fffdfd 139.0px)"></i><i style="left:378px;width:5px;height:142px;background:linear-gradient(#fef8f8 0.0px,#fef8f8 40.8px,#fdf6f6 61.3px,#fdf6f6 98.0px,#fef8f8 111.6px,#fef8f8 122.5px,#fffdfd 129.3px,#fffdfd 136.1px)"></i><i style="left:381px;width:5px;height:142px;background:linear-gradient(#fdf7f7 0.0px,#fdf7f7 38.6px,#fdf5f5 57.8px,#fdf5f5 92.5px,#fef8f8 105.4px,#fef8f8 115.7px,#fefcfc 122.1px,#fefcfc 128.5px)"></i><i style="left:384px;width:4px;height:127px;background:linear-gradient(#fdf5f5 0.0px,#fdf5f5 37.4px,#fdf4f4 56.1px,#fdf4f4 89.7px,#fef8f8 102.2px,#fef8f8 112.2px,#fefcfc 118.4px,#fefcfc 124.6px)"></i><i style="left:386px;width:5px;height:127px;background:linear-gradient(#fdf4f4 0.0px,#fdf4f4 89.5px,#fdf7f7 102.0px,#fdf7f7 111.9px,#fefbfb 118.2px,#fefbfb 124.4px)"></i><i style="left:389px;width:5px;height:130px;background:linear-gradient(#fdf3f3 0.0px,#fdf3f3 90.1px,#fdf7f7 102.6px,#fdf7f7 112.6px,#fefbfb 118.8px,#fefbfb 125.1px)"></i><i style="left:392px;width:5px;height:130px;background:linear-gradient(#fcf0f0 0.0px,#fcf0f0 19.0px,#fcf1f1 38.0px,#fcf1f1 91.3px,#fdf6f6 104.0px,#fdf6f6 114.1px,#fefafa 120.5px,#fefafa 126.8px)"></i><i style="left:395px;width:5px;height:134px;background:linear-gradient(#fceeee 0.0px,#fceeee 19.3px,#fcefef 38.7px,#fcefef 58.0px,#fcf0f0 77.3px,#fcf0f0 92.8px,#fdf4f4 105.6px,#fdf4f4 116.0px,#fef9f9 122.4px,#fef9f9 128.8px)"></i><i style="left:398px;width:6px;height:134px;background:linear-gradient(#fbebeb 0.0px,#fbebeb 19.7px,#fceded 39.4px,#fceded 59.0px,#fcefef 78.7px,#fcefef 94.5px,#fdf3f3 107.6px,#fdf3f3 118.1px,#fef7f7 124.6px,#fef7f7 131.2px)"></i><i style="left:402px;width:5px;height:134px;background:linear-gradient(#fbe9e9 0.0px,#fbe9e9 19.5px,#fbebeb 39.0px,#fbebeb 58.5px,#fceeee 78.0px,#fceeee 93.6px,#fcf2f2 106.6px,#fcf2f2 117.0px,#fdf6f6 123.5px,#fdf6f6 130.0px)"></i><i style="left:405px;width:5px;height:134px;background:linear-gradient(#fae6e6 0.0px,#fae6e6 18.8px,#fbe9e9 37.5px,#fbe9e9 56.3px,#fbecec 75.1px,#fbecec 90.1px,#fcf0f0 102.6px,#fcf0f0 112.6px,#fdf5f5 118.9px,#fdf5f5 125.2px)"></i><i style="left:408px;width:5px;height:125px;background:linear-gradient(#fae4e4 0.0px,#fae4e4 17.2px,#fae7e7 34.4px,#fae7e7 51.6px,#fbebeb 68.9px,#fbebeb 82.6px,#fcefef 94.1px,#fcefef 103.3px,#fdf3f3 109.0px,#fdf3f3 114.8px)"></i><i style="left:411px;width:5px;height:125px;background:linear-gradient(#f9e1e1 0.0px,#f9e1e1 14.8px,#fae6e6 29.6px,#fae6e6 44.5px,#fbeaea 59.3px,#fbeaea 71.1px,#fceeee 81.0px,#fceeee 88.9px,#fdf2f2 93.9px,#fdf2f2 98.8px)"></i><i style="left:414px;width:5px;height:93px;background:linear-gradient(#f9e0e0 0.0px,#f9e0e0 12.9px,#fae4e4 25.9px,#fae4e4 38.8px,#fbe8e8 51.8px,#fbe8e8 62.1px,#fbecec 70.8px,#fbecec 77.7px,#fcf0f0 82.0px,#fcf1f1 86.3px)"></i><i style="left:417px;width:5px;height:93px;background:linear-gradient(#f9dede 0.0px,#f9dede 11.6px,#f9e2e2 23.2px,#f9e2e2 34.7px,#fae6e6 46.3px,#fae6e6 55.6px,#fbeaea 63.3px,#fbeaea 69.5px,#fceeee 73.3px,#fcf0f0 77.2px)"></i><i style="left:420px;width:5px;height:75px;background:linear-gradient(#f8dcdc 0.0px,#f8dcdc 10.0px,#f9e0e0 20.0px,#f9e0e0 30.1px,#fae4e4 40.1px,#fae4e4 48.1px,#fbe9e9 54.8px,#fbe9e9 60.1px,#fceded 63.5px,#fcefef 66.8px)"></i><i style="left:423px;width:4px;height:75px;background:linear-gradient(#f8dbdb 0.0px,#f8dbdb 8.3px,#f9dfdf 16.5px,#f9dfdf 24.8px,#fae3e3 33.1px,#fae3e3 39.7px,#fae7e7 45.2px,#fae7e7 49.6px,#fbebeb 52.4px,#fceeee 55.1px)"></i><i style="left:425px;width:5px;height:51px;background:linear-gradient(#f8d9d9 0.0px,#f8d9d9 7.2px,#f8dddd 14.5px,#f8dddd 21.7px,#f9e1e1 28.9px,#f9e1e1 34.7px,#fae5e5 39.5px,#fae5e5 43.4px,#fbeaea 45.8px,#fbeded 48.2px)"></i><i style="left:428px;width:6px;height:51px;background:linear-gradient(#f7d7d7 0.0px,#f7d7d7 6.9px,#f8dbdb 13.8px,#f8dbdb 20.7px,#f9dfdf 27.6px,#f9dfdf 33.1px,#fae3e3 37.8px,#fae3e3 41.4px,#fae7e7 43.7px,#fbebeb 46.0px)"></i><i style="left:432px;width:5px;height:47px;background:linear-gradient(#f7d5d5 0.0px,#f7d5d5 6.6px,#f8d9d9 13.1px,#f8d9d9 19.7px,#f9dddd 26.3px,#f9dddd 31.5px,#f9e1e1 35.9px,#f9e1e1 39.4px,#fae5e5 41.6px,#fbeaea 43.8px)"></i><i style="left:435px;width:5px;height:47px;background:linear-gradient(#f6d2d2 0.0px,#f6d2d2 6.2px,#f7d6d6 12.4px,#f7d6d6 18.6px,#f8dada 24.9px,#f8dada 29.8px,#f9dede 34.0px,#f9dede 37.3px,#fae2e2 39.4px,#fae6e6 41.4px)"></i><i style="left:438px;width:5px;height:45px;background:linear-gradient(#f6cecf 0.0px,#f6cecf 6.1px,#f7d3d3 12.3px,#f7d3d3 18.4px,#f7d7d7 24.6px,#f7d7d7 29.5px,#f8dbdb 33.6px,#f8dbdb 36.9px,#f9dfdf 38.9px,#fae3e3 41.0px)"></i><i style="left:441px;width:5px;height:45px;background:linear-gradient(#f6cbcc 0.0px,#f6cbcc 6.4px,#f6d0d0 12.8px,#f6d0d0 19.1px,#f7d4d4 25.5px,#f7d4d4 30.6px,#f8d8d8 34.9px,#f8d8d8 38.3px,#f8dcdc 40.4px,#f9e0e0 42.5px)"></i><i style="left:444px;width:5px;height:45px;background:linear-gradient(#f5c9c9 0.0px,#f5c9c9 6.3px,#f6cdcd 12.5px,#f6cdcd 18.8px,#f6d1d1 25.1px,#f6d1d1 30.1px,#f7d5d5 34.3px,#f7d5d5 37.6px,#f8d9d9 39.7px,#f9dede 41.8px)"></i><i style="left:447px;width:4px;height:45px;background:linear-gradient(#f5c6c7 0.0px,#f5c6c7 5.8px,#f5caca 11.7px,#f5caca 17.5px,#f6cece 23.4px,#f6cece 28.1px,#f6d3d3 32.0px,#f6d3d3 35.1px,#f7d7d7 37.0px,#f8dbdb 39.0px)"></i><i style="left:449px;width:5px;height:62px;background:linear-gradient(#f5c3c4 0.0px,#f5c3c4 6.5px,#f5c7c8 12.9px,#f5c7c8 19.4px,#f6cccc 25.9px,#f6cccc 31.1px,#f6d0d0 35.4px,#f6d0d0 38.8px,#f7d4d4 41.0px,#f8d8d8 43.1px)"></i><i style="left:452px;width:5px;height:62px;background:linear-gradient(#f4c0c1 0.0px,#f4c0c1 8.1px,#f5c5c5 16.3px,#f5c5c5 24.4px,#f5c9c9 32.6px,#f5c9c9 39.1px,#f6cdcd 44.5px,#f6cdcd 48.9px,#f6d1d1 51.6px,#f7d5d5 54.3px)"></i><i style="left:455px;width:5px;height:64px;background:linear-gradient(#f4b9bb 0.0px,#f4b9bb 9.1px,#f4bebf 18.2px,#f4bfbf 27.2px,#f5c2c2 36.3px,#f5c3c3 43.6px,#f5c7c7 49.6px,#f5c7c7 54.5px,#f6cbcb 57.5px,#f6cfcf 60.5px)"></i><i style="left:458px;width:6px;height:64px;background:linear-gradient(#f3b2b3 0.0px,#f3b2b3 9.3px,#f3b6b7 18.5px,#f4b8b9 27.8px,#f4babb 37.1px,#f4bcbd 44.5px,#f4c0c1 50.7px,#f4c0c1 55.6px,#f5c4c5 58.7px,#f5c9c9 61.8px)"></i><i style="left:462px;width:5px;height:64px;background:linear-gradient(#f2aaac 0.0px,#f2aaac 9.1px,#f3aeb0 18.2px,#f3b1b3 27.3px,#f3b2b4 36.4px,#f3b5b7 43.7px,#f4babb 49.8px,#f4babb 54.6px,#f4bebf 57.7px,#f5c2c3 60.7px)"></i><i style="left:465px;width:5px;height:64px;background:linear-gradient(#f1a1a4 0.0px,#f1a2a4 8.6px,#f2a6a8 17.2px,#f2aaac 25.8px,#f2aaac 34.4px,#f3afb0 41.3px,#f3b3b4 47.0px,#f3b3b5 51.6px,#f4b7b9 54.4px,#f4bcbd 57.3px)"></i><i style="left:468px;width:5px;height:58px;background:linear-gradient(#f09497 0.0px,#f09699 7.7px,#f19d9f 15.5px,#f1a2a4 23.2px,#f2a4a7 31.0px,#f2a8aa 37.2px,#f2adae 42.3px,#f3afb1 46.5px,#f3b4b6 49.0px,#f4babb 51.6px)"></i><i style="left:471px;width:4px;height:58px;background:linear-gradient(#ef888b 0.0px,#f08c8f 6.5px,#f09497 13.1px,#f19a9d 19.6px,#f19fa1 26.2px,#f2a3a5 31.4px,#f2a7a9 35.8px,#f2abad 39.3px,#f3b2b3 41.5px,#f4b8b9 43.6px)"></i><i style="left:473px;width:5px;height:42px;background:linear-gradient(#ee7b7f 0.0px,#ef8185 5.7px,#f08c8f 11.3px,#f09396 17.0px,#f1999c 22.7px,#f19d9f 27.2px,#f1a1a3 31.0px,#f2a7a9 34.0px,#f3afb0 35.9px,#f3b6b7 37.8px)"></i><i style="left:476px;width:5px;height:42px;background:linear-gradient(#ed696e 0.0px,#ee7579 5.1px,#ef8386 10.2px,#ef8b8e 15.3px,#f09396 20.4px,#f1979a 24.5px,#f19b9e 27.9px,#f2a3a6 30.7px,#f2acad 32.4px,#f3b4b5 34.1px)"></i><i style="left:479px;width:5px;height:45px;background:linear-gradient(#ec464c 0.0px,#ec5056 5.2px,#ed6065 10.5px,#ee7276 15.7px,#ef8084 20.9px,#ef8a8d 25.1px,#f09396 28.6px,#f19b9e 31.4px,#f2a5a7 33.1px,#f3aeb0 34.9px)"></i><i style="left:482px;width:6px;height:45px;background:linear-gradient(#ea2f35 0.0px,#eb373d 6.0px,#eb3f45 12.1px,#ec4d53 18.1px,#ed656a 24.1px,#ee7b7f 28.9px,#ef8a8e 33.0px,#f09396 36.2px,#f19ea0 38.2px,#f2a8aa 40.2px)"></i><i style="left:486px;width:5px;height:45px;background:linear-gradient(#e5222a 0.0px,#e7282f 6.0px,#e82c32 12.0px,#eb393f 18.0px,#ec494f 24.1px,#ed676b 28.9px,#ef8185 32.9px,#ef8a8d 36.1px,#f09699 38.1px,#f2a3a5 40.1px)"></i><i style="left:489px;width:5px;height:45px;background:linear-gradient(#dc1e26 0.0px,#e42129 5.2px,#e6252c 10.4px,#e92f35 15.6px,#eb3e44 20.7px,#ec5157 24.9px,#ee7074 28.4px,#ee7f83 31.1px,#f08f92 32.8px,#f19ea1 34.6px)"></i><i style="left:492px;width:5px;height:34px;background:linear-gradient(#ca1e26 0.0px,#da1e26 4.6px,#e31f27 9.3px,#e7282f 13.9px,#ea3339 18.6px,#eb4349 22.3px,#ed5b60 25.4px,#ee7479 27.9px,#ef888b 29.4px,#f19a9d 31.0px)"></i><i style="left:495px;width:5px;height:34px;background:linear-gradient(#b51d24 0.0px,#c61e26 4.4px,#d11e26 8.8px,#e42129 13.2px,#e82b31 17.6px,#eb373d 21.1px,#ec474d 24.0px,#ed6267 26.3px,#ee7f82 27.8px,#f09396 29.3px)"></i><i style="left:498px;width:5px;height:47px;background:linear-gradient(#8f191d 0.0px,#991b1f 4.9px,#a81c22 9.7px,#c41e26 14.6px,#e01e26 19.5px,#e6262d 23.4px,#ea3036 26.6px,#eb4046 29.2px,#ec545a 30.8px,#ee7276 32.4px)"></i><i style="left:501px;width:5px;height:47px;background:linear-gradient(#7e1418 0.0px,#83161a 6.1px,#8b181c 12.2px,#a11b21 18.2px,#bd1e26 24.3px,#d91e26 29.2px,#e5242b 33.2px,#e92d34 36.5px,#eb3c42 38.5px,#ec4d53 40.5px)"></i><i style="left:504px;width:5px;height:47px;background:linear-gradient(#901a1e 0.0px,#9a1b1f 6.7px,#ab1c22 13.4px,#c81e26 20.1px,#e31e26 26.9px,#e7272e 32.2px,#ea3137 36.7px,#eb4248 40.3px,#ed585e 42.5px,#ee777b 44.8px)"></i><i style="left:507px;width:5px;height:47px;background:linear-gradient(#eb4147 0.0px,#eb4349 6.8px,#ec4c52 13.5px,#ed6166 20.3px,#ee777b 27.1px,#ef8488 32.5px,#f09093 37.0px,#f19fa2 40.6px,#f3aeb0 42.9px,#f4bbbc 45.2px)"></i><i style="left:510px;width:5px;height:47px;background:linear-gradient(#e42028 0.0px,#e5232a 6.7px,#e7282f 13.4px,#ea3036 20.1px,#eb3e44 26.8px,#ec4b51 32.1px,#ed6368 36.6px,#ee7c80 40.2px,#f08e91 42.4px,#f19ea0 44.6px)"></i><i style="left:513px;width:4px;height:47px;background:linear-gradient(#8d191d 0.0px,#941a1e 6.5px,#a51c21 13.0px,#be1e26 19.4px,#d31e26 25.9px,#e5222a 31.1px,#e82b32 35.4px,#eb383e 38.9px,#ec484e 41.0px,#ed656a 43.2px)"></i><i style="left:515px;width:6px;height:64px;background:linear-gradient(#801519 0.0px,#86171b 7.1px,#8e191d 14.2px,#9b1b20 21.4px,#a71c22 28.5px,#c31e26 34.2px,#de1e26 38.9px,#e6262d 42.7px,#ea2f35 45.1px,#eb3f45 47.4px)"></i><i style="left:519px;width:6px;height:64px;background:linear-gradient(#cd1e26 0.0px,#d81e26 8.6px,#e42027 17.2px,#e6252c 25.8px,#e72930 34.5px,#ea343a 41.4px,#ec454b 47.1px,#ed5e63 51.7px,#ee7c7f 54.6px,#f09093 57.4px)"></i></div>
<div style="position:absolute;overflow:hidden;filter:blur(0.7px);left:801.0px;top:373.8px;width:523.2px;height:221.8px"><i style="left:0px;width:5px;height:181px;background:linear-gradient(#cccce6 0.0px,#d6d6eb 26.9px,#ececf6 53.7px,#ffffff 80.6px,#fdf2f2 107.4px,#fbeaea 128.9px,#fae6e6 146.8px,#fbeaea 161.2px,#fceeee 170.1px,#fdf2f2 179.1px)"></i><i style="left:3px;width:6px;height:181px;background:linear-gradient(#cccce6 0.0px,#d6d6eb 26.8px,#ececf6 53.6px,#ffffff 80.4px,#fdf2f2 107.2px,#fbeaea 128.6px,#fae6e6 146.5px,#fbeaea 160.8px,#fceeee 169.7px,#fdf2f2 178.6px)"></i><i style="left:7px;width:5px;height:183px;background:linear-gradient(#c9c9e5 0.0px,#d5d5ea 26.9px,#ebebf5 53.7px,#ffffff 80.6px,#fcf2f2 107.4px,#fbe9e9 128.9px,#fae6e6 146.8px,#fbeaea 161.2px,#fceeee 170.1px,#fdf2f2 179.1px)"></i><i style="left:10px;width:5px;height:183px;background:linear-gradient(#c6c6e3 0.0px,#d3d3ea 27.1px,#ebebf5 54.1px,#ffffff 81.2px,#fcf1f1 108.3px,#fbe9e9 129.9px,#fae6e6 148.0px,#fbeaea 162.4px,#fceeee 171.4px,#fdf2f2 180.4px)"></i><i style="left:13px;width:5px;height:183px;background:linear-gradient(#c3c3e2 0.0px,#d2d2e9 27.1px,#eaeaf5 54.2px,#ffffff 81.4px,#fcf1f1 108.5px,#fbe8e8 130.2px,#fae6e6 148.3px,#fbeaea 162.7px,#fceeee 171.8px,#fdf2f2 180.8px)"></i><i style="left:16px;width:5px;height:183px;background:linear-gradient(#c1c1e0 0.0px,#d0d0e8 27.0px,#e9e9f5 54.1px,#ffffff 81.1px,#fcf0f0 108.1px,#fbe8e8 129.8px,#fae6e6 147.8px,#fbeaea 162.2px,#fceeee 171.2px,#fdf2f2 180.2px)"></i><i style="left:19px;width:5px;height:193px;background:linear-gradient(#bebedf 0.0px,#cfcfe7 27.4px,#e9e9f4 54.8px,#ffffff 82.2px,#fcefef 109.6px,#fae7e7 131.6px,#fae6e6 149.8px,#fbeaea 164.5px,#fceeee 173.6px,#fdf2f2 182.7px)"></i><i style="left:22px;width:5px;height:193px;background:linear-gradient(#bbbbde 0.0px,#cecee7 28.3px,#e8e8f4 56.5px,#ffffff 84.8px,#fcefef 113.0px,#fae6e6 135.6px,#fae6e6 154.4px,#fbeaea 169.5px,#fceeee 178.9px,#fdf2f2 188.3px)"></i><i style="left:25px;width:5px;height:193px;background:linear-gradient(#b8b8dc 0.0px,#cccce6 28.1px,#e8e8f4 56.1px,#ffffff 84.2px,#fceeee 112.2px,#fae6e6 134.7px,#fae6e6 153.4px,#fbeaea 168.4px,#fceeee 177.7px,#fdf2f2 187.1px)"></i><i style="left:28px;width:4px;height:193px;background:linear-gradient(#bbbbdd 0.0px,#cecee7 26.8px,#e9e9f4 53.7px,#ffffff 80.5px,#fcefef 107.3px,#fae7e7 128.8px,#fbe8e8 146.7px,#fbecec 161.0px,#fcf0f0 169.9px,#fdf4f4 178.9px)"></i><i style="left:30px;width:5px;height:177px;background:linear-gradient(#bebedf 0.0px,#d1d1e8 25.2px,#eaeaf5 50.4px,#ffffff 75.7px,#fcefef 100.9px,#fbe8e8 121.1px,#fbeaea 137.9px,#fceeee 151.3px,#fdf2f2 159.8px,#fdf6f6 168.2px)"></i><i style="left:33px;width:5px;height:177px;background:linear-gradient(#c1c1e1 0.0px,#d3d3e9 23.2px,#ebebf6 46.5px,#ffffff 69.7px,#fcf0f0 92.9px,#fbeaea 111.5px,#fbecec 127.0px,#fcf0f0 139.4px,#fdf4f4 147.2px,#fef8f8 154.9px)"></i><i style="left:36px;width:5px;height:150px;background:linear-gradient(#c5c5e2 0.0px,#d6d6eb 22.1px,#ededf6 44.2px,#ffffff 66.3px,#fcf1f1 88.4px,#fbebeb 106.1px,#fceeee 120.8px,#fdf2f2 132.6px,#fdf6f6 140.0px,#fefafa 147.3px)"></i><i style="left:39px;width:6px;height:150px;background:linear-gradient(#c8c8e4 0.0px,#d8d8ec 21.8px,#eeeef7 43.6px,#ffffff 65.5px,#fcf2f2 87.3px,#fbeded 104.7px,#fcf0f0 119.3px,#fdf4f4 130.9px,#fef8f8 138.2px,#fffdfd 145.5px)"></i><i style="left:43px;width:4px;height:147px;background:linear-gradient(#cccce6 0.0px,#dbdbed 21.4px,#efeff7 42.7px,#ffffff 64.1px,#fdf2f2 85.5px,#fceeee 102.5px,#fdf2f2 116.8px,#fdf6f6 128.2px,#fefbfb 135.3px,#ffffff 142.4px)"></i><i style="left:46px;width:4px;height:147px;background:linear-gradient(#d5d5ea 0.0px,#e2e2f1 20.7px,#f5f5fa 41.4px,#fef9f9 62.2px,#fbecec 82.9px,#fbeaea 99.5px,#fcf0f0 113.3px,#fdf6f6 124.3px,#fefafa 131.2px,#ffffff 138.1px)"></i><i style="left:48px;width:6px;height:147px;background:linear-gradient(#dfdfef 0.0px,#eaeaf5 20.8px,#fcfcfe 41.5px,#fcf1f1 62.3px,#fae5e5 83.0px,#fae5e5 99.6px,#fceded 113.5px,#fdf4f4 124.5px,#fefafa 131.5px,#ffffff 138.4px)"></i><i style="left:52px;width:5px;height:147px;background:linear-gradient(#e7e7f4 0.0px,#f1f1f8 21.5px,#fefbfb 42.9px,#fbeaea 64.4px,#f9dddd 85.9px,#f9e0e0 103.0px,#fbeaea 117.3px,#fdf3f3 128.8px,#fef9f9 135.9px,#ffffff 143.1px)"></i><i style="left:55px;width:5px;height:147px;background:linear-gradient(#efeff7 0.0px,#f9f9fc 21.3px,#fdf3f3 42.5px,#f9e2e2 63.8px,#f7d6d6 85.0px,#f8dbdb 102.0px,#fae6e6 116.2px,#fcf2f2 127.5px,#fef8f8 134.6px,#ffffff 141.7px)"></i><i style="left:58px;width:5px;height:147px;background:linear-gradient(#f7f7fb 0.0px,#fffefe 20.1px,#fbecec 40.3px,#f8dbdb 60.4px,#f6cecf 80.5px,#f7d6d6 96.6px,#fae3e3 110.1px,#fcf1f1 120.8px,#fef8f8 127.5px,#ffffff 134.2px)"></i><i style="left:61px;width:4px;height:143px;background:linear-gradient(#ffffff 0.0px,#fdf6f6 20.0px,#fae5e5 39.9px,#f7d4d4 59.9px,#f5c8c8 79.9px,#f6d2d2 95.8px,#f9e1e1 109.1px,#fcefef 119.8px,#fef7f7 126.4px,#ffffff 133.1px)"></i><i style="left:64px;width:4px;height:143px;background:linear-gradient(#fef8f8 0.0px,#fcefef 20.7px,#f9dede 41.5px,#f6cece 62.2px,#f5c1c2 83.0px,#f6cdcd 99.6px,#f9dede 113.4px,#fceeee 124.5px,#fdf7f7 131.4px,#ffffff 138.3px)"></i><i style="left:66px;width:5px;height:147px;background:linear-gradient(#fdf6f6 0.0px,#fcefef 21.3px,#f9e1e1 42.6px,#f7d3d3 63.9px,#f5c9c9 85.2px,#f7d5d5 102.3px,#fae4e4 116.5px,#fdf2f2 127.9px,#fefafa 135.0px,#fdfdfe 142.1px)"></i><i style="left:69px;width:6px;height:147px;background:linear-gradient(#fdf5f5 0.0px,#fcf0f0 21.6px,#fae5e5 43.3px,#f8dbdb 64.9px,#f7d4d4 86.6px,#f9dfdf 103.9px,#fbecec 118.3px,#fef8f8 129.9px,#fffdfd 137.1px,#fbfbfd 144.3px)"></i><i style="left:73px;width:4px;height:158px;background:linear-gradient(#fdf5f5 0.0px,#fcf0f0 22.2px,#fbeaea 44.4px,#fae3e3 66.6px,#f9dfdf 88.8px,#fbe9e9 106.5px,#fdf4f4 121.3px,#fffdfd 133.2px,#fdfdfe 140.6px,#f9f9fc 148.0px)"></i><i style="left:76px;width:4px;height:158px;background:linear-gradient(#fdf4f4 0.0px,#fcf1f1 22.9px,#fceeee 45.9px,#fbebeb 68.8px,#fbe9e9 91.8px,#fdf3f3 110.2px,#fefbfb 125.5px,#fdfdfe 137.7px,#fafafd 145.3px,#f7f7fb 153.0px)"></i><i style="left:78px;width:5px;height:158px;background:linear-gradient(#fdf3f3 0.0px,#fcf2f2 23.1px,#fdf2f2 46.3px,#fdf2f2 69.4px,#fdf3f3 92.6px,#fffdfd 111.1px,#fbfbfd 126.5px,#f8f8fc 138.8px,#f7f7fb 146.6px,#f6f6fa 154.3px)"></i><i style="left:81px;width:5px;height:158px;background:linear-gradient(#fdf2f2 0.0px,#fdf2f2 22.8px,#fdf6f6 45.5px,#fefafa 68.3px,#fffefe 91.1px,#f8f8fc 109.3px,#f4f4fa 124.5px,#f4f4fa 144.2px,#f4f4f9 151.8px)"></i><i style="left:84px;width:5px;height:164px;background:linear-gradient(#fefeff 0.0px,#fefeff 23.0px,#fbfbfd 46.0px,#f8f8fb 69.0px,#f2f2f9 92.1px,#ebebf5 110.5px,#e8e8f4 125.8px,#e9e9f4 138.1px,#ebebf5 145.7px,#ededf6 153.4px)"></i><i style="left:87px;width:5px;height:164px;background:linear-gradient(#f0f0f8 0.0px,#f0f0f8 23.9px,#eeeef7 47.7px,#ebebf5 71.6px,#e4e4f2 95.5px,#dcdcee 114.5px,#d9d9ec 130.5px,#dcdcee 143.2px,#e2e2f1 151.1px,#e6e6f3 159.1px)"></i><i style="left:90px;width:5px;height:164px;background:linear-gradient(#e2e2f1 0.0px,#e2e2f1 23.3px,#e1e1f0 46.5px,#dfdfef 69.8px,#d4d4ea 93.0px,#cacae5 111.7px,#c8c8e4 127.2px,#cecee7 139.6px,#d6d6eb 147.3px,#dfdfef 155.1px)"></i><i style="left:93px;width:5px;height:164px;background:linear-gradient(#d1d1e9 0.0px,#d1d1e9 21.2px,#d0d0e8 42.4px,#cfcfe7 63.6px,#c2c2e1 84.8px,#b8b8dc 101.8px,#b7b7db 115.9px,#bfbfdf 127.2px,#cacae5 134.3px,#d6d6eb 141.4px)"></i><i style="left:96px;width:5px;height:153px;background:linear-gradient(#bfbfdf 0.0px,#bfbfdf 62.4px,#b1b1d8 83.2px,#a9a9d3 99.8px,#a9a9d3 113.7px,#b1b1d8 124.8px,#bebedf 131.7px,#cdcde6 138.6px)"></i><i style="left:99px;width:6px;height:153px;background:linear-gradient(#a2a2cf 0.0px,#a6a6d1 22.0px,#a8a8d3 44.1px,#a8a8d3 66.1px,#a0a0cd 88.1px,#9a9aca 105.7px,#9d9dcc 120.4px,#a6a6d1 132.2px,#b3b3d9 139.5px,#bfbfe0 146.9px)"></i><i style="left:103px;width:5px;height:214px;background:linear-gradient(#8485be 0.0px,#8d8dc3 24.9px,#9393c6 49.9px,#9393c6 74.8px,#8e8fc3 99.8px,#8b8cc2 119.7px,#9191c5 136.4px,#9c9ccb 149.7px,#a9a9d3 158.0px,#b3b3d9 166.3px)"></i><i style="left:106px;width:4px;height:214px;background:linear-gradient(#6469b0 0.0px,#7275b7 29.5px,#7c7ebb 59.1px,#7c7ebb 88.6px,#7b7ebb 118.2px,#7b7ebb 141.8px,#8586bf 161.5px,#9393c6 177.2px,#9f9fcd 187.1px,#a8a8d2 196.9px)"></i><i style="left:109px;width:4px;height:214px;background:linear-gradient(#7275b7 0.0px,#8182bd 30.7px,#8a8bc1 61.4px,#8a8bc1 147.4px,#9393c6 167.9px,#9e9ecd 184.2px,#aaaad3 194.5px,#b2b2d8 204.7px)"></i><i style="left:112px;width:4px;height:214px;background:linear-gradient(#8284be 0.0px,#9191c4 28.4px,#9999c9 56.9px,#9999c9 136.5px,#a1a1ce 155.5px,#ababd4 170.6px,#b5b5da 180.1px,#bebedf 189.6px)"></i><i style="left:115px;width:4px;height:184px;background:linear-gradient(#9292c5 0.0px,#9f9fcd 25.6px,#a7a7d2 51.2px,#a7a7d2 122.8px,#afafd7 139.8px,#b8b8dc 153.5px,#c2c2e1 162.0px,#cccce6 170.5px)"></i><i style="left:118px;width:4px;height:184px;background:linear-gradient(#b8b8dc 0.0px,#c2c2e1 22.1px,#c9c9e5 44.3px,#c8c8e4 66.4px,#c6c6e3 88.5px,#c4c4e2 106.2px,#c8c8e4 121.0px,#cdcde7 132.8px,#d4d4ea 140.1px,#dbdbed 147.5px)"></i><i style="left:121px;width:4px;height:169px;background:linear-gradient(#e5e5f2 0.0px,#e9e9f4 21.6px,#ececf6 43.2px,#e9e9f4 64.7px,#e7e7f3 86.3px,#e4e4f2 103.6px,#e2e2f1 118.0px,#e2e2f1 129.5px,#e5e5f2 136.7px,#e7e7f4 143.9px)"></i><i style="left:123px;width:5px;height:169px;background:linear-gradient(#fdf5f5 0.0px,#fdf5f5 47.9px,#fef9f9 71.8px,#fffdfd 95.8px,#fdfdfe 114.9px,#f6f6fb 130.9px,#f2f2f9 143.6px,#f2f2f9 151.6px,#f3f3f9 159.6px)"></i><i style="left:126px;width:5px;height:169px;background:linear-gradient(#fcefef 0.0px,#fcf1f1 23.6px,#fdf3f3 47.1px,#fef8f8 70.7px,#fffdfd 94.3px,#fdfdfe 113.2px,#f7f7fb 128.9px,#f3f3f9 141.4px,#f4f4fa 149.3px,#f4f4fa 157.2px)"></i><i style="left:129px;width:5px;height:169px;background:linear-gradient(#fbebeb 0.0px,#fcefef 20.5px,#fdf4f4 41.0px,#fefafa 61.5px,#ffffff 81.9px,#fbfbfd 98.3px,#f6f6fb 112.0px,#f3f3f9 122.9px,#f5f5fa 129.7px,#f5f5fa 136.6px)"></i><i style="left:132px;width:5px;height:138px;background:linear-gradient(#fae6e6 0.0px,#fceeee 19.3px,#fdf5f5 38.6px,#fefbfb 58.0px,#fcfcfe 77.3px,#f8f8fc 92.7px,#f5f5fa 105.6px,#f3f3f9 115.9px,#f6f6fa 122.3px,#f6f6fa 128.8px)"></i><i style="left:135px;width:5px;height:138px;background:linear-gradient(#f9e2e2 0.0px,#fbecec 20.1px,#fdf6f6 40.1px,#fffdfd 60.2px,#fafafc 80.3px,#f6f6fb 96.3px,#f4f4fa 109.7px,#f3f3f9 120.4px,#f6f6fb 127.1px,#f6f6fb 133.8px)"></i><i style="left:138px;width:5px;height:138px;background:linear-gradient(#f9dede 0.0px,#fbeaea 20.1px,#fdf7f7 40.1px,#ffffff 60.2px,#f7f7fb 80.2px,#f4f4f9 96.3px,#f3f3f9 109.7px,#f3f3f9 120.4px,#f7f7fb 127.0px,#f7f7fb 133.7px)"></i><i style="left:141px;width:5px;height:138px;background:linear-gradient(#f9e1e1 0.0px,#fbebeb 19.3px,#fdf5f5 38.6px,#fefcfc 57.8px,#fbfbfd 77.1px,#f7f7fb 92.6px,#f7f7fb 115.7px,#fafafc 122.1px,#fafafc 128.6px)"></i><i style="left:144px;width:5px;height:147px;background:linear-gradient(#fae6e6 0.0px,#fceded 19.6px,#fdf4f4 39.3px,#fefafa 58.9px,#ffffff 78.5px,#fbfbfd 94.2px,#fbfbfd 117.8px,#fcfcfe 124.3px,#fcfcfe 130.8px)"></i><i style="left:148px;width:5px;height:147px;background:linear-gradient(#fbe9e9 0.0px,#fceded 21.1px,#fcf2f2 42.2px,#fdf6f6 63.3px,#fefafa 84.4px,#fffefe 101.2px,#ffffff 115.3px,#ffffff 140.6px)"></i><i style="left:151px;width:4px;height:181px;background:linear-gradient(#f7d4d4 0.0px,#f7d7d7 23.1px,#f8dddd 46.2px,#fae2e2 69.3px,#fbe9e9 92.4px,#fcf1f1 110.8px,#fdf5f5 126.2px,#fef9f9 138.5px,#fefcfc 146.2px,#ffffff 153.9px)"></i><i style="left:153px;width:5px;height:181px;background:linear-gradient(#f5c1c2 0.0px,#f5c3c3 25.6px,#f5c9ca 51.3px,#f6d0d0 76.9px,#f8dada 102.5px,#fae4e4 123.0px,#fbecec 140.1px,#fdf4f4 153.8px,#fefafa 162.3px,#ffffff 170.8px)"></i><i style="left:156px;width:5px;height:181px;background:linear-gradient(#f3adaf 0.0px,#f3adaf 24.7px,#f3b5b7 49.4px,#f4bebf 74.1px,#f5caca 98.8px,#f7d6d6 118.6px,#fae2e2 135.0px,#fcefef 148.2px,#fdf7f7 156.5px,#ffffff 164.7px)"></i><i style="left:159px;width:5px;height:181px;background:linear-gradient(#f3aeb0 0.0px,#f3b0b2 20.3px,#f4bbbc 40.6px,#f5c6c7 61.0px,#f7d4d4 81.3px,#f9e1e1 97.5px,#fbebeb 111.1px,#fdf3f3 121.9px,#fef9f9 128.7px,#ffffff 135.5px)"></i><i style="left:162px;width:6px;height:123px;background:linear-gradient(#f3b1b2 0.0px,#f3b6b8 18.0px,#f5c4c5 36.0px,#f6d2d2 54.0px,#f9e1e1 72.0px,#fceeee 86.4px,#fdf5f5 98.4px,#fef9f9 108.0px,#fefcfc 114.0px,#ffffff 120.0px)"></i><i style="left:166px;width:5px;height:123px;background:linear-gradient(#f3b3b5 0.0px,#f4bbbc 17.8px,#f6cccc 35.5px,#f8dcdc 53.3px,#fceded 71.0px,#fefafa 85.2px,#fffefe 97.1px,#fffefe 106.5px,#ffffff 112.4px,#ffffff 118.4px)"></i><i style="left:169px;width:5px;height:121px;background:linear-gradient(#f3b0b2 0.0px,#f3b5b6 17.7px,#f5c1c2 35.3px,#f6d0d0 53.0px,#f9dfdf 70.7px,#fceeee 84.8px,#fdf6f6 96.6px,#fef9f9 106.0px,#fefbfb 111.9px,#ffffff 117.8px)"></i><i style="left:172px;width:4px;height:121px;background:linear-gradient(#f2adaf 0.0px,#f3aeb0 17.8px,#f4b8b9 35.5px,#f5c6c6 53.3px,#f7d3d3 71.0px,#fae3e3 85.2px,#fceeee 97.1px,#fdf5f5 106.5px,#fef8f8 112.4px,#ffffff 118.4px)"></i><i style="left:174px;width:6px;height:126px;background:linear-gradient(#f2a9ab 0.0px,#f2a9ab 18.0px,#f3b1b3 36.0px,#f4bdbe 54.0px,#f5caca 72.1px,#f8dada 86.5px,#fbe8e8 98.5px,#fcf1f1 108.1px,#fdf6f6 114.1px,#ffffff 120.1px)"></i><i style="left:178px;width:5px;height:126px;background:linear-gradient(#f2a4a6 0.0px,#f2a4a6 18.5px,#f2acae 36.9px,#f4b7b9 55.4px,#f5c4c4 73.8px,#f7d4d4 88.6px,#fae3e3 100.9px,#fceeee 110.7px,#fdf5f5 116.9px,#fffdfd 123.0px)"></i><i style="left:181px;width:4px;height:126px;background:linear-gradient(#f19fa2 0.0px,#f19fa2 18.7px,#f2a8aa 37.3px,#f3b2b3 56.0px,#f4bebf 74.6px,#f6cfcf 89.5px,#f9dede 102.0px,#fbebeb 111.9px,#fdf4f4 118.1px,#fffdfd 124.4px)"></i><i style="left:184px;width:4px;height:126px;background:linear-gradient(#f19b9e 0.0px,#f19b9e 18.6px,#f2a4a6 37.2px,#f2adaf 55.9px,#f4b9ba 74.5px,#f5caca 89.4px,#f8dada 101.8px,#fbe9e9 111.7px,#fdf3f3 118.0px,#fefcfc 124.2px)"></i><i style="left:186px;width:5px;height:127px;background:linear-gradient(#f1979a 0.0px,#f1979a 18.7px,#f19fa1 37.3px,#f2a7a9 56.0px,#f3b4b5 74.6px,#f5c4c5 89.6px,#f7d5d5 102.0px,#fae6e6 111.9px,#fdf2f2 118.2px,#fefbfb 124.4px)"></i><i style="left:189px;width:6px;height:127px;background:linear-gradient(#f2a4a6 0.0px,#f2a5a8 18.8px,#f3afb0 37.5px,#f3b7b8 56.3px,#f5c3c3 75.0px,#f6d1d1 90.0px,#f9dfdf 102.5px,#fbecec 112.5px,#fdf6f6 118.8px,#fefcfc 125.0px)"></i><i style="left:193px;width:4px;height:127px;background:linear-gradient(#f3b0b2 0.0px,#f3b3b5 18.8px,#f4bdbe 37.5px,#f5c6c6 56.3px,#f6d1d1 75.0px,#f8dcdc 90.0px,#fbe8e8 102.5px,#fcf2f2 112.5px,#fef9f9 118.8px,#fffcfc 125.0px)"></i><i style="left:195px;width:5px;height:127px;background:linear-gradient(#f4bbbc 0.0px,#f4c0c1 18.7px,#f5cbcb 37.3px,#f7d3d3 56.0px,#f9dddd 74.6px,#fae7e7 89.6px,#fcf0f0 102.0px,#fdf7f7 111.9px,#fefcfc 118.2px,#fffdfd 124.4px)"></i><i style="left:198px;width:5px;height:143px;background:linear-gradient(#f5c8c8 0.0px,#f6cece 19.2px,#f8dada 38.5px,#f9e2e2 57.7px,#fbecec 77.0px,#fdf2f2 92.4px,#fef9f9 105.2px,#fffdfd 115.5px,#fefeff 121.9px,#fffefe 128.3px)"></i><i style="left:201px;width:5px;height:143px;background:linear-gradient(#f7d5d5 0.0px,#f9dddd 20.5px,#fbeaea 41.0px,#fdf2f2 61.5px,#fefbfb 82.0px,#ffffff 98.4px,#fbfbfd 112.1px,#fbfbfd 129.9px,#ffffff 136.7px)"></i><i style="left:204px;width:5px;height:144px;background:linear-gradient(#f4c0c1 0.0px,#f5c7c7 21.2px,#f6d2d2 42.4px,#f8dada 63.6px,#fae4e4 84.8px,#fbeaea 101.7px,#fdf3f3 115.9px,#fef8f8 127.2px,#fffdfd 134.2px,#fffdfd 141.3px)"></i><i style="left:207px;width:5px;height:144px;background:linear-gradient(#f3adaf 0.0px,#f3b1b3 21.3px,#f4bcbd 42.6px,#f5c4c5 63.9px,#f6cfcf 85.2px,#f7d7d7 102.2px,#fae3e3 116.4px,#fceded 127.8px,#fdf7f7 134.9px,#fefbfb 142.0px)"></i><i style="left:210px;width:5px;height:144px;background:linear-gradient(#f1999b 0.0px,#f19b9d 21.3px,#f2a4a6 42.7px,#f2acae 64.0px,#f4b8b9 85.3px,#f5c2c3 102.4px,#f6d2d2 116.6px,#f9e2e2 128.0px,#fcf1f1 135.1px,#fef9f9 142.2px)"></i><i style="left:213px;width:5px;height:144px;background:linear-gradient(#ef8386 0.0px,#ef8386 21.3px,#ef8b8e 42.6px,#f09396 63.9px,#f19fa2 85.2px,#f2acae 102.2px,#f4c0c1 116.4px,#f7d5d5 127.8px,#fbeaea 134.9px,#fdf7f7 142.0px)"></i><i style="left:216px;width:5px;height:144px;background:linear-gradient(#ef8286 0.0px,#ef8286 20.6px,#ef8a8e 41.2px,#f09497 61.8px,#f1a0a2 82.4px,#f3adaf 98.8px,#f5c2c3 112.6px,#f7d7d7 123.5px,#fbebeb 130.4px,#fef8f8 137.3px)"></i><i style="left:219px;width:5px;height:144px;background:linear-gradient(#ef8286 0.0px,#ef8286 19.2px,#ef8a8e 38.4px,#f09598 57.7px,#f1a1a3 76.9px,#f3b0b1 92.3px,#f5c4c5 105.1px,#f8d9d9 115.3px,#fbecec 121.7px,#fef9f9 128.1px)"></i><i style="left:222px;width:5px;height:139px;background:linear-gradient(#ef8286 0.0px,#ef8286 19.0px,#ef8a8e 38.1px,#f09698 57.1px,#f1a2a4 76.2px,#f3b2b3 91.4px,#f5c6c7 104.1px,#f8dbdb 114.3px,#fceded 120.6px,#fefafa 127.0px)"></i><i style="left:225px;width:5px;height:139px;background:linear-gradient(#ef8286 0.0px,#ef8286 20.1px,#ef8a8e 40.2px,#f09799 60.2px,#f2a3a5 80.3px,#f3b4b5 96.4px,#f5c8c9 109.8px,#f9dddd 120.5px,#fceeee 127.2px,#fefbfb 133.9px)"></i><i style="left:228px;width:5px;height:151px;background:linear-gradient(#f1989a 0.0px,#f19a9c 21.0px,#f1a2a4 42.1px,#f3adaf 63.1px,#f4b9ba 84.2px,#f5c7c8 101.0px,#f8d9d9 115.0px,#fbeaea 126.3px,#fef7f7 133.3px,#fdfdfe 140.3px)"></i><i style="left:231px;width:5px;height:151px;background:linear-gradient(#f3aeaf 0.0px,#f3b2b3 21.9px,#f4babb 43.9px,#f5c4c5 65.8px,#f6cfcf 87.7px,#f8dcdc 105.3px,#fbebeb 119.9px,#fef8f8 131.6px,#fefefe 138.9px,#f8f8fb 146.2px)"></i><i style="left:234px;width:5px;height:151px;background:linear-gradient(#f5c4c5 0.0px,#f5cacb 22.2px,#f7d3d3 44.4px,#f8dcdc 66.6px,#fae6e6 88.8px,#fcf0f0 106.5px,#fefcfc 121.3px,#f9f9fc 133.1px,#f5f5fa 140.5px,#f2f2f9 147.9px)"></i><i style="left:237px;width:5px;height:151px;background:linear-gradient(#f8dbdb 0.0px,#fae3e3 21.8px,#fbecec 43.6px,#fdf4f4 65.5px,#fffdfd 87.3px,#f9f9fc 104.7px,#f1f1f8 119.3px,#ededf6 130.9px,#ececf6 138.2px,#ececf6 145.5px)"></i><i style="left:240px;width:5px;height:151px;background:linear-gradient(#fae3e3 0.0px,#fbecec 21.8px,#fdf5f5 43.6px,#ffffff 65.5px,#f4f4fa 87.3px,#ebebf5 104.7px,#e1e1f1 119.3px,#dedeef 130.9px,#e0e0f0 138.2px,#e3e3f1 145.5px)"></i><i style="left:243px;width:5px;height:151px;background:linear-gradient(#fbe9e9 0.0px,#fcf2f2 22.2px,#fefcfc 44.4px,#f6f6fb 66.6px,#e9e9f4 88.8px,#ddddee 106.5px,#cecee7 121.3px,#cbcbe6 133.1px,#d0d0e8 140.5px,#d7d7ec 147.9px)"></i><i style="left:246px;width:5px;height:151px;background:linear-gradient(#fcf0f0 0.0px,#fef8f8 21.5px,#fbfbfd 43.0px,#ededf6 64.4px,#dcdcee 85.9px,#cbcbe5 103.1px,#b9b9dd 117.4px,#b8b8dc 128.9px,#bfbfe0 136.1px,#cacae5 143.2px)"></i><i style="left:249px;width:5px;height:151px;background:linear-gradient(#fdf6f6 0.0px,#ffffff 19.7px,#f4f4f9 39.4px,#e4e4f2 59.1px,#cccce6 78.8px,#b9b9dc 94.5px,#a8a8d2 107.7px,#a8a8d2 118.2px,#b0b0d7 124.8px,#bdbddf 131.3px)"></i><i style="left:252px;width:5px;height:132px;background:linear-gradient(#fdf5f5 0.0px,#ffffff 19.0px,#f3f3f9 38.0px,#e5e5f2 57.0px,#cfcfe7 76.0px,#bcbcde 91.1px,#adadd6 103.8px,#adadd6 113.9px,#b7b7db 120.3px,#c4c4e2 126.6px)"></i><i style="left:255px;width:5px;height:132px;background:linear-gradient(#fdf4f4 0.0px,#ffffff 19.4px,#f3f3f9 38.7px,#e6e6f3 58.1px,#d2d2e9 77.4px,#c0c0e0 92.9px,#b3b3d9 105.8px,#b3b3d9 116.2px,#bfbfdf 122.6px,#cbcbe6 129.1px)"></i><i style="left:258px;width:5px;height:132px;background:linear-gradient(#fdf3f3 0.0px,#ffffff 19.4px,#f3f3f9 38.9px,#e7e7f3 58.3px,#d4d4ea 77.8px,#c5c5e2 93.4px,#b9b9dd 106.3px,#b9b9dd 116.7px,#c7c7e4 123.2px,#d2d2e9 129.7px)"></i><i style="left:261px;width:5px;height:132px;background:linear-gradient(#fdf2f2 0.0px,#fffefe 19.3px,#f5f5fa 38.5px,#ebebf5 57.8px,#ddddee 77.0px,#cfcfe8 92.5px,#c7c7e4 105.3px,#c7c7e4 115.6px,#d4d4ea 122.0px,#dcdcee 128.4px)"></i><i style="left:264px;width:5px;height:138px;background:linear-gradient(#fdf2f2 0.0px,#fefafa 19.5px,#fafafd 39.0px,#f3f3f9 58.5px,#eaeaf5 77.9px,#e2e2f1 93.5px,#dfdfef 106.5px,#dfdfef 116.9px,#e4e4f2 123.4px,#e7e7f4 129.9px)"></i><i style="left:267px;width:5px;height:138px;background:linear-gradient(#fdf2f2 0.0px,#fdf7f7 20.1px,#ffffff 40.3px,#fafafd 60.4px,#f6f6fb 80.5px,#f2f2f9 96.6px,#f2f2f9 134.2px)"></i><i style="left:270px;width:5px;height:148px;background:linear-gradient(#fae3e3 0.0px,#fae6e6 20.8px,#fceeee 41.6px,#fdf5f5 62.4px,#fffdfd 83.3px,#f9f9fc 99.9px,#f6f6fb 113.8px,#f3f3f9 124.9px,#f3f3f9 131.8px,#f5f5fa 138.8px)"></i><i style="left:273px;width:5px;height:148px;background:linear-gradient(#f6d2d2 0.0px,#f7d4d4 21.5px,#f8dcdc 43.1px,#fae6e6 64.6px,#fdf2f2 86.2px,#fffefe 103.4px,#f8f8fc 117.8px,#f3f3f9 129.3px,#f3f3f9 136.4px,#f6f6fb 143.6px)"></i><i style="left:276px;width:5px;height:148px;background:linear-gradient(#f5c2c3 0.0px,#f5c2c3 21.3px,#f5cacb 42.6px,#f7d7d7 63.9px,#fae7e7 85.2px,#fef7f7 102.3px,#fbfbfd 116.5px,#f3f3f9 127.8px,#f3f3f9 134.9px,#f7f7fb 142.0px)"></i><i style="left:279px;width:5px;height:148px;background:linear-gradient(#f4c0c1 0.0px,#f5c1c2 20.1px,#f5c9ca 40.2px,#f7d6d6 60.3px,#fae7e7 80.4px,#fef8f8 96.5px,#f9f9fc 109.9px,#f3f3f9 120.6px,#f3f3f9 127.3px,#f6f6fb 134.0px)"></i><i style="left:282px;width:5px;height:145px;background:linear-gradient(#f4c0c1 0.0px,#f5c2c3 20.0px,#f5cacb 40.0px,#f7d7d7 59.9px,#fbe8e8 79.9px,#fefbfb 95.9px,#f8f8fb 109.2px,#f2f2f9 119.9px,#f2f2f9 126.5px,#f5f5fa 133.2px)"></i><i style="left:285px;width:5px;height:145px;background:linear-gradient(#f4c0c1 0.0px,#f5c3c4 20.9px,#f6cccc 41.9px,#f8d8d8 62.8px,#fbe9e9 83.7px,#fffdfd 100.5px,#f6f6fa 114.4px,#f1f1f8 125.6px,#f1f1f8 132.6px,#f4f4fa 139.6px)"></i><i style="left:288px;width:5px;height:145px;background:linear-gradient(#f4c0c1 0.0px,#f5c4c5 21.0px,#f6cdcd 42.1px,#f8d9d9 63.1px,#fbeaea 84.1px,#ffffff 101.0px,#f4f4f9 115.0px,#f0f0f8 126.2px,#f0f0f8 133.2px,#f3f3f9 140.2px)"></i><i style="left:291px;width:5px;height:145px;background:linear-gradient(#f4bfc0 0.0px,#f5c3c3 20.3px,#f6cbcb 40.6px,#f7d7d7 60.8px,#fae7e7 81.1px,#fefbfb 97.4px,#f7f7fb 110.9px,#f3f3f9 121.7px,#f2f2f9 128.4px,#f5f5fa 135.2px)"></i><i style="left:294px;width:5px;height:135px;background:linear-gradient(#f4bfbf 0.0px,#f5c1c2 19.7px,#f5c9ca 39.3px,#f7d4d4 59.0px,#fae3e3 78.6px,#fdf7f7 94.3px,#fbfbfd 107.4px,#f6f6fa 117.9px,#f4f4fa 124.5px,#f6f6fb 131.0px)"></i><i style="left:297px;width:5px;height:135px;background:linear-gradient(#f4bebf 0.0px,#f4bfc0 19.1px,#f5c8c8 38.3px,#f6d2d2 57.4px,#f9e0e0 76.6px,#fdf3f3 91.9px,#ffffff 104.7px,#f9f9fc 114.9px,#f6f6fb 121.3px,#f8f8fc 127.7px)"></i><i style="left:300px;width:5px;height:142px;background:linear-gradient(#f4bdbe 0.0px,#f4bebf 19.4px,#f5c6c7 38.8px,#f6cfcf 58.3px,#f8dddd 77.7px,#fceeee 93.2px,#fefbfb 106.2px,#fcfcfd 116.5px,#f9f9fc 123.0px,#f9f9fc 129.5px)"></i><i style="left:303px;width:5px;height:142px;background:linear-gradient(#f4bcbd 0.0px,#f4bcbd 20.5px,#f5c4c5 41.0px,#f6cdcd 61.4px,#f8d9d9 81.9px,#fbeaea 98.3px,#fdf7f7 111.9px,#ffffff 122.9px,#fbfbfd 129.7px,#fbfbfd 136.5px)"></i><i style="left:306px;width:5px;height:145px;background:linear-gradient(#f4bbbc 0.0px,#f4bbbc 21.1px,#f5c3c4 42.2px,#f6cbcc 63.3px,#f7d7d7 84.4px,#fae7e7 101.3px,#fdf4f4 115.4px,#fffdfd 126.6px,#fcfcfe 133.7px,#fcfcfd 140.7px)"></i><i style="left:309px;width:5px;height:145px;background:linear-gradient(#f4b9ba 0.0px,#f4b9ba 21.3px,#f5c2c2 42.6px,#f5caca 63.9px,#f7d5d5 85.2px,#fae5e5 102.3px,#fcf1f1 116.5px,#fefbfb 127.9px,#fefefe 135.0px,#fcfcfe 142.1px)"></i><i style="left:312px;width:5px;height:145px;background:linear-gradient(#f4b8b9 0.0px,#f4b8b9 20.9px,#f4c0c1 41.8px,#f5c9c9 62.6px,#f7d3d3 83.5px,#f9e2e2 100.2px,#fceeee 114.1px,#fef9f9 125.3px,#ffffff 132.2px,#fdfdfe 139.2px)"></i><i style="left:315px;width:5px;height:145px;background:linear-gradient(#f3b6b8 0.0px,#f3b6b8 19.8px,#f4bfc0 39.6px,#f5c7c8 59.4px,#f6d1d1 79.2px,#f9dfdf 95.1px,#fbebeb 108.3px,#fdf7f7 118.8px,#fffefe 125.4px,#fefefe 132.0px)"></i><i style="left:318px;width:5px;height:130px;background:linear-gradient(#f3b5b6 0.0px,#f3b5b6 19.0px,#f4bdbe 37.9px,#f5c6c6 56.9px,#f6cfcf 75.9px,#f8dcdc 91.1px,#fbe9e9 103.7px,#fdf4f4 113.8px,#fefcfc 120.1px,#fefeff 126.5px)"></i><i style="left:321px;width:5px;height:130px;background:linear-gradient(#f3b4b5 0.0px,#f3b4b5 18.4px,#f4bcbd 36.7px,#f5c4c5 55.1px,#f6cdcd 73.5px,#f8d9d9 88.2px,#fae6e6 100.4px,#fdf2f2 110.2px,#fefbfb 116.3px,#ffffff 122.5px)"></i><i style="left:324px;width:5px;height:123px;background:linear-gradient(#f3b4b5 0.0px,#f3b5b6 18.1px,#f4bdbe 36.2px,#f5c5c6 54.2px,#f6cdcd 72.3px,#f8d9d9 86.8px,#fae4e4 98.8px,#fcf1f1 108.5px,#fef9f9 114.5px,#fffefe 120.5px)"></i><i style="left:327px;width:5px;height:123px;background:linear-gradient(#f3b4b5 0.0px,#f3b6b8 18.1px,#f4bdbe 36.2px,#f5c6c6 54.3px,#f6cdcd 72.4px,#f7d8d8 86.9px,#fae3e3 99.0px,#fcf0f0 108.7px,#fef8f8 114.7px,#fffefe 120.7px)"></i><i style="left:330px;width:5px;height:132px;background:linear-gradient(#f3b4b5 0.0px,#f4b8b9 18.5px,#f4bebf 37.0px,#f5c6c7 55.5px,#f6cdcd 74.0px,#f7d7d7 88.7px,#f9e2e2 101.1px,#fceeee 110.9px,#fdf7f7 117.1px,#fffdfd 123.3px)"></i><i style="left:333px;width:5px;height:132px;background:linear-gradient(#f3b4b5 0.0px,#f4b9ba 19.2px,#f4bfc0 38.4px,#f5c7c8 57.6px,#f6cdcd 76.8px,#f7d6d6 92.2px,#f9e0e0 105.0px,#fceded 115.3px,#fdf5f5 121.7px,#fefcfc 128.1px)"></i><i style="left:336px;width:5px;height:132px;background:linear-gradient(#f3b4b5 0.0px,#f4bbbc 19.5px,#f4bfc0 39.0px,#f5c8c8 58.5px,#f6cdcd 78.0px,#f7d6d6 93.6px,#f9dfdf 106.6px,#fbebeb 117.0px,#fdf4f4 123.5px,#fefcfc 130.0px)"></i><i style="left:339px;width:5px;height:132px;background:linear-gradient(#f3b4b5 0.0px,#f4bcbd 19.3px,#f4c0c1 38.7px,#f5c8c9 58.0px,#f6cdcd 77.4px,#f7d5d5 92.9px,#f9dede 105.8px,#fbeaea 116.1px,#fdf2f2 122.5px,#fefbfb 129.0px)"></i><i style="left:342px;width:5px;height:130px;background:linear-gradient(#f3b6b7 0.0px,#f4bebf 19.1px,#f5c3c3 38.1px,#f5cbcb 57.2px,#f6d0d0 76.3px,#f8d8d8 91.5px,#f9e1e1 104.2px,#fbecec 114.4px,#fdf4f4 120.8px,#fefcfc 127.1px)"></i><i style="left:345px;width:4px;height:130px;background:linear-gradient(#f4b8ba 0.0px,#f4bfc0 18.7px,#f5c5c5 37.3px,#f6cdcd 56.0px,#f7d3d3 74.6px,#f8dbdb 89.6px,#fae4e4 102.0px,#fcefef 112.0px,#fdf6f6 118.2px,#fffcfc 124.4px)"></i><i style="left:348px;width:4px;height:132px;background:linear-gradient(#f4bbbc 0.0px,#f4c1c2 18.7px,#f5c7c8 37.5px,#f6d0d0 56.2px,#f7d6d6 74.9px,#f9dfdf 89.9px,#fae7e7 102.4px,#fcf1f1 112.4px,#fef7f7 118.7px,#fffdfd 124.9px)"></i><i style="left:351px;width:4px;height:132px;background:linear-gradient(#f4bdbe 0.0px,#f5c3c3 19.3px,#f5caca 38.6px,#f6d2d2 57.9px,#f8dada 77.2px,#f9e2e2 92.6px,#fbebeb 105.5px,#fdf4f4 115.8px,#fef9f9 122.2px,#fffefe 128.6px)"></i><i style="left:354px;width:4px;height:132px;background:linear-gradient(#f4c0c1 0.0px,#f5c4c5 19.3px,#f6cccd 38.5px,#f7d5d5 57.8px,#f9dddd 77.1px,#fae6e6 92.5px,#fceeee 105.3px,#fdf6f6 115.6px,#fefbfb 122.0px,#ffffff 128.4px)"></i><i style="left:357px;width:4px;height:132px;background:linear-gradient(#f5cbcb 0.0px,#f6cfcf 18.6px,#f7d5d5 37.3px,#f8dddd 55.9px,#fae3e3 74.6px,#fbebeb 89.5px,#fcf1f1 101.9px,#fef9f9 111.9px,#fefcfc 118.1px,#ffffff 124.3px)"></i><i style="left:360px;width:5px;height:145px;background:linear-gradient(#f7d6d6 0.0px,#f8dbdb 19.1px,#f9dfdf 38.2px,#fae5e5 57.3px,#fbeaea 76.4px,#fcf0f0 91.7px,#fdf4f4 104.4px,#fefbfb 114.6px,#fffdfd 121.0px,#ffffff 127.4px)"></i><i style="left:363px;width:5px;height:145px;background:linear-gradient(#fae2e2 0.0px,#fae6e6 20.6px,#fbe9e9 41.3px,#fceeee 61.9px,#fcf0f0 82.6px,#fdf5f5 99.1px,#fef8f8 112.8px,#fffdfd 123.9px,#fffefe 130.7px,#ffffff 137.6px)"></i><i style="left:366px;width:5px;height:145px;background:linear-gradient(#fceeee 0.0px,#fdf2f2 21.2px,#fdf2f2 42.3px,#fdf7f7 63.5px,#fdf7f7 84.7px,#fefbfb 101.6px,#fefbfb 115.7px,#ffffff 127.0px,#ffffff 141.1px)"></i><i style="left:369px;width:5px;height:145px;background:linear-gradient(#fcf1f1 0.0px,#fdf4f4 20.7px,#fdf4f4 41.4px,#fdf7f7 62.1px,#fdf7f7 82.8px,#fefbfb 99.3px,#fefbfb 113.1px,#ffffff 124.1px,#ffffff 137.9px)"></i><i style="left:372px;width:5px;height:142px;background:linear-gradient(#fdf4f4 0.0px,#fdf5f5 20.6px,#fdf5f5 41.2px,#fdf7f7 61.8px,#fdf7f7 82.3px,#fefbfb 98.8px,#fefbfb 112.5px,#ffffff 123.5px,#ffffff 137.2px)"></i><i style="left:375px;width:5px;height:142px;background:linear-gradient(#fdf6f6 0.0px,#fdf6f6 83.5px,#fefafa 100.2px,#fefafa 114.1px,#fffefe 125.2px,#ffffff 132.1px,#ffffff 139.1px)"></i><i style="left:378px;width:5px;height:142px;background:linear-gradient(#f6cccc 0.0px,#f6cccc 20.4px,#f6d0d0 40.9px,#f6d0d0 81.7px,#f7d6d6 98.1px,#f8dbdb 111.7px,#fae5e5 122.6px,#fceeee 129.4px,#fdf6f6 136.2px)"></i><i style="left:381px;width:5px;height:142px;background:linear-gradient(#f2a4a6 0.0px,#f2a4a6 19.3px,#f2acae 38.6px,#f2acae 77.2px,#f3b4b5 92.6px,#f4bcbd 105.5px,#f6cdcd 115.8px,#f9dede 122.2px,#fceeee 128.7px)"></i><i style="left:384px;width:4px;height:127px;background:linear-gradient(#f2a3a5 0.0px,#f2a3a5 18.7px,#f2abad 37.4px,#f2abad 74.8px,#f3b4b5 89.8px,#f4bcbd 102.3px,#f6cdcd 112.3px,#f9dddd 118.5px,#fceeee 124.7px)"></i><i style="left:386px;width:5px;height:127px;background:linear-gradient(#f2a3a5 0.0px,#f2a3a5 18.7px,#f2abad 37.3px,#f2abad 74.7px,#f3b4b5 89.6px,#f4bcbd 102.1px,#f6cdcd 112.0px,#f9dede 118.3px,#fceeee 124.5px)"></i><i style="left:389px;width:5px;height:130px;background:linear-gradient(#f2a3a5 0.0px,#f2a3a5 18.8px,#f2abad 37.6px,#f2abad 75.1px,#f3b4b5 90.2px,#f4bcbd 102.7px,#f6cdcd 112.7px,#f9dede 119.0px,#fceeee 125.2px)"></i><i style="left:392px;width:5px;height:130px;background:linear-gradient(#f2a3a5 0.0px,#f2a3a5 19.0px,#f2abad 38.1px,#f2abad 76.2px,#f3b4b5 91.4px,#f4bcbd 104.1px,#f6cdcd 114.2px,#f9dddd 120.6px,#fceeee 126.9px)"></i><i style="left:395px;width:5px;height:134px;background:linear-gradient(#f2a3a5 0.0px,#f2a3a5 19.3px,#f2abad 38.7px,#f2abad 77.4px,#f3b4b5 92.8px,#f4bcbd 105.7px,#f6cdcd 116.1px,#f9dddd 122.5px,#fceeee 129.0px)"></i><i style="left:398px;width:6px;height:134px;background:linear-gradient(#f2a3a5 0.0px,#f2a3a5 19.7px,#f2abad 39.4px,#f2abad 78.8px,#f3b4b5 94.5px,#f4bcbd 107.7px,#f6cdcd 118.2px,#f9dede 124.8px,#fceeee 131.3px)"></i><i style="left:402px;width:5px;height:134px;background:linear-gradient(#f2a3a5 0.0px,#f2a3a5 19.5px,#f2abad 39.0px,#f2abad 78.1px,#f3b4b5 93.7px,#f4bcbd 106.7px,#f6cdcd 117.1px,#f9dddd 123.6px,#fceeee 130.1px)"></i><i style="left:405px;width:5px;height:134px;background:linear-gradient(#f2a3a5 0.0px,#f2a3a5 18.8px,#f2abad 37.6px,#f2abad 75.2px,#f3b4b5 90.2px,#f4bcbd 102.7px,#f6cdcd 112.7px,#f9dddd 119.0px,#fceeee 125.3px)"></i><i style="left:408px;width:5px;height:125px;background:linear-gradient(#f2a3a5 0.0px,#f2a3a5 17.2px,#f2abad 34.5px,#f2abad 68.9px,#f3b4b5 82.7px,#f4bcbd 94.2px,#f6cdcd 103.4px,#f9dddd 109.1px,#fceeee 114.9px)"></i><i style="left:411px;width:5px;height:125px;background:linear-gradient(#f2a3a5 0.0px,#f2a3a5 14.8px,#f2abad 29.7px,#f2abad 59.3px,#f3b4b5 71.2px,#f4bcbd 81.1px,#f6cdcd 89.0px,#f9dede 94.0px,#fceeee 98.9px)"></i><i style="left:414px;width:5px;height:93px;background:linear-gradient(#f2a3a5 0.0px,#f2a3a5 13.0px,#f2abad 25.9px,#f2abad 51.8px,#f3b4b5 62.2px,#f4bcbd 70.8px,#f6cdcd 77.7px,#f9dddd 82.0px,#fceeee 86.4px)"></i><i style="left:417px;width:5px;height:93px;background:linear-gradient(#f2a9ab 0.0px,#f2a9ab 11.6px,#f3b1b3 23.2px,#f3b1b3 46.4px,#f4b9ba 55.6px,#f4c1c2 63.4px,#f6d0d0 69.5px,#f9e0e0 73.4px,#fcefef 77.3px)"></i><i style="left:420px;width:5px;height:75px;background:linear-gradient(#f5c4c5 0.0px,#f5c4c5 10.0px,#f5c9ca 20.1px,#f5c9ca 30.1px,#f6cbcb 40.1px,#f6d0d0 48.2px,#f7d5d5 54.8px,#f9e0e0 60.2px,#fbeaea 63.5px,#fdf5f5 66.9px)"></i><i style="left:423px;width:4px;height:75px;background:linear-gradient(#f8dbdb 0.0px,#f8dbdb 8.3px,#f9dede 16.6px,#f9dede 24.8px,#f9e1e1 33.1px,#fae4e4 39.7px,#fae7e7 45.2px,#fceded 49.7px,#fdf3f3 52.4px,#fef9f9 55.2px)"></i><i style="left:425px;width:5px;height:51px;background:linear-gradient(#fef8f8 0.0px,#fef8f8 21.7px,#fefcfc 28.9px,#fefcfc 34.7px,#fffdfd 39.6px,#fffdfd 43.4px,#fffefe 45.8px,#fffefe 48.2px)"></i><i style="left:428px;width:6px;height:51px;background:linear-gradient(#f3f3f9 0.0px,#f6f6fb 6.9px,#f8f8fc 13.8px,#fafafd 20.7px,#f9f9fc 27.6px,#fbfbfd 33.2px,#fcfcfe 37.8px,#fdfdfe 41.5px,#fefeff 43.8px,#ffffff 46.1px)"></i><i style="left:432px;width:5px;height:47px;background:linear-gradient(#e2e2f1 0.0px,#e8e8f4 6.6px,#ececf6 13.1px,#f0f0f8 19.7px,#f3f3f9 26.3px,#f7f7fb 31.6px,#f9f9fc 35.9px,#fbfbfd 39.4px,#fdfdfe 41.6px,#ffffff 43.8px)"></i><i style="left:435px;width:5px;height:47px;background:linear-gradient(#cdcde7 0.0px,#d9d9ed 6.2px,#e1e1f0 12.4px,#e7e7f3 18.7px,#ededf6 24.9px,#f3f3f9 29.9px,#f6f6fb 34.0px,#f9f9fc 37.3px,#fcfcfe 39.4px,#ffffff 41.5px)"></i><i style="left:438px;width:5px;height:45px;background:linear-gradient(#cacae5 0.0px,#d6d6eb 6.2px,#dedeef 12.3px,#e5e5f2 18.5px,#ebebf5 24.6px,#f2f2f9 29.5px,#f5f5fa 33.6px,#f8f8fc 36.9px,#fcfcfd 39.0px,#ffffff 41.0px)"></i><i style="left:441px;width:5px;height:45px;background:linear-gradient(#ffffff 0.0px,#ffffff 6.4px,#fefefe 12.8px,#fcfcfe 19.1px,#fdfdfe 25.5px,#fefefe 30.6px,#fdfdfe 34.9px,#fcfcfe 38.3px,#fdfdfe 40.4px,#ffffff 42.5px)"></i><i style="left:444px;width:5px;height:45px;background:linear-gradient(#f7d7d7 0.0px,#f9dfdf 6.3px,#fae7e7 12.6px,#fcefef 18.8px,#fdf3f3 25.1px,#fef7f7 30.1px,#fefbfb 34.3px,#ffffff 37.7px,#ffffff 41.9px)"></i><i style="left:447px;width:4px;height:45px;background:linear-gradient(#fae5e5 0.0px,#fbeaea 5.9px,#fcefef 11.7px,#fdf5f5 17.6px,#fef8f8 23.4px,#fefbfb 28.1px,#fffdfd 32.0px,#fefeff 35.1px,#ffffff 37.1px,#ffffff 39.0px)"></i><i style="left:449px;width:5px;height:62px;background:linear-gradient(#fdf3f3 0.0px,#fdf4f4 6.5px,#fef8f8 13.0px,#fefbfb 19.4px,#fefcfc 25.9px,#ffffff 31.1px,#fefeff 35.4px,#fefefe 38.9px,#ffffff 41.0px,#ffffff 43.2px)"></i><i style="left:452px;width:5px;height:62px;background:linear-gradient(#fdfdfe 0.0px,#fefeff 8.2px,#fdfdfe 16.3px,#fcfcfe 24.5px,#fdfdfe 32.6px,#fbfbfd 39.1px,#fcfcfe 44.6px,#fdfdfe 48.9px,#ffffff 51.7px,#ffffff 54.4px)"></i><i style="left:455px;width:5px;height:64px;background:linear-gradient(#efeff7 0.0px,#f3f3f9 9.1px,#f5f5fa 18.2px,#f6f6fb 27.3px,#f8f8fc 36.4px,#f8f8fb 43.6px,#fafafc 49.7px,#fcfcfe 54.5px,#ffffff 57.6px,#ffffff 60.6px)"></i><i style="left:458px;width:5px;height:64px;background:linear-gradient(#e0e0f0 0.0px,#e8e8f4 9.3px,#ececf6 18.6px,#f0f0f8 27.8px,#f3f3f9 37.1px,#f3f3f9 44.5px,#f7f7fb 50.7px,#fbfbfd 55.7px,#ffffff 58.8px,#ffffff 61.9px)"></i><i style="left:462px;width:5px;height:64px;background:linear-gradient(#d5d5ea 0.0px,#dedeef 9.1px,#e3e3f1 18.2px,#e7e7f3 27.3px,#ececf6 36.5px,#ededf6 43.8px,#f1f1f8 49.8px,#f5f5fa 54.7px,#fafafc 57.7px,#fbfbfd 60.8px)"></i><i style="left:465px;width:5px;height:64px;background:linear-gradient(#c9c9e5 0.0px,#d2d2e9 8.6px,#d8d8ec 17.2px,#dfdfef 25.8px,#e4e4f2 34.4px,#e6e6f3 41.3px,#ebebf5 47.0px,#f0f0f8 51.6px,#f5f5fa 54.5px,#f7f7fb 57.4px)"></i><i style="left:468px;width:5px;height:58px;background:linear-gradient(#bfbfdf 0.0px,#c7c7e3 7.7px,#cecee7 15.5px,#d5d5ea 23.2px,#dcdcee 31.0px,#e0e0f0 37.2px,#e5e5f2 42.4px,#eaeaf5 46.5px,#f0f0f8 49.1px,#f3f3f9 51.7px)"></i><i style="left:471px;width:4px;height:58px;background:linear-gradient(#b5b5da 0.0px,#bcbcde 6.6px,#c4c4e2 13.1px,#cccce6 19.7px,#d3d3ea 26.2px,#d8d8ec 31.4px,#e0e0f0 35.8px,#e6e6f3 39.3px,#ebebf6 41.5px,#efeff7 43.7px)"></i><i style="left:473px;width:5px;height:42px;background:linear-gradient(#adadd6 0.0px,#b3b3d9 5.7px,#babadd 11.3px,#c2c2e1 17.0px,#cacae5 22.7px,#d0d0e8 27.2px,#d9d9ec 31.0px,#e0e0f0 34.0px,#e7e7f3 35.9px,#ececf6 37.8px)"></i><i style="left:476px;width:5px;height:42px;background:linear-gradient(#a5a5d0 0.0px,#aaaad4 5.1px,#b1b1d8 10.2px,#b9b9dc 15.3px,#c1c1e1 20.5px,#c9c9e4 24.6px,#d2d2e9 28.0px,#dadaed 30.7px,#e2e2f1 32.4px,#e8e8f4 34.1px)"></i><i style="left:479px;width:5px;height:45px;background:linear-gradient(#9c9ccb 0.0px,#a0a0ce 5.2px,#a8a8d3 10.5px,#b0b0d7 15.7px,#b8b8dc 20.9px,#c0c0e0 25.1px,#cacae5 28.6px,#d3d3ea 31.4px,#ddddee 33.2px,#e4e4f2 34.9px)"></i><i style="left:482px;width:5px;height:45px;background:linear-gradient(#9292c5 0.0px,#9696c8 6.0px,#9f9fcd 12.1px,#a7a7d2 18.1px,#afafd7 24.1px,#b8b8dc 29.0px,#c2c2e1 33.0px,#cccce6 36.2px,#d6d6eb 38.2px,#e0e0f0 40.2px)"></i><i style="left:486px;width:5px;height:45px;background:linear-gradient(#8a8bc1 0.0px,#8f8fc4 6.0px,#9797c8 12.0px,#a0a0ce 18.1px,#a8a8d3 24.1px,#b1b1d8 28.9px,#bbbbdd 32.9px,#c5c5e2 36.1px,#d0d0e8 38.1px,#dcdcee 40.1px)"></i><i style="left:489px;width:5px;height:45px;background:linear-gradient(#8283be 0.0px,#8788c0 5.2px,#9090c4 10.4px,#9999c9 15.6px,#a1a1ce 20.8px,#ababd4 24.9px,#b5b5da 28.4px,#bebedf 31.1px,#cccce6 32.9px,#d9d9ec 34.6px)"></i><i style="left:492px;width:5px;height:34px;background:linear-gradient(#7a7cba 0.0px,#7e80bc 4.6px,#8889c0 9.3px,#9191c5 13.9px,#9a9aca 18.6px,#a4a4d0 22.3px,#afafd6 25.4px,#b7b7dc 27.9px,#c6c6e3 29.4px,#d6d6eb 31.0px)"></i><i style="left:495px;width:5px;height:34px;background:linear-gradient(#7275b7 0.0px,#7779b9 4.4px,#8082bd 8.8px,#8a8bc1 13.2px,#9393c6 17.6px,#9e9ecd 21.1px,#a9a9d3 24.0px,#b2b2d9 26.4px,#c1c1e1 27.8px,#d2d2e9 29.3px)"></i><i style="left:498px;width:5px;height:47px;background:linear-gradient(#6a6eb3 0.0px,#6f72b5 4.9px,#787bb9 9.7px,#8284be 14.6px,#8c8cc2 19.5px,#9898c9 23.4px,#a4a4d0 26.6px,#acacd5 29.2px,#bcbcde 30.8px,#cfcfe8 32.5px)"></i><i style="left:501px;width:4px;height:47px;background:linear-gradient(#6167af 0.0px,#666bb2 6.1px,#7074b6 12.2px,#7a7cba 18.3px,#8385be 24.3px,#9292c5 29.2px,#9e9ecd 33.3px,#a7a7d2 36.5px,#b7b7dc 38.5px,#cccce6 40.6px)"></i><i style="left:504px;width:5px;height:47px;background:linear-gradient(#555caa 0.0px,#595fac 6.7px,#6368b0 13.4px,#6e72b5 20.2px,#787ab9 26.9px,#8788c0 32.3px,#9696c7 36.7px,#a0a0ce 40.3px,#b3b3d9 42.6px,#c8c8e4 44.8px)"></i><i style="left:507px;width:5px;height:47px;background:linear-gradient(#4a52a6 0.0px,#4f56a8 6.8px,#575dab 13.6px,#6167af 20.3px,#6b6fb4 27.1px,#7c7ebb 32.5px,#8c8dc2 37.1px,#9999c9 40.7px,#adadd5 42.9px,#c3c3e2 45.2px)"></i><i style="left:510px;width:5px;height:47px;background:linear-gradient(#4750a5 0.0px,#4951a5 6.7px,#4f56a8 13.4px,#575eab 20.1px,#6065af 26.8px,#7175b6 32.2px,#8384be 36.6px,#9292c5 40.2px,#a8a8d2 42.4px,#bfbfe0 44.7px)"></i><i style="left:513px;width:4px;height:47px;background:linear-gradient(#444fa4 0.0px,#4650a4 6.5px,#4951a6 13.0px,#5057a8 19.4px,#575dab 25.9px,#686cb2 31.1px,#7a7dba 35.4px,#8c8cc2 38.9px,#a4a4d0 41.1px,#bcbcde 43.2px)"></i><i style="left:515px;width:6px;height:64px;background:linear-gradient(#454fa4 0.0px,#4750a5 7.1px,#4a52a6 14.2px,#535aa9 21.4px,#595fac 28.5px,#6a6fb3 34.2px,#7c7ebb 38.9px,#8e8ec3 42.7px,#a5a5d1 45.1px,#bebedf 47.5px)"></i><i style="left:519px;width:6px;height:64px;background:linear-gradient(#e3e3f2 0.0px,#e5e5f2 8.6px,#e4e4f2 17.2px,#e6e6f3 25.9px,#e4e4f2 34.5px,#e7e7f4 41.4px,#eaeaf5 47.1px,#eaeaf5 51.7px,#efeff7 54.6px,#f3f3f9 57.5px)"></i></div>
<svg width="1417" height="659" viewBox="0 0 1417 659">
<clipPath id="clipA"><rect x="75" y="33.4" width="523.3" height="220.8"/></clipPath>
<g clip-path="url(#clipA)">

<path d="M75 211.9 L82.2 211 L88.4 213.7 L94.4 212.5 L100.2 223.7 L105.9 207.4 L111.7 181 L118.1 177.3 L123.9 168.8 L130.3 178.2 L136.3 163.3 L141.7 173.7 L148.1 178.2 L153.9 188.2 L159.9 183.3 L165.9 194.6 L171.8 167.3 L178.1 183.7 L184 244.7 L190 214.6 L196 168.8 L201.8 200.1 L207.5 159.1 L213.8 169.1 L219.8 158.8 L226.2 178.2 L231.7 211.9 L237.7 153.7 L244.4 150.4 L249.9 151.5 L256.3 157.3 L261.7 156.9 L268.1 158.2 L273.5 156.9 L279.9 173.7 L285.4 175.1 L291.8 174.6 L297.8 156.4 L303.6 170.1 L309.4 181.9 L315.4 177 L321.4 181.9 L327.6 158.2 L333.5 163.1 L339.4 160.6 L345.4 169.1 L351.4 178.8 L357.2 162.8 L363.2 175.5 L369.6 165.5 L375.4 158.8 L381.3 172.8 L387.3 175.5 L393.6 161.3 L399.5 153.3 L405.5 153.7 L411.5 163.3 L417.3 161.3 L423.1 155.9 L429.1 163.3 L435.1 155.1 L441.3 175.5 L447.3 169.1 L453.4 172.8 L459.2 157.7 L464.5 157.2 L470.8 160.6 L477.2 165.3 L483.6 155.7 L489.5 123.9 L495.9 105.8 L500.6 82.5 L507.4 78.2 L513.7 73.5 L519.7 76.5 L525 70.8 L530.7 93.1 L537.1 95.6 L543.5 88.8 L549 72.9 L554.7 65.5 L561.1 76.1 L567.4 65.1 L573.2 61.7 L579.1 77.8 L585.5 78.6 L590.8 75.7 L598.3 95.6 L600.3 95.6 L600.3 256.2 L73 256.2 L73 211.9 Z" fill="#fff"/>
<path d="M75 211.9 L82.2 211 L88.4 213.7 L94.4 212.5 L100.2 223.7 L105.9 207.4 L111.7 181 L118.1 177.3 L123.9 168.8 L130.3 178.2 L136.3 163.3 L141.7 173.7 L148.1 178.2 L153.9 188.2 L159.9 183.3 L165.9 194.6 L171.8 167.3 L178.1 183.7 L184 244.7 L190 214.6 L196 168.8 L201.8 200.1 L207.5 159.1 L213.8 169.1 L219.8 158.8 L226.2 178.2 L231.7 211.9 L237.7 153.7 L244.4 150.4 L249.9 151.5 L256.3 157.3 L261.7 156.9 L268.1 158.2 L273.5 156.9 L279.9 173.7 L285.4 175.1 L291.8 174.6 L297.8 156.4 L303.6 170.1 L309.4 181.9 L315.4 177 L321.4 181.9 L327.6 158.2 L333.5 163.1 L339.4 160.6 L345.4 169.1 L351.4 178.8 L357.2 162.8 L363.2 175.5 L369.6 165.5 L375.4 158.8 L381.3 172.8 L387.3 175.5 L393.6 161.3 L399.5 153.3 L405.5 153.7 L411.5 163.3 L417.3 161.3 L423.1 155.9 L429.1 163.3 L435.1 155.1 L441.3 175.5 L447.3 169.1 L453.4 172.8 L459.2 157.7 L464.5 157.2 L470.8 160.6 L477.2 165.3 L483.6 155.7 L489.5 123.9 L495.9 105.8 L500.6 82.5 L507.4 78.2 L513.7 73.5 L519.7 76.5 L525 70.8 L530.7 93.1 L537.1 95.6 L543.5 88.8 L549 72.9 L554.7 65.5 L561.1 76.1 L567.4 65.1 L573.2 61.7 L579.1 77.8 L585.5 78.6 L590.8 75.7 L598.3 95.6" fill="none" stroke="#111" stroke-width="1.8" stroke-linejoin="miter" stroke-miterlimit="3"/>
</g>
<path d="M75 33.4H598.3" stroke="#999" stroke-width="1" fill="none"/>
<path d="M75 33.4V254.2H598.3V33.4" stroke="#222" stroke-width="2" fill="none"/>
<path d="M104.9 254.2V249.2M254.4 254.2V249.2M403.9 254.2V249.2M553.4 254.2V249.2M598.3 33.4H593.3M598.3 107H593.3M598.3 180.6H593.3M598.3 254.2H593.3" stroke="#222" stroke-width="1.5" fill="none"/>
<text x="104.9" y="282.5" font-size="24" text-anchor="middle" textLength="42.7" lengthAdjust="spacingAndGlyphs">750</text>
<text x="254.4" y="282.5" font-size="24" text-anchor="middle" textLength="42.7" lengthAdjust="spacingAndGlyphs">700</text>
<text x="403.9" y="282.5" font-size="24" text-anchor="middle" textLength="42.7" lengthAdjust="spacingAndGlyphs">650</text>
<text x="553.4" y="282.5" font-size="24" text-anchor="middle" textLength="42.7" lengthAdjust="spacingAndGlyphs">600</text>
<text x="67.8" y="41.7" font-size="24" text-anchor="end" textLength="14.3" lengthAdjust="spacingAndGlyphs">0</text>
<text x="67.8" y="115.3" font-size="24" text-anchor="end" textLength="36.4" lengthAdjust="spacingAndGlyphs">-10</text>
<text x="67.8" y="188.9" font-size="24" text-anchor="end" textLength="36.4" lengthAdjust="spacingAndGlyphs">-20</text>
<text x="67.8" y="262.5" font-size="24" text-anchor="end" textLength="36.4" lengthAdjust="spacingAndGlyphs">-30</text>
<text x="336.6" y="308.5" font-size="24" text-anchor="middle" textLength="150.5" lengthAdjust="spacingAndGlyphs">distance[km]</text>
<text transform="translate(22.2 143.8) rotate(-90)" x="0" y="0" font-size="24" text-anchor="middle" textLength="112.7" lengthAdjust="spacingAndGlyphs">depth [m]</text>
<linearGradient id="cgA" x1="0" y1="0" x2="0" y2="1"><stop offset="0.000" stop-color="#801a1c"/><stop offset="0.050" stop-color="#a01f22"/><stop offset="0.100" stop-color="#c82028"/><stop offset="0.135" stop-color="#e8202a"/><stop offset="0.170" stop-color="#ee3a26"/><stop offset="0.200" stop-color="#f06a22"/><stop offset="0.235" stop-color="#f5901e"/><stop offset="0.265" stop-color="#f7b81a"/><stop offset="0.300" stop-color="#f3e41c"/><stop offset="0.370" stop-color="#d6dc2a"/><stop offset="0.400" stop-color="#bcd030"/><stop offset="0.440" stop-color="#9cb246"/><stop offset="0.480" stop-color="#62ac52"/><stop offset="0.520" stop-color="#54ae78"/><stop offset="0.570" stop-color="#5ab8b0"/><stop offset="0.640" stop-color="#5cc0d4"/><stop offset="0.710" stop-color="#40c0ea"/><stop offset="0.755" stop-color="#3ab8e6"/><stop offset="0.820" stop-color="#2592d0"/><stop offset="0.880" stop-color="#1480c0"/><stop offset="0.900" stop-color="#3a6ab0"/><stop offset="0.930" stop-color="#6a58a8"/><stop offset="0.960" stop-color="#9a50a0"/><stop offset="1.000" stop-color="#c44c9c"/></linearGradient><rect x="605.2" y="33.4" width="15.5" height="220.8" fill="url(#cgA)"/>
<rect x="605.2" y="33.4" width="15.5" height="220.8" fill="none" stroke="#222" stroke-width="2"/>
<text x="627.9" y="41.7" font-size="24" textLength="35.6" lengthAdjust="spacingAndGlyphs">1.5</text>
<text x="627.9" y="115.3" font-size="24" textLength="14.5" lengthAdjust="spacingAndGlyphs">1</text>
<text x="627.9" y="188.9" font-size="24" textLength="36.5" lengthAdjust="spacingAndGlyphs">0.5</text>
<text x="627.9" y="262.5" font-size="24" textLength="14.3" lengthAdjust="spacingAndGlyphs">0</text>
<path d="M620.7 33.4H616.7M620.7 107H616.7M620.7 180.6H616.7M620.7 254.2H616.7" stroke="#222" stroke-width="1.5" fill="none"/>
<text x="4.5" y="24.3" font-size="29" font-weight="bold">A</text>
<clipPath id="clipB"><rect x="802" y="33.4" width="523.2" height="220.8"/></clipPath>
<g clip-path="url(#clipB)">

<path d="M802 211.9 L809.2 211 L815.4 213.7 L821.4 212.5 L827.2 223.7 L832.9 207.4 L838.7 181 L845.1 177.3 L850.9 168.8 L857.3 178.2 L863.3 163.3 L868.7 173.7 L875.1 178.2 L880.9 188.2 L886.9 183.3 L892.9 194.6 L898.8 167.3 L905.1 183.7 L911 244.7 L917 214.6 L923 168.8 L928.8 200.1 L934.5 159.1 L940.8 169.1 L946.8 158.8 L953.2 178.2 L958.7 211.9 L964.7 153.7 L971.4 150.4 L976.9 151.5 L983.3 157.3 L988.7 156.9 L995.1 158.2 L1000.5 156.9 L1006.9 173.7 L1012.4 175.1 L1018.8 174.6 L1024.8 156.4 L1030.6 170.1 L1036.4 181.9 L1042.4 177 L1048.4 181.9 L1054.6 158.2 L1060.5 163.1 L1066.3 160.6 L1072.3 169.1 L1078.3 178.8 L1084.1 162.8 L1090.1 175.5 L1096.5 165.5 L1102.3 158.8 L1108.2 172.8 L1114.2 175.5 L1120.5 161.3 L1126.4 153.3 L1132.4 153.7 L1138.4 163.3 L1144.2 161.3 L1150 155.9 L1156 163.3 L1162 155.1 L1168.2 175.5 L1174.2 169.1 L1180.3 172.8 L1186.1 157.7 L1191.4 157.2 L1197.7 160.6 L1204.1 165.3 L1210.5 155.7 L1216.4 123.9 L1222.8 105.8 L1227.5 82.5 L1234.3 78.2 L1240.6 73.5 L1246.6 76.5 L1251.9 70.8 L1257.6 93.1 L1264 95.6 L1270.4 88.8 L1275.9 72.9 L1281.6 65.5 L1288 76.1 L1294.3 65.1 L1300.1 61.7 L1306 77.8 L1312.4 78.6 L1317.7 75.7 L1325.2 95.6 L1327.2 95.6 L1327.2 256.2 L800 256.2 L800 211.9 Z" fill="#fff"/>
<path d="M802 211.9 L809.2 211 L815.4 213.7 L821.4 212.5 L827.2 223.7 L832.9 207.4 L838.7 181 L845.1 177.3 L850.9 168.8 L857.3 178.2 L863.3 163.3 L868.7 173.7 L875.1 178.2 L880.9 188.2 L886.9 183.3 L892.9 194.6 L898.8 167.3 L905.1 183.7 L911 244.7 L917 214.6 L923 168.8 L928.8 200.1 L934.5 159.1 L940.8 169.1 L946.8 158.8 L953.2 178.2 L958.7 211.9 L964.7 153.7 L971.4 150.4 L976.9 151.5 L983.3 157.3 L988.7 156.9 L995.1 158.2 L1000.5 156.9 L1006.9 173.7 L1012.4 175.1 L1018.8 174.6 L1024.8 156.4 L1030.6 170.1 L1036.4 181.9 L1042.4 177 L1048.4 181.9 L1054.6 158.2 L1060.5 163.1 L1066.3 160.6 L1072.3 169.1 L1078.3 178.8 L1084.1 162.8 L1090.1 175.5 L1096.5 165.5 L1102.3 158.8 L1108.2 172.8 L1114.2 175.5 L1120.5 161.3 L1126.4 153.3 L1132.4 153.7 L1138.4 163.3 L1144.2 161.3 L1150 155.9 L1156 163.3 L1162 155.1 L1168.2 175.5 L1174.2 169.1 L1180.3 172.8 L1186.1 157.7 L1191.4 157.2 L1197.7 160.6 L1204.1 165.3 L1210.5 155.7 L1216.4 123.9 L1222.8 105.8 L1227.5 82.5 L1234.3 78.2 L1240.6 73.5 L1246.6 76.5 L1251.9 70.8 L1257.6 93.1 L1264 95.6 L1270.4 88.8 L1275.9 72.9 L1281.6 65.5 L1288 76.1 L1294.3 65.1 L1300.1 61.7 L1306 77.8 L1312.4 78.6 L1317.7 75.7 L1325.2 95.6" fill="none" stroke="#111" stroke-width="1.8" stroke-linejoin="miter" stroke-miterlimit="3"/>
</g>
<path d="M802 33.4H1325.2" stroke="#999" stroke-width="1" fill="none"/>
<path d="M802 33.4V254.2H1325.2V33.4" stroke="#222" stroke-width="2" fill="none"/>
<path d="M831.9 254.2V249.2M981.4 254.2V249.2M1130.9 254.2V249.2M1280.4 254.2V249.2M1325.2 33.4H1320.2M1325.2 107H1320.2M1325.2 180.6H1320.2M1325.2 254.2H1320.2" stroke="#222" stroke-width="1.5" fill="none"/>
<text x="831.9" y="282.5" font-size="24" text-anchor="middle" textLength="42.7" lengthAdjust="spacingAndGlyphs">750</text>
<text x="981.4" y="282.5" font-size="24" text-anchor="middle" textLength="42.7" lengthAdjust="spacingAndGlyphs">700</text>
<text x="1130.9" y="282.5" font-size="24" text-anchor="middle" textLength="42.7" lengthAdjust="spacingAndGlyphs">650</text>
<text x="1280.4" y="282.5" font-size="24" text-anchor="middle" textLength="42.7" lengthAdjust="spacingAndGlyphs">600</text>
<text x="794.8" y="41.7" font-size="24" text-anchor="end" textLength="14.3" lengthAdjust="spacingAndGlyphs">0</text>
<text x="794.8" y="115.3" font-size="24" text-anchor="end" textLength="36.4" lengthAdjust="spacingAndGlyphs">-10</text>
<text x="794.8" y="188.9" font-size="24" text-anchor="end" textLength="36.4" lengthAdjust="spacingAndGlyphs">-20</text>
<text x="794.8" y="262.5" font-size="24" text-anchor="end" textLength="36.4" lengthAdjust="spacingAndGlyphs">-30</text>
<text x="1063.6" y="308.5" font-size="24" text-anchor="middle" textLength="150.5" lengthAdjust="spacingAndGlyphs">distance[km]</text>
<text transform="translate(749.2 143.8) rotate(-90)" x="0" y="0" font-size="24" text-anchor="middle" textLength="112.7" lengthAdjust="spacingAndGlyphs">depth [m]</text>
<linearGradient id="cgB" x1="0" y1="0" x2="0" y2="1"><stop offset="0.000" stop-color="#7c1418"/><stop offset="0.050" stop-color="#921a1e"/><stop offset="0.100" stop-color="#c01e26"/><stop offset="0.140" stop-color="#e31e26"/><stop offset="0.200" stop-color="#ea3036"/><stop offset="0.250" stop-color="#ec4a50"/><stop offset="0.300" stop-color="#ee7a7e"/><stop offset="0.370" stop-color="#f2a8aa"/><stop offset="0.430" stop-color="#f6d0d0"/><stop offset="0.500" stop-color="#ffffff"/><stop offset="0.550" stop-color="#e0e0f0"/><stop offset="0.600" stop-color="#b8b8dc"/><stop offset="0.660" stop-color="#9090c4"/><stop offset="0.730" stop-color="#5a60ac"/><stop offset="0.760" stop-color="#4a52a6"/><stop offset="0.850" stop-color="#3a4aa0"/><stop offset="0.940" stop-color="#2e3c94"/><stop offset="1.000" stop-color="#262e80"/></linearGradient><rect x="1332.5" y="33.4" width="14.8" height="220.8" fill="url(#cgB)"/>
<rect x="1332.5" y="33.4" width="14.8" height="220.8" fill="none" stroke="#222" stroke-width="2"/>
<text x="1354.5" y="41.7" font-size="24" textLength="34.7" lengthAdjust="spacingAndGlyphs">0.1</text>
<text x="1354.5" y="96.9" font-size="24" textLength="49.8" lengthAdjust="spacingAndGlyphs">0.05</text>
<text x="1354.5" y="152.1" font-size="24" textLength="14.3" lengthAdjust="spacingAndGlyphs">0</text>
<text x="1354.5" y="207.3" font-size="24" textLength="58.8" lengthAdjust="spacingAndGlyphs">-0.05</text>
<text x="1354.5" y="262.5" font-size="24" textLength="44.5" lengthAdjust="spacingAndGlyphs">-0.1</text>
<path d="M1347.3 33.4H1343.3M1347.3 88.6H1343.3M1347.3 143.8H1343.3M1347.3 199H1343.3M1347.3 254.2H1343.3" stroke="#222" stroke-width="1.5" fill="none"/>
<text x="732.7" y="23.7" font-size="29" font-weight="bold">B</text>
<clipPath id="clipC"><rect x="78.5" y="374" width="523.3" height="221.6"/></clipPath>
<g clip-path="url(#clipC)">

<path d="M78.5 553.1 L85.7 552.2 L91.9 555 L97.9 553.7 L103.7 565 L109.4 548.6 L115.2 522.1 L121.6 518.4 L127.4 509.9 L133.8 519.3 L139.8 504.4 L145.2 514.8 L151.6 519.3 L157.4 529.4 L163.4 524.4 L169.4 535.8 L175.3 508.4 L181.6 524.8 L187.5 586.1 L193.5 555.9 L199.5 509.9 L205.3 541.3 L211 500.2 L217.3 510.2 L223.3 499.9 L229.7 519.3 L235.2 553.1 L241.2 494.7 L247.9 491.4 L253.4 492.5 L259.8 498.3 L265.2 497.9 L271.6 499.3 L277 497.9 L283.4 514.8 L288.9 516.2 L295.3 515.7 L301.3 497.4 L307.1 511.2 L312.9 523 L318.9 518.1 L324.9 523 L331.1 499.3 L337 504.2 L342.9 501.7 L348.9 510.2 L354.9 519.9 L360.7 503.9 L366.7 516.6 L373.1 506.6 L378.9 499.9 L384.8 513.9 L390.8 516.6 L397.1 502.4 L403 494.3 L409 494.7 L415 504.4 L420.8 502.4 L426.6 496.9 L432.6 504.4 L438.6 496.1 L444.8 516.6 L450.8 510.2 L456.9 513.9 L462.7 498.8 L468 498.2 L474.3 501.7 L480.7 506.4 L487.1 496.7 L493 464.8 L499.4 446.7 L504.1 423.3 L510.9 419 L517.2 414.2 L523.2 417.3 L528.5 411.5 L534.2 433.9 L540.6 436.4 L547 429.6 L552.5 413.6 L558.2 406.2 L564.6 416.9 L570.9 405.8 L576.7 402.4 L582.6 418.6 L589 419.4 L594.3 416.5 L601.8 436.4 L603.8 436.4 L603.8 597.6 L76.5 597.6 L76.5 553.1 Z" fill="#fff"/>
<path d="M78.5 553.1 L85.7 552.2 L91.9 555 L97.9 553.7 L103.7 565 L109.4 548.6 L115.2 522.1 L121.6 518.4 L127.4 509.9 L133.8 519.3 L139.8 504.4 L145.2 514.8 L151.6 519.3 L157.4 529.4 L163.4 524.4 L169.4 535.8 L175.3 508.4 L181.6 524.8 L187.5 586.1 L193.5 555.9 L199.5 509.9 L205.3 541.3 L211 500.2 L217.3 510.2 L223.3 499.9 L229.7 519.3 L235.2 553.1 L241.2 494.7 L247.9 491.4 L253.4 492.5 L259.8 498.3 L265.2 497.9 L271.6 499.3 L277 497.9 L283.4 514.8 L288.9 516.2 L295.3 515.7 L301.3 497.4 L307.1 511.2 L312.9 523 L318.9 518.1 L324.9 523 L331.1 499.3 L337 504.2 L342.9 501.7 L348.9 510.2 L354.9 519.9 L360.7 503.9 L366.7 516.6 L373.1 506.6 L378.9 499.9 L384.8 513.9 L390.8 516.6 L397.1 502.4 L403 494.3 L409 494.7 L415 504.4 L420.8 502.4 L426.6 496.9 L432.6 504.4 L438.6 496.1 L444.8 516.6 L450.8 510.2 L456.9 513.9 L462.7 498.8 L468 498.2 L474.3 501.7 L480.7 506.4 L487.1 496.7 L493 464.8 L499.4 446.7 L504.1 423.3 L510.9 419 L517.2 414.2 L523.2 417.3 L528.5 411.5 L534.2 433.9 L540.6 436.4 L547 429.6 L552.5 413.6 L558.2 406.2 L564.6 416.9 L570.9 405.8 L576.7 402.4 L582.6 418.6 L589 419.4 L594.3 416.5 L601.8 436.4" fill="none" stroke="#111" stroke-width="1.8" stroke-linejoin="miter" stroke-miterlimit="3"/>
</g>
<path d="M78.5 374H601.8" stroke="#999" stroke-width="1" fill="none"/>
<path d="M78.5 374V595.6H601.8V374" stroke="#222" stroke-width="2" fill="none"/>
<path d="M108.4 595.6V590.6M257.9 595.6V590.6M407.4 595.6V590.6M556.9 595.6V590.6M601.8 374H596.8M601.8 447.9H596.8M601.8 521.7H596.8M601.8 595.6H596.8" stroke="#222" stroke-width="1.5" fill="none"/>
<text x="108.4" y="623.9" font-size="24" text-anchor="middle" textLength="42.7" lengthAdjust="spacingAndGlyphs">750</text>
<text x="257.9" y="623.9" font-size="24" text-anchor="middle" textLength="42.7" lengthAdjust="spacingAndGlyphs">700</text>
<text x="407.4" y="623.9" font-size="24" text-anchor="middle" textLength="42.7" lengthAdjust="spacingAndGlyphs">650</text>
<text x="556.9" y="623.9" font-size="24" text-anchor="middle" textLength="42.7" lengthAdjust="spacingAndGlyphs">600</text>
<text x="71.3" y="382.3" font-size="24" text-anchor="end" textLength="14.3" lengthAdjust="spacingAndGlyphs">0</text>
<text x="71.3" y="456.2" font-size="24" text-anchor="end" textLength="36.4" lengthAdjust="spacingAndGlyphs">-10</text>
<text x="71.3" y="530" font-size="24" text-anchor="end" textLength="36.4" lengthAdjust="spacingAndGlyphs">-20</text>
<text x="71.3" y="603.9" font-size="24" text-anchor="end" textLength="36.4" lengthAdjust="spacingAndGlyphs">-30</text>
<text x="340.1" y="649.9" font-size="24" text-anchor="middle" textLength="150.5" lengthAdjust="spacingAndGlyphs">distance[km]</text>
<text transform="translate(25.7 484.8) rotate(-90)" x="0" y="0" font-size="24" text-anchor="middle" textLength="112.7" lengthAdjust="spacingAndGlyphs">depth [m]</text>
<linearGradient id="cgC" x1="0" y1="0" x2="0" y2="1"><stop offset="0.000" stop-color="#7c1418"/><stop offset="0.050" stop-color="#921a1e"/><stop offset="0.100" stop-color="#c01e26"/><stop offset="0.140" stop-color="#e31e26"/><stop offset="0.200" stop-color="#ea3036"/><stop offset="0.250" stop-color="#ec4a50"/><stop offset="0.300" stop-color="#ee7a7e"/><stop offset="0.370" stop-color="#f2a8aa"/><stop offset="0.430" stop-color="#f6d0d0"/><stop offset="0.500" stop-color="#ffffff"/><stop offset="0.550" stop-color="#e0e0f0"/><stop offset="0.600" stop-color="#b8b8dc"/><stop offset="0.660" stop-color="#9090c4"/><stop offset="0.730" stop-color="#5a60ac"/><stop offset="0.760" stop-color="#4a52a6"/><stop offset="0.850" stop-color="#3a4aa0"/><stop offset="0.940" stop-color="#2e3c94"/><stop offset="1.000" stop-color="#262e80"/></linearGradient><rect x="609.6" y="374" width="15" height="221.6" fill="url(#cgC)"/>
<rect x="609.6" y="374" width="15" height="221.6" fill="none" stroke="#222" stroke-width="2"/>
<text x="631.8" y="423.9" font-size="24" textLength="49.8" lengthAdjust="spacingAndGlyphs">0.05</text>
<text x="631.8" y="493.1" font-size="24" textLength="14.3" lengthAdjust="spacingAndGlyphs">0</text>
<text x="631.8" y="562.3" font-size="24" textLength="58.8" lengthAdjust="spacingAndGlyphs">-0.05</text>
<path d="M624.6 415.6H620.6M624.6 484.8H620.6M624.6 554H620.6" stroke="#222" stroke-width="1.5" fill="none"/>
<text x="5.4" y="364.6" font-size="29" font-weight="bold">C</text>
<clipPath id="clipD"><rect x="801" y="373.8" width="523.2" height="221.8"/></clipPath>
<g clip-path="url(#clipD)">

<path d="M801 553.1 L808.2 552.2 L814.4 554.9 L820.4 553.7 L826.2 565 L831.9 548.6 L837.7 522.1 L844.1 518.4 L849.9 509.8 L856.3 519.3 L862.3 504.3 L867.7 514.7 L874.1 519.3 L879.9 529.3 L885.9 524.4 L891.9 535.7 L897.8 508.3 L904.1 524.8 L910 586.1 L916 555.8 L922 509.8 L927.8 541.3 L933.5 500.1 L939.8 510.1 L945.8 499.8 L952.2 519.3 L957.7 553.1 L963.7 494.6 L970.4 491.3 L975.9 492.4 L982.3 498.3 L987.7 497.9 L994.1 499.2 L999.5 497.9 L1005.9 514.7 L1011.4 516.1 L1017.8 515.6 L1023.8 497.4 L1029.6 511.1 L1035.4 523 L1041.4 518.1 L1047.4 523 L1053.6 499.2 L1059.5 504.1 L1065.3 501.6 L1071.3 510.1 L1077.3 519.9 L1083.1 503.8 L1089.1 516.5 L1095.5 506.5 L1101.3 499.8 L1107.2 513.8 L1113.2 516.5 L1119.5 502.3 L1125.4 494.2 L1131.4 494.6 L1137.4 504.3 L1143.2 502.3 L1149 496.9 L1155 504.3 L1161 496.1 L1167.2 516.5 L1173.2 510.1 L1179.3 513.8 L1185.1 498.7 L1190.4 498.2 L1196.7 501.6 L1203.1 506.3 L1209.5 496.7 L1215.4 464.7 L1221.8 446.5 L1226.5 423.1 L1233.3 418.8 L1239.6 414.1 L1245.6 417.1 L1250.9 411.4 L1256.6 433.8 L1263 436.3 L1269.4 429.5 L1274.9 413.5 L1280.6 406 L1287 416.7 L1293.3 405.6 L1299.1 402.2 L1305 418.4 L1311.4 419.2 L1316.7 416.3 L1324.2 436.3 L1326.2 436.3 L1326.2 597.6 L799 597.6 L799 553.1 Z" fill="#fff"/>
<path d="M801 553.1 L808.2 552.2 L814.4 554.9 L820.4 553.7 L826.2 565 L831.9 548.6 L837.7 522.1 L844.1 518.4 L849.9 509.8 L856.3 519.3 L862.3 504.3 L867.7 514.7 L874.1 519.3 L879.9 529.3 L885.9 524.4 L891.9 535.7 L897.8 508.3 L904.1 524.8 L910 586.1 L916 555.8 L922 509.8 L927.8 541.3 L933.5 500.1 L939.8 510.1 L945.8 499.8 L952.2 519.3 L957.7 553.1 L963.7 494.6 L970.4 491.3 L975.9 492.4 L982.3 498.3 L987.7 497.9 L994.1 499.2 L999.5 497.9 L1005.9 514.7 L1011.4 516.1 L1017.8 515.6 L1023.8 497.4 L1029.6 511.1 L1035.4 523 L1041.4 518.1 L1047.4 523 L1053.6 499.2 L1059.5 504.1 L1065.3 501.6 L1071.3 510.1 L1077.3 519.9 L1083.1 503.8 L1089.1 516.5 L1095.5 506.5 L1101.3 499.8 L1107.2 513.8 L1113.2 516.5 L1119.5 502.3 L1125.4 494.2 L1131.4 494.6 L1137.4 504.3 L1143.2 502.3 L1149 496.9 L1155 504.3 L1161 496.1 L1167.2 516.5 L1173.2 510.1 L1179.3 513.8 L1185.1 498.7 L1190.4 498.2 L1196.7 501.6 L1203.1 506.3 L1209.5 496.7 L1215.4 464.7 L1221.8 446.5 L1226.5 423.1 L1233.3 418.8 L1239.6 414.1 L1245.6 417.1 L1250.9 411.4 L1256.6 433.8 L1263 436.3 L1269.4 429.5 L1274.9 413.5 L1280.6 406 L1287 416.7 L1293.3 405.6 L1299.1 402.2 L1305 418.4 L1311.4 419.2 L1316.7 416.3 L1324.2 436.3" fill="none" stroke="#111" stroke-width="1.8" stroke-linejoin="miter" stroke-miterlimit="3"/>
</g>
<path d="M801 373.8H1324.2" stroke="#999" stroke-width="1" fill="none"/>
<path d="M801 373.8V595.6H1324.2V373.8" stroke="#222" stroke-width="2" fill="none"/>
<path d="M830.9 595.6V590.6M980.4 595.6V590.6M1129.9 595.6V590.6M1279.4 595.6V590.6M1324.2 373.8H1319.2M1324.2 447.7H1319.2M1324.2 521.7H1319.2M1324.2 595.6H1319.2" stroke="#222" stroke-width="1.5" fill="none"/>
<text x="830.9" y="623.9" font-size="24" text-anchor="middle" textLength="42.7" lengthAdjust="spacingAndGlyphs">750</text>
<text x="980.4" y="623.9" font-size="24" text-anchor="middle" textLength="42.7" lengthAdjust="spacingAndGlyphs">700</text>
<text x="1129.9" y="623.9" font-size="24" text-anchor="middle" textLength="42.7" lengthAdjust="spacingAndGlyphs">650</text>
<text x="1279.4" y="623.9" font-size="24" text-anchor="middle" textLength="42.7" lengthAdjust="spacingAndGlyphs">600</text>
<text x="793.8" y="382.1" font-size="24" text-anchor="end" textLength="14.3" lengthAdjust="spacingAndGlyphs">0</text>
<text x="793.8" y="456" font-size="24" text-anchor="end" textLength="36.4" lengthAdjust="spacingAndGlyphs">-10</text>
<text x="793.8" y="530" font-size="24" text-anchor="end" textLength="36.4" lengthAdjust="spacingAndGlyphs">-20</text>
<text x="793.8" y="603.9" font-size="24" text-anchor="end" textLength="36.4" lengthAdjust="spacingAndGlyphs">-30</text>
<text x="1062.6" y="649.9" font-size="24" text-anchor="middle" textLength="150.5" lengthAdjust="spacingAndGlyphs">distance[km]</text>
<text transform="translate(748.2 484.7) rotate(-90)" x="0" y="0" font-size="24" text-anchor="middle" textLength="112.7" lengthAdjust="spacingAndGlyphs">depth [m]</text>
<linearGradient id="cgD" x1="0" y1="0" x2="0" y2="1"><stop offset="0.000" stop-color="#7c1418"/><stop offset="0.050" stop-color="#921a1e"/><stop offset="0.100" stop-color="#c01e26"/><stop offset="0.140" stop-color="#e31e26"/><stop offset="0.200" stop-color="#ea3036"/><stop offset="0.250" stop-color="#ec4a50"/><stop offset="0.300" stop-color="#ee7a7e"/><stop offset="0.370" stop-color="#f2a8aa"/><stop offset="0.430" stop-color="#f6d0d0"/><stop offset="0.500" stop-color="#ffffff"/><stop offset="0.550" stop-color="#e0e0f0"/><stop offset="0.600" stop-color="#b8b8dc"/><stop offset="0.660" stop-color="#9090c4"/><stop offset="0.730" stop-color="#5a60ac"/><stop offset="0.760" stop-color="#4a52a6"/><stop offset="0.850" stop-color="#3a4aa0"/><stop offset="0.940" stop-color="#2e3c94"/><stop offset="1.000" stop-color="#262e80"/></linearGradient><rect x="1331.6" y="373.8" width="15" height="221.8" fill="url(#cgD)"/>
<rect x="1331.6" y="373.8" width="15" height="221.8" fill="none" stroke="#222" stroke-width="2"/>
<text x="1353.8" y="423.7" font-size="24" textLength="49.8" lengthAdjust="spacingAndGlyphs">0.05</text>
<text x="1353.8" y="493" font-size="24" textLength="14.3" lengthAdjust="spacingAndGlyphs">0</text>
<text x="1353.8" y="562.3" font-size="24" textLength="58.8" lengthAdjust="spacingAndGlyphs">-0.05</text>
<path d="M1346.6 415.4H1342.6M1346.6 484.7H1342.6M1346.6 554H1342.6" stroke="#222" stroke-width="1.5" fill="none"/>
<text x="733" y="364.2" font-size="29" font-weight="bold">D</text>
</svg>
</body></html>
